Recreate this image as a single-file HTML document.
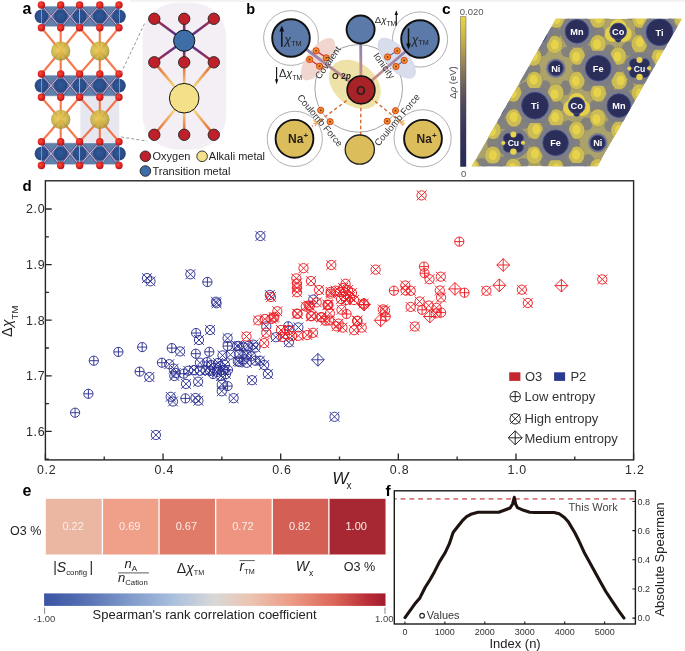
<!DOCTYPE html>
<html><head><meta charset="utf-8"><style>
html,body{margin:0;padding:0;background:#fff;}
svg{display:block;will-change:transform;font-family:"Liberation Sans", sans-serif;}
</style></head><body>
<svg width="685" height="651" viewBox="0 0 685 651">
<defs>
<radialGradient id="gy" cx="0.45" cy="0.42" r="0.6"><stop offset="0" stop-color="#ecd256"/><stop offset="0.65" stop-color="#c9ae3e"/><stop offset="1" stop-color="#a08c34"/></radialGradient>
<radialGradient id="gb" cx="0.45" cy="0.45" r="0.6"><stop offset="0" stop-color="#30599a"/><stop offset="1" stop-color="#24467e"/></radialGradient>
<radialGradient id="gr" cx="0.4" cy="0.4" r="0.6"><stop offset="0" stop-color="#f84a3a"/><stop offset="0.8" stop-color="#d41c1c"/><stop offset="1" stop-color="#b01414"/></radialGradient>
<linearGradient id="bp0" x1="0" y1="1" x2="0" y2="0"><stop offset="0" stop-color="#5a3a8a"/><stop offset="1" stop-color="#b02a40"/></linearGradient>
<linearGradient id="bp1" x1="0" y1="0" x2="0" y2="1"><stop offset="0" stop-color="#5a3a8a"/><stop offset="1" stop-color="#b02a40"/></linearGradient>
<linearGradient id="by0" x1="0" y1="1" x2="0" y2="0"><stop offset="0" stop-color="#f8d880"/><stop offset="1" stop-color="#e06030"/></linearGradient>
<linearGradient id="by1" x1="0" y1="0" x2="0" y2="1"><stop offset="0" stop-color="#f8d880"/><stop offset="1" stop-color="#e06030"/></linearGradient>
<clipPath id="cpc"><path d="M556,18.8L681.8,18.8L597.5,166.2L471.7,166.2Z"/></clipPath><linearGradient id="cbar" x1="0" y1="0" x2="0" y2="1"><stop offset="0" stop-color="#ecd63c"/><stop offset="0.15" stop-color="#c9b14a"/><stop offset="0.35" stop-color="#8c7a58"/><stop offset="0.55" stop-color="#574b5c"/><stop offset="0.75" stop-color="#38355f"/><stop offset="1" stop-color="#272a5e"/></linearGradient><linearGradient id="spc" x1="0" y1="0" x2="1" y2="0"><stop offset="0" stop-color="#3b54a5"/><stop offset="0.12" stop-color="#5670b3"/><stop offset="0.25" stop-color="#7f9acb"/><stop offset="0.38" stop-color="#abc0de"/><stop offset="0.5" stop-color="#d9d8d6"/><stop offset="0.6" stop-color="#ebc5b3"/><stop offset="0.72" stop-color="#ec9d87"/><stop offset="0.85" stop-color="#dc6658"/><stop offset="0.95" stop-color="#b82c36"/><stop offset="1" stop-color="#a21c2c"/></linearGradient></defs>
<rect x="130" y="0" width="555" height="1.8" fill="#f3f1f2"/>
<rect x="80.4" y="96" width="38.8" height="46" fill="#e7e7f0"/><line x1="60.7" y1="51.0" x2="41.4" y2="27.7" stroke="#f3622e" stroke-width="2.1" stroke-opacity="0.85"/><line x1="60.7" y1="51.0" x2="41.4" y2="74.0" stroke="#f3622e" stroke-width="2.1" stroke-opacity="0.85"/><line x1="60.7" y1="51.0" x2="60.7" y2="27.7" stroke="#f3622e" stroke-width="2.1" stroke-opacity="0.85"/><line x1="60.7" y1="51.0" x2="60.7" y2="74.0" stroke="#f3622e" stroke-width="2.1" stroke-opacity="0.85"/><line x1="60.7" y1="51.0" x2="79.6" y2="27.7" stroke="#f3622e" stroke-width="2.1" stroke-opacity="0.85"/><line x1="60.7" y1="51.0" x2="79.6" y2="74.0" stroke="#f3622e" stroke-width="2.1" stroke-opacity="0.85"/><line x1="99.8" y1="51.0" x2="79.6" y2="27.7" stroke="#f3622e" stroke-width="2.1" stroke-opacity="0.85"/><line x1="99.8" y1="51.0" x2="79.6" y2="74.0" stroke="#f3622e" stroke-width="2.1" stroke-opacity="0.85"/><line x1="99.8" y1="51.0" x2="99.8" y2="27.7" stroke="#f3622e" stroke-width="2.1" stroke-opacity="0.85"/><line x1="99.8" y1="51.0" x2="99.8" y2="74.0" stroke="#f3622e" stroke-width="2.1" stroke-opacity="0.85"/><line x1="99.8" y1="51.0" x2="119.0" y2="27.7" stroke="#f3622e" stroke-width="2.1" stroke-opacity="0.85"/><line x1="99.8" y1="51.0" x2="119.0" y2="74.0" stroke="#f3622e" stroke-width="2.1" stroke-opacity="0.85"/><line x1="60.7" y1="119.5" x2="41.4" y2="97.2" stroke="#f3622e" stroke-width="2.1" stroke-opacity="0.85"/><line x1="60.7" y1="119.5" x2="41.4" y2="141.8" stroke="#f3622e" stroke-width="2.1" stroke-opacity="0.85"/><line x1="60.7" y1="119.5" x2="60.7" y2="97.2" stroke="#f3622e" stroke-width="2.1" stroke-opacity="0.85"/><line x1="60.7" y1="119.5" x2="60.7" y2="141.8" stroke="#f3622e" stroke-width="2.1" stroke-opacity="0.85"/><line x1="60.7" y1="119.5" x2="79.6" y2="97.2" stroke="#f3622e" stroke-width="2.1" stroke-opacity="0.85"/><line x1="60.7" y1="119.5" x2="79.6" y2="141.8" stroke="#f3622e" stroke-width="2.1" stroke-opacity="0.85"/><line x1="99.8" y1="119.5" x2="79.6" y2="97.2" stroke="#f3622e" stroke-width="2.1" stroke-opacity="0.85"/><line x1="99.8" y1="119.5" x2="79.6" y2="141.8" stroke="#f3622e" stroke-width="2.1" stroke-opacity="0.85"/><line x1="99.8" y1="119.5" x2="99.8" y2="97.2" stroke="#f3622e" stroke-width="2.1" stroke-opacity="0.85"/><line x1="99.8" y1="119.5" x2="99.8" y2="141.8" stroke="#f3622e" stroke-width="2.1" stroke-opacity="0.85"/><line x1="99.8" y1="119.5" x2="119.0" y2="97.2" stroke="#f3622e" stroke-width="2.1" stroke-opacity="0.85"/><line x1="99.8" y1="119.5" x2="119.0" y2="141.8" stroke="#f3622e" stroke-width="2.1" stroke-opacity="0.85"/><circle cx="60.7" cy="51.0" r="9.7" fill="url(#gy)" opacity="0.88"/><circle cx="60.7" cy="119.5" r="9.7" fill="url(#gy)" opacity="0.88"/><circle cx="99.8" cy="51.0" r="9.7" fill="url(#gy)" opacity="0.88"/><circle cx="99.8" cy="119.5" r="9.7" fill="url(#gy)" opacity="0.88"/><rect x="41.7" y="6.2" width="37.89999999999999" height="20.3" fill="#5e80ab"/><rect x="79.6" y="6.2" width="39.7" height="20.3" fill="#5e80ab"/><circle cx="41.4" cy="16.35" r="6.8" fill="url(#gb)"/><circle cx="60.7" cy="16.35" r="6.8" fill="url(#gb)"/><circle cx="79.6" cy="16.35" r="6.8" fill="url(#gb)"/><circle cx="99.8" cy="16.35" r="6.8" fill="url(#gb)"/><circle cx="119.0" cy="16.35" r="6.8" fill="url(#gb)"/><path d="M41.4,5.0L60.7,27.7M60.7,5.0L41.4,27.7" stroke="#644884" stroke-width="2.2" opacity="0.85"/><path d="M60.7,5.0L79.6,27.7M79.6,5.0L60.7,27.7" stroke="#644884" stroke-width="2.2" opacity="0.85"/><path d="M79.6,5.0L99.8,27.7M99.8,5.0L79.6,27.7" stroke="#644884" stroke-width="2.2" opacity="0.85"/><path d="M99.8,5.0L119.0,27.7M119.0,5.0L99.8,27.7" stroke="#644884" stroke-width="2.2" opacity="0.85"/><path d="M44.10,8.18L58.00,24.52M58.00,8.18L44.10,24.52" stroke="#c8d6ea" stroke-width="0.9"/><path d="M63.35,8.18L76.95,24.52M76.95,8.18L63.35,24.52" stroke="#c8d6ea" stroke-width="0.9"/><path d="M82.43,8.18L96.97,24.52M96.97,8.18L82.43,24.52" stroke="#c8d6ea" stroke-width="0.9"/><path d="M102.49,8.18L116.31,24.52M116.31,8.18L102.49,24.52" stroke="#c8d6ea" stroke-width="0.9"/><rect x="41.7" y="6.2" width="37.89999999999999" height="20.3" fill="none" stroke="#b9bfd6" stroke-width="0.6"/><rect x="79.6" y="6.2" width="39.7" height="20.3" fill="none" stroke="#b9bfd6" stroke-width="0.6"/><circle cx="41.4" cy="5.0" r="3.7" fill="url(#gr)"/><circle cx="41.4" cy="27.7" r="3.7" fill="url(#gr)"/><circle cx="60.7" cy="5.0" r="3.7" fill="url(#gr)"/><circle cx="60.7" cy="27.7" r="3.7" fill="url(#gr)"/><circle cx="79.6" cy="5.0" r="3.7" fill="url(#gr)"/><circle cx="79.6" cy="27.7" r="3.7" fill="url(#gr)"/><circle cx="99.8" cy="5.0" r="3.7" fill="url(#gr)"/><circle cx="99.8" cy="27.7" r="3.7" fill="url(#gr)"/><circle cx="119.0" cy="5.0" r="3.7" fill="url(#gr)"/><circle cx="119.0" cy="27.7" r="3.7" fill="url(#gr)"/><rect x="41.7" y="75.2" width="37.89999999999999" height="20.800000000000004" fill="#5e80ab"/><rect x="79.6" y="75.2" width="39.7" height="20.800000000000004" fill="#5e80ab"/><circle cx="41.4" cy="85.6" r="6.8" fill="url(#gb)"/><circle cx="60.7" cy="85.6" r="6.8" fill="url(#gb)"/><circle cx="79.6" cy="85.6" r="6.8" fill="url(#gb)"/><circle cx="99.8" cy="85.6" r="6.8" fill="url(#gb)"/><circle cx="119.0" cy="85.6" r="6.8" fill="url(#gb)"/><path d="M41.4,74.0L60.7,97.2M60.7,74.0L41.4,97.2" stroke="#644884" stroke-width="2.2" opacity="0.85"/><path d="M60.7,74.0L79.6,97.2M79.6,74.0L60.7,97.2" stroke="#644884" stroke-width="2.2" opacity="0.85"/><path d="M79.6,74.0L99.8,97.2M99.8,74.0L79.6,97.2" stroke="#644884" stroke-width="2.2" opacity="0.85"/><path d="M99.8,74.0L119.0,97.2M119.0,74.0L99.8,97.2" stroke="#644884" stroke-width="2.2" opacity="0.85"/><path d="M44.10,77.25L58.00,93.95M58.00,77.25L44.10,93.95" stroke="#c8d6ea" stroke-width="0.9"/><path d="M63.35,77.25L76.95,93.95M76.95,77.25L63.35,93.95" stroke="#c8d6ea" stroke-width="0.9"/><path d="M82.43,77.25L96.97,93.95M96.97,77.25L82.43,93.95" stroke="#c8d6ea" stroke-width="0.9"/><path d="M102.49,77.25L116.31,93.95M116.31,77.25L102.49,93.95" stroke="#c8d6ea" stroke-width="0.9"/><rect x="41.7" y="75.2" width="37.89999999999999" height="20.800000000000004" fill="none" stroke="#b9bfd6" stroke-width="0.6"/><rect x="79.6" y="75.2" width="39.7" height="20.800000000000004" fill="none" stroke="#b9bfd6" stroke-width="0.6"/><circle cx="41.4" cy="74.0" r="3.7" fill="url(#gr)"/><circle cx="41.4" cy="97.2" r="3.7" fill="url(#gr)"/><circle cx="60.7" cy="74.0" r="3.7" fill="url(#gr)"/><circle cx="60.7" cy="97.2" r="3.7" fill="url(#gr)"/><circle cx="79.6" cy="74.0" r="3.7" fill="url(#gr)"/><circle cx="79.6" cy="97.2" r="3.7" fill="url(#gr)"/><circle cx="99.8" cy="74.0" r="3.7" fill="url(#gr)"/><circle cx="99.8" cy="97.2" r="3.7" fill="url(#gr)"/><circle cx="119.0" cy="74.0" r="3.7" fill="url(#gr)"/><circle cx="119.0" cy="97.2" r="3.7" fill="url(#gr)"/><rect x="41.7" y="143.0" width="37.89999999999999" height="21.29999999999999" fill="#5e80ab"/><rect x="79.6" y="143.0" width="39.7" height="21.29999999999999" fill="#5e80ab"/><circle cx="41.4" cy="153.65" r="6.8" fill="url(#gb)"/><circle cx="60.7" cy="153.65" r="6.8" fill="url(#gb)"/><circle cx="79.6" cy="153.65" r="6.8" fill="url(#gb)"/><circle cx="99.8" cy="153.65" r="6.8" fill="url(#gb)"/><circle cx="119.0" cy="153.65" r="6.8" fill="url(#gb)"/><path d="M41.4,141.8L60.7,165.5M60.7,141.8L41.4,165.5" stroke="#644884" stroke-width="2.2" opacity="0.85"/><path d="M60.7,141.8L79.6,165.5M79.6,141.8L60.7,165.5" stroke="#644884" stroke-width="2.2" opacity="0.85"/><path d="M79.6,141.8L99.8,165.5M99.8,141.8L79.6,165.5" stroke="#644884" stroke-width="2.2" opacity="0.85"/><path d="M99.8,141.8L119.0,165.5M119.0,141.8L99.8,165.5" stroke="#644884" stroke-width="2.2" opacity="0.85"/><path d="M44.10,145.12L58.00,162.18M58.00,145.12L44.10,162.18" stroke="#c8d6ea" stroke-width="0.9"/><path d="M63.35,145.12L76.95,162.18M76.95,145.12L63.35,162.18" stroke="#c8d6ea" stroke-width="0.9"/><path d="M82.43,145.12L96.97,162.18M96.97,145.12L82.43,162.18" stroke="#c8d6ea" stroke-width="0.9"/><path d="M102.49,145.12L116.31,162.18M116.31,145.12L102.49,162.18" stroke="#c8d6ea" stroke-width="0.9"/><rect x="41.7" y="143.0" width="37.89999999999999" height="21.29999999999999" fill="none" stroke="#b9bfd6" stroke-width="0.6"/><rect x="79.6" y="143.0" width="39.7" height="21.29999999999999" fill="none" stroke="#b9bfd6" stroke-width="0.6"/><circle cx="41.4" cy="141.8" r="3.7" fill="url(#gr)"/><circle cx="41.4" cy="165.5" r="3.7" fill="url(#gr)"/><circle cx="60.7" cy="141.8" r="3.7" fill="url(#gr)"/><circle cx="60.7" cy="165.5" r="3.7" fill="url(#gr)"/><circle cx="79.6" cy="141.8" r="3.7" fill="url(#gr)"/><circle cx="79.6" cy="165.5" r="3.7" fill="url(#gr)"/><circle cx="99.8" cy="141.8" r="3.7" fill="url(#gr)"/><circle cx="99.8" cy="165.5" r="3.7" fill="url(#gr)"/><circle cx="119.0" cy="141.8" r="3.7" fill="url(#gr)"/><circle cx="119.0" cy="165.5" r="3.7" fill="url(#gr)"/><path d="M121,73.3L144.6,23.5M121,137L147.4,141.1" stroke="#8a8a8a" stroke-width="0.9" stroke-dasharray="3,2.2" fill="none"/><rect x="142.6" y="2.8" width="83.6" height="146.6" rx="34" ry="34" fill="#f4eff5"/><linearGradient id="tb1" gradientUnits="userSpaceOnUse" x1="184.2" y1="40.7" x2="154.3" y2="18.8"><stop offset="0.3" stop-color="#5e3488"/><stop offset="1" stop-color="#b02a40"/></linearGradient><line x1="184.2" y1="40.7" x2="154.3" y2="18.8" stroke="url(#tb1)" stroke-width="2.6"/><linearGradient id="tb2" gradientUnits="userSpaceOnUse" x1="184.2" y1="40.7" x2="154.3" y2="62.3"><stop offset="0.3" stop-color="#5e3488"/><stop offset="1" stop-color="#b02a40"/></linearGradient><line x1="184.2" y1="40.7" x2="154.3" y2="62.3" stroke="url(#tb2)" stroke-width="2.6"/><linearGradient id="tb3" gradientUnits="userSpaceOnUse" x1="184.2" y1="40.7" x2="184.2" y2="18.8"><stop offset="0.3" stop-color="#5e3488"/><stop offset="1" stop-color="#b02a40"/></linearGradient><line x1="184.2" y1="40.7" x2="184.2" y2="18.8" stroke="url(#tb3)" stroke-width="2.6"/><linearGradient id="tb4" gradientUnits="userSpaceOnUse" x1="184.2" y1="40.7" x2="184.2" y2="62.3"><stop offset="0.3" stop-color="#5e3488"/><stop offset="1" stop-color="#b02a40"/></linearGradient><line x1="184.2" y1="40.7" x2="184.2" y2="62.3" stroke="url(#tb4)" stroke-width="2.6"/><linearGradient id="tb5" gradientUnits="userSpaceOnUse" x1="184.2" y1="40.7" x2="213.8" y2="18.8"><stop offset="0.3" stop-color="#5e3488"/><stop offset="1" stop-color="#b02a40"/></linearGradient><line x1="184.2" y1="40.7" x2="213.8" y2="18.8" stroke="url(#tb5)" stroke-width="2.6"/><linearGradient id="tb6" gradientUnits="userSpaceOnUse" x1="184.2" y1="40.7" x2="213.8" y2="62.3"><stop offset="0.3" stop-color="#5e3488"/><stop offset="1" stop-color="#b02a40"/></linearGradient><line x1="184.2" y1="40.7" x2="213.8" y2="62.3" stroke="url(#tb6)" stroke-width="2.6"/><linearGradient id="tb7" gradientUnits="userSpaceOnUse" x1="184.2" y1="98.2" x2="154.3" y2="62.3"><stop offset="0.35" stop-color="#f6d27a"/><stop offset="1" stop-color="#e0582c"/></linearGradient><line x1="184.2" y1="98.2" x2="154.3" y2="62.3" stroke="url(#tb7)" stroke-width="2.6"/><linearGradient id="tb8" gradientUnits="userSpaceOnUse" x1="184.2" y1="98.2" x2="154.3" y2="134.8"><stop offset="0.35" stop-color="#f6d27a"/><stop offset="1" stop-color="#e0582c"/></linearGradient><line x1="184.2" y1="98.2" x2="154.3" y2="134.8" stroke="url(#tb8)" stroke-width="2.6"/><linearGradient id="tb9" gradientUnits="userSpaceOnUse" x1="184.2" y1="98.2" x2="184.2" y2="62.3"><stop offset="0.35" stop-color="#f6d27a"/><stop offset="1" stop-color="#e0582c"/></linearGradient><line x1="184.2" y1="98.2" x2="184.2" y2="62.3" stroke="url(#tb9)" stroke-width="2.6"/><linearGradient id="tb10" gradientUnits="userSpaceOnUse" x1="184.2" y1="98.2" x2="184.2" y2="134.8"><stop offset="0.35" stop-color="#f6d27a"/><stop offset="1" stop-color="#e0582c"/></linearGradient><line x1="184.2" y1="98.2" x2="184.2" y2="134.8" stroke="url(#tb10)" stroke-width="2.6"/><linearGradient id="tb11" gradientUnits="userSpaceOnUse" x1="184.2" y1="98.2" x2="213.8" y2="62.3"><stop offset="0.35" stop-color="#f6d27a"/><stop offset="1" stop-color="#e0582c"/></linearGradient><line x1="184.2" y1="98.2" x2="213.8" y2="62.3" stroke="url(#tb11)" stroke-width="2.6"/><linearGradient id="tb12" gradientUnits="userSpaceOnUse" x1="184.2" y1="98.2" x2="213.8" y2="134.8"><stop offset="0.35" stop-color="#f6d27a"/><stop offset="1" stop-color="#e0582c"/></linearGradient><line x1="184.2" y1="98.2" x2="213.8" y2="134.8" stroke="url(#tb12)" stroke-width="2.6"/><circle cx="184.2" cy="40.7" r="10.6" fill="#3d6ea8" stroke="#111" stroke-width="1"/><circle cx="184.2" cy="98.2" r="14.8" fill="#f5e08a" stroke="#111" stroke-width="1"/><circle cx="154.3" cy="18.8" r="5.7" fill="#c0202a" stroke="#222" stroke-width="0.9"/><circle cx="154.3" cy="62.3" r="5.7" fill="#c0202a" stroke="#222" stroke-width="0.9"/><circle cx="154.3" cy="134.8" r="5.7" fill="#c0202a" stroke="#222" stroke-width="0.9"/><circle cx="184.2" cy="18.8" r="5.7" fill="#c0202a" stroke="#222" stroke-width="0.9"/><circle cx="184.2" cy="62.3" r="5.7" fill="#c0202a" stroke="#222" stroke-width="0.9"/><circle cx="184.2" cy="134.8" r="5.7" fill="#c0202a" stroke="#222" stroke-width="0.9"/><circle cx="213.8" cy="18.8" r="5.7" fill="#c0202a" stroke="#222" stroke-width="0.9"/><circle cx="213.8" cy="62.3" r="5.7" fill="#c0202a" stroke="#222" stroke-width="0.9"/><circle cx="213.8" cy="134.8" r="5.7" fill="#c0202a" stroke="#222" stroke-width="0.9"/><circle cx="145.4" cy="156.3" r="5.3" fill="#c0202a" stroke="#222" stroke-width="0.9"/><circle cx="202.1" cy="156.3" r="5.3" fill="#f5e08a" stroke="#222" stroke-width="0.9"/><circle cx="145.4" cy="171" r="5.3" fill="#3d6ea8" stroke="#222" stroke-width="0.9"/><text x="152.5" y="160.3" font-size="11" fill="#222">Oxygen</text><text x="208.8" y="160.3" font-size="11" fill="#222">Alkali metal</text><text x="152.5" y="175" font-size="11" fill="#222">Transition metal</text><text x="22.5" y="13.9" font-size="16" font-weight="bold" fill="#000">a</text><circle cx="291" cy="38" r="27.4" fill="none" stroke="#9a9a9a" stroke-width="0.8"/><circle cx="420" cy="39.5" r="27.6" fill="none" stroke="#9a9a9a" stroke-width="0.8"/><circle cx="294.8" cy="138.9" r="27.6" fill="none" stroke="#9a9a9a" stroke-width="0.8"/><circle cx="422.6" cy="138.3" r="28.6" fill="none" stroke="#9a9a9a" stroke-width="0.8"/><circle cx="358.7" cy="88.4" r="43.8" fill="none" stroke="#9a9a9a" stroke-width="0.9"/><ellipse cx="318.3" cy="59.3" rx="25" ry="11" transform="rotate(-54 318 59.5)" fill="#f1d6cf"/><ellipse cx="396.6" cy="58.2" rx="25" ry="11" transform="rotate(48 396.6 58.4)" fill="#d9deec" stroke="#c5cce2" stroke-width="0.6"/><ellipse cx="354.8" cy="84.3" rx="29" ry="21" transform="rotate(40 354.8 84.3)" fill="#eee2a8"/><linearGradient id="bd291" gradientUnits="userSpaceOnUse" x1="291" y1="38" x2="361" y2="89.8"><stop offset="0.25" stop-color="#8c82b4"/><stop offset="0.6" stop-color="#b48c98"/><stop offset="1" stop-color="#de8e66"/></linearGradient><line x1="291" y1="38" x2="361" y2="89.8" stroke="url(#bd291)" stroke-width="2.8"/><linearGradient id="bd360" gradientUnits="userSpaceOnUse" x1="360.6" y1="29.5" x2="361" y2="89.8"><stop offset="0.25" stop-color="#8c82b4"/><stop offset="0.6" stop-color="#b48c98"/><stop offset="1" stop-color="#de8e66"/></linearGradient><line x1="360.6" y1="29.5" x2="361" y2="89.8" stroke="url(#bd360)" stroke-width="2.8"/><linearGradient id="bd420" gradientUnits="userSpaceOnUse" x1="420" y1="39" x2="361" y2="89.8"><stop offset="0.25" stop-color="#8c82b4"/><stop offset="0.6" stop-color="#b48c98"/><stop offset="1" stop-color="#de8e66"/></linearGradient><line x1="420" y1="39" x2="361" y2="89.8" stroke="url(#bd420)" stroke-width="2.8"/><line x1="361" y1="89.8" x2="312" y2="126.5" stroke="#d56a2e" stroke-width="1.4" stroke-dasharray="3.4,2.6"/><line x1="361" y1="89.8" x2="360.6" y2="135" stroke="#d56a2e" stroke-width="1.4" stroke-dasharray="3.4,2.6"/><line x1="361" y1="89.8" x2="403.5" y2="124.5" stroke="#d56a2e" stroke-width="1.4" stroke-dasharray="3.4,2.6"/><path d="M316.1,50.8L326.3,57.8M309.6,59.5L319.6,66.2" stroke="#c8202a" stroke-width="1.1"/><path d="M397.2,50.8L387.6,56.9M404.2,60.4L396,66.5" stroke="#3a6ab0" stroke-width="1.1"/><circle cx="316.1" cy="50.8" r="3.1" fill="#f0902a" stroke="#d8441c" stroke-width="1"/><circle cx="316.1" cy="50.8" r="0.9" fill="#6a3010"/><circle cx="326.3" cy="57.8" r="3.1" fill="#f0902a" stroke="#d8441c" stroke-width="1"/><circle cx="326.3" cy="57.8" r="0.9" fill="#6a3010"/><circle cx="309.6" cy="59.5" r="3.1" fill="#f0902a" stroke="#d8441c" stroke-width="1"/><circle cx="309.6" cy="59.5" r="0.9" fill="#6a3010"/><circle cx="319.6" cy="66.2" r="3.1" fill="#f0902a" stroke="#d8441c" stroke-width="1"/><circle cx="319.6" cy="66.2" r="0.9" fill="#6a3010"/><circle cx="397.2" cy="50.8" r="3.1" fill="#f0902a" stroke="#d8441c" stroke-width="1"/><circle cx="397.2" cy="50.8" r="0.9" fill="#6a3010"/><circle cx="387.6" cy="56.9" r="3.1" fill="#f0902a" stroke="#d8441c" stroke-width="1"/><circle cx="387.6" cy="56.9" r="0.9" fill="#6a3010"/><circle cx="404.2" cy="60.4" r="3.1" fill="#f0902a" stroke="#d8441c" stroke-width="1"/><circle cx="404.2" cy="60.4" r="0.9" fill="#6a3010"/><circle cx="396" cy="66.5" r="3.1" fill="#f0902a" stroke="#d8441c" stroke-width="1"/><circle cx="396" cy="66.5" r="0.9" fill="#6a3010"/><circle cx="320.7" cy="110.3" r="3.1" fill="#f0902a" stroke="#d8441c" stroke-width="1"/><circle cx="320.7" cy="110.3" r="0.9" fill="#6a3010"/><circle cx="330.1" cy="121.7" r="3.1" fill="#f0902a" stroke="#d8441c" stroke-width="1"/><circle cx="330.1" cy="121.7" r="0.9" fill="#6a3010"/><circle cx="395.5" cy="110.7" r="3.1" fill="#f0902a" stroke="#d8441c" stroke-width="1"/><circle cx="395.5" cy="110.7" r="0.9" fill="#6a3010"/><circle cx="387.2" cy="121.2" r="3.1" fill="#f0902a" stroke="#d8441c" stroke-width="1"/><circle cx="387.2" cy="121.2" r="0.9" fill="#6a3010"/><g transform="translate(317.5 122.6) scale(1 1)"><path d="M0,0L-4,-2.2M0,0L-4.2,1M0,0L-2.5,3.5M0,0L3,-3" stroke="#f0b060" stroke-width="1.2"/></g><g transform="translate(400.4 122.4) scale(-1 1)"><path d="M0,0L-4,-2.2M0,0L-4.2,1M0,0L-2.5,3.5M0,0L3,-3" stroke="#f0b060" stroke-width="1.2"/></g><circle cx="291" cy="38" r="18.8" fill="#5b7aa9" stroke="#111" stroke-width="1.9"/><circle cx="360.6" cy="29.5" r="14.0" fill="#5b7aa9" stroke="#111" stroke-width="1.9"/><circle cx="420" cy="39" r="18.8" fill="#5b7aa9" stroke="#111" stroke-width="1.9"/><circle cx="361" cy="89.9" r="13.9" fill="#a72328" stroke="#111" stroke-width="1.6"/><text x="360.7" y="95" font-size="12.4" font-weight="bold" text-anchor="middle" fill="#2a1e1e">O</text><circle cx="359.8" cy="149.6" r="14.6" fill="#dcbd5c" stroke="#222" stroke-width="1.3"/><circle cx="294.5" cy="138.8" r="18.9" fill="#dcbd5c" stroke="#111" stroke-width="1.9"/><text x="288.1" y="142.8" font-size="12" font-weight="bold" fill="#2a2018">Na<tspan font-size="8" dy="-4.6">+</tspan></text><circle cx="423" cy="138.8" r="18.9" fill="#dcbd5c" stroke="#111" stroke-width="1.9"/><text x="416.6" y="142.8" font-size="12" font-weight="bold" fill="#2a2018">Na<tspan font-size="8" dy="-4.6">+</tspan></text><path d="M281.8,46.7V29" stroke="#111" stroke-width="1.5"/><path d="M281.8,25.5L279.4,31.5H284.2Z" fill="#111"/><text x="284.6" y="44" font-size="12" font-style="italic" fill="#222">χ<tspan font-style="normal" font-size="7.2" dy="1.6">TM</tspan></text><path d="M408.5,28.3V46" stroke="#111" stroke-width="1.5"/><path d="M408.5,49.5L406.1,43.5H410.9Z" fill="#111"/><text x="411.8" y="43.8" font-size="12" font-style="italic" fill="#222">χ<tspan font-style="normal" font-size="7.2" dy="1.6">TM</tspan></text><text x="374.8" y="22.5" font-size="9.6" fill="#222">Δ<tspan font-style="italic">χ</tspan><tspan font-size="6.8" dy="3">TM</tspan></text><path d="M396.3,25.6V13.5" stroke="#111" stroke-width="1.1"/><path d="M396.3,10.3L394.6,15H398Z" fill="#111"/><text x="279" y="76.5" font-size="11" fill="#222">Δ<tspan font-style="italic">χ</tspan><tspan font-size="6.6" dy="3">TM</tspan></text><path d="M276.6,67.1V80.5" stroke="#111" stroke-width="1.1"/><path d="M276.6,84.4L275,79.3H278.2Z" fill="#111"/><text transform="translate(330.5 64.5) rotate(-55)" font-size="9.5" text-anchor="middle" fill="#333">Covalent</text><text transform="translate(381.5 67.5) rotate(55)" font-size="9.5" text-anchor="middle" fill="#333">Ionicity</text><text x="341.5" y="79" font-size="8.5" font-weight="bold" text-anchor="middle" fill="#222">O 2<tspan font-style="italic">p</tspan></text><text transform="translate(317.5 122.5) rotate(50)" font-size="9.5" text-anchor="middle" fill="#333">Coulomb Force</text><text transform="translate(399.5 122) rotate(-50)" font-size="9.5" text-anchor="middle" fill="#333">Coulomb Force</text><text x="246.3" y="14.1" font-size="14.5" font-weight="bold" fill="#000">b</text><g clip-path="url(#cpc)"><path d="M556,18.8L681.8,18.8L597.5,166.2L471.7,166.2Z" fill="#aba26c"/><ellipse cx="555.4" cy="-116.8" rx="5.9" ry="6.5" fill="#82817e"/><ellipse cx="525.4" cy="-100.2" rx="5.0" ry="7.1" fill="#82817e"/><ellipse cx="544.9" cy="-99.6" rx="7.5" ry="6.2" fill="#82817e"/><ellipse cx="473.3" cy="31.3" rx="6.6" ry="5.4" fill="#82817e"/><ellipse cx="441.0" cy="51.4" rx="6.3" ry="6.9" fill="#82817e"/><ellipse cx="462.2" cy="48.2" rx="6.9" ry="6.5" fill="#82817e"/><ellipse cx="386.8" cy="177.9" rx="7.2" ry="6.2" fill="#82817e"/><ellipse cx="357.0" cy="199.8" rx="6.8" ry="7.3" fill="#82817e"/><ellipse cx="376.7" cy="199.5" rx="6.1" ry="7.3" fill="#82817e"/><ellipse cx="683.9" cy="-118.6" rx="5.3" ry="5.5" fill="#82817e"/><ellipse cx="652.8" cy="-98.8" rx="6.6" ry="5.8" fill="#82817e"/><ellipse cx="671.9" cy="-99.0" rx="5.9" ry="6.5" fill="#82817e"/><ellipse cx="598.3" cy="33.0" rx="6.7" ry="7.3" fill="#82817e"/><ellipse cx="567.9" cy="51.9" rx="6.7" ry="5.4" fill="#82817e"/><ellipse cx="588.9" cy="51.8" rx="7.3" ry="6.4" fill="#82817e"/><ellipse cx="514.5" cy="178.6" rx="7.1" ry="6.4" fill="#82817e"/><ellipse cx="481.2" cy="196.6" rx="7.1" ry="7.5" fill="#82817e"/><ellipse cx="501.5" cy="199.5" rx="6.0" ry="5.4" fill="#82817e"/><ellipse cx="807.6" cy="-115.9" rx="7.2" ry="5.1" fill="#82817e"/><ellipse cx="777.4" cy="-100.3" rx="6.8" ry="5.8" fill="#82817e"/><ellipse cx="799.4" cy="-96.6" rx="6.3" ry="7.5" fill="#82817e"/><ellipse cx="723.2" cy="29.7" rx="6.5" ry="5.1" fill="#82817e"/><ellipse cx="691.3" cy="49.5" rx="6.5" ry="5.4" fill="#82817e"/><ellipse cx="711.7" cy="51.4" rx="5.8" ry="7.4" fill="#82817e"/><ellipse cx="641.2" cy="179.3" rx="6.2" ry="6.3" fill="#82817e"/><ellipse cx="608.7" cy="198.7" rx="6.4" ry="6.6" fill="#82817e"/><ellipse cx="630.9" cy="198.3" rx="6.1" ry="6.8" fill="#82817e"/><ellipse cx="596.6" cy="-117.8" rx="7.4" ry="6.3" fill="#82817e"/><ellipse cx="566.3" cy="-100.5" rx="6.0" ry="6.4" fill="#82817e"/><ellipse cx="585.2" cy="-98.0" rx="6.6" ry="5.2" fill="#82817e"/><ellipse cx="513.7" cy="31.3" rx="6.7" ry="5.9" fill="#82817e"/><ellipse cx="482.5" cy="50.9" rx="5.1" ry="5.2" fill="#82817e"/><ellipse cx="503.4" cy="51.8" rx="5.6" ry="6.1" fill="#82817e"/><ellipse cx="429.2" cy="179.1" rx="5.9" ry="5.8" fill="#82817e"/><ellipse cx="396.8" cy="198.7" rx="5.8" ry="5.9" fill="#82817e"/><ellipse cx="419.4" cy="196.4" rx="6.4" ry="6.8" fill="#82817e"/><ellipse cx="722.8" cy="-118.1" rx="7.0" ry="5.6" fill="#82817e"/><ellipse cx="690.8" cy="-98.8" rx="6.7" ry="5.3" fill="#82817e"/><ellipse cx="712.4" cy="-99.2" rx="7.1" ry="6.1" fill="#82817e"/><ellipse cx="640.6" cy="30.1" rx="5.8" ry="6.6" fill="#82817e"/><ellipse cx="609.2" cy="49.7" rx="5.6" ry="5.3" fill="#82817e"/><ellipse cx="628.8" cy="48.7" rx="7.0" ry="7.1" fill="#82817e"/><ellipse cx="553.5" cy="178.9" rx="7.0" ry="6.6" fill="#82817e"/><ellipse cx="524.5" cy="197.7" rx="5.3" ry="5.7" fill="#82817e"/><ellipse cx="545.5" cy="197.4" rx="5.9" ry="6.0" fill="#82817e"/><ellipse cx="849.3" cy="-117.4" rx="7.3" ry="5.4" fill="#82817e"/><ellipse cx="816.1" cy="-96.7" rx="7.2" ry="7.5" fill="#82817e"/><ellipse cx="838.8" cy="-96.7" rx="7.3" ry="5.6" fill="#82817e"/><ellipse cx="766.2" cy="32.7" rx="6.7" ry="6.3" fill="#82817e"/><ellipse cx="732.9" cy="49.3" rx="5.6" ry="5.2" fill="#82817e"/><ellipse cx="755.1" cy="49.0" rx="7.0" ry="5.1" fill="#82817e"/><ellipse cx="682.4" cy="180.6" rx="7.3" ry="7.2" fill="#82817e"/><ellipse cx="650.9" cy="198.6" rx="5.0" ry="6.9" fill="#82817e"/><ellipse cx="669.0" cy="197.5" rx="6.7" ry="6.3" fill="#82817e"/><ellipse cx="638.7" cy="-114.4" rx="6.5" ry="5.9" fill="#82817e"/><ellipse cx="606.5" cy="-96.3" rx="6.2" ry="7.0" fill="#82817e"/><ellipse cx="627.9" cy="-98.9" rx="6.3" ry="7.0" fill="#82817e"/><ellipse cx="553.3" cy="33.4" rx="7.3" ry="7.0" fill="#82817e"/><ellipse cx="524.4" cy="48.7" rx="6.6" ry="7.2" fill="#82817e"/><ellipse cx="542.3" cy="49.8" rx="5.7" ry="6.3" fill="#82817e"/><ellipse cx="469.9" cy="180.5" rx="6.9" ry="5.0" fill="#82817e"/><ellipse cx="436.9" cy="197.6" rx="5.3" ry="5.2" fill="#82817e"/><ellipse cx="461.6" cy="200.5" rx="5.2" ry="6.3" fill="#82817e"/><ellipse cx="764.3" cy="-116.9" rx="5.9" ry="6.6" fill="#82817e"/><ellipse cx="733.8" cy="-98.3" rx="5.5" ry="5.8" fill="#82817e"/><ellipse cx="753.0" cy="-97.5" rx="6.8" ry="6.0" fill="#82817e"/><ellipse cx="678.9" cy="30.9" rx="5.9" ry="6.5" fill="#82817e"/><ellipse cx="650.2" cy="50.2" rx="7.0" ry="6.6" fill="#82817e"/><ellipse cx="669.8" cy="50.2" rx="6.2" ry="6.8" fill="#82817e"/><ellipse cx="595.9" cy="181.4" rx="6.2" ry="5.6" fill="#82817e"/><ellipse cx="564.8" cy="199.9" rx="5.2" ry="6.1" fill="#82817e"/><ellipse cx="585.4" cy="200.6" rx="7.3" ry="5.9" fill="#82817e"/><ellipse cx="892.6" cy="-115.0" rx="5.7" ry="6.2" fill="#82817e"/><ellipse cx="858.0" cy="-96.4" rx="6.7" ry="7.2" fill="#82817e"/><ellipse cx="881.7" cy="-97.0" rx="6.8" ry="6.4" fill="#82817e"/><ellipse cx="805.0" cy="32.6" rx="5.0" ry="5.4" fill="#82817e"/><ellipse cx="776.2" cy="48.9" rx="5.2" ry="5.2" fill="#82817e"/><ellipse cx="797.6" cy="49.4" rx="5.1" ry="7.1" fill="#82817e"/><ellipse cx="720.7" cy="182.0" rx="6.7" ry="7.1" fill="#82817e"/><ellipse cx="692.5" cy="199.4" rx="7.0" ry="5.1" fill="#82817e"/><ellipse cx="712.8" cy="199.1" rx="6.8" ry="5.3" fill="#82817e"/><ellipse cx="536.2" cy="-78.5" rx="5.2" ry="5.8" fill="#82817e"/><ellipse cx="504.0" cy="-60.4" rx="5.6" ry="5.4" fill="#82817e"/><ellipse cx="523.7" cy="-61.2" rx="6.9" ry="6.0" fill="#82817e"/><ellipse cx="450.3" cy="67.8" rx="5.9" ry="6.0" fill="#82817e"/><ellipse cx="417.6" cy="86.7" rx="7.4" ry="6.0" fill="#82817e"/><ellipse cx="441.3" cy="85.3" rx="6.7" ry="6.9" fill="#82817e"/><ellipse cx="367.1" cy="216.7" rx="6.2" ry="6.6" fill="#82817e"/><ellipse cx="336.5" cy="233.7" rx="5.2" ry="6.9" fill="#82817e"/><ellipse cx="357.6" cy="235.2" rx="6.1" ry="6.8" fill="#82817e"/><ellipse cx="659.9" cy="-81.1" rx="5.5" ry="6.5" fill="#82817e"/><ellipse cx="629.0" cy="-62.8" rx="6.7" ry="7.4" fill="#82817e"/><ellipse cx="649.9" cy="-60.9" rx="6.0" ry="7.1" fill="#82817e"/><ellipse cx="577.1" cy="67.3" rx="5.5" ry="5.1" fill="#82817e"/><ellipse cx="545.2" cy="86.2" rx="5.4" ry="5.9" fill="#82817e"/><ellipse cx="565.6" cy="87.8" rx="5.4" ry="7.5" fill="#82817e"/><ellipse cx="492.3" cy="217.0" rx="6.2" ry="7.1" fill="#82817e"/><ellipse cx="462.2" cy="235.3" rx="6.2" ry="6.8" fill="#82817e"/><ellipse cx="483.3" cy="234.7" rx="6.8" ry="7.4" fill="#82817e"/><ellipse cx="787.1" cy="-81.3" rx="5.6" ry="6.8" fill="#82817e"/><ellipse cx="756.4" cy="-59.9" rx="7.1" ry="5.6" fill="#82817e"/><ellipse cx="775.5" cy="-62.7" rx="5.5" ry="6.8" fill="#82817e"/><ellipse cx="704.2" cy="69.8" rx="5.6" ry="7.2" fill="#82817e"/><ellipse cx="670.6" cy="86.4" rx="6.8" ry="5.2" fill="#82817e"/><ellipse cx="690.7" cy="88.0" rx="5.7" ry="5.9" fill="#82817e"/><ellipse cx="618.7" cy="217.3" rx="5.0" ry="5.8" fill="#82817e"/><ellipse cx="586.6" cy="235.0" rx="5.5" ry="6.5" fill="#82817e"/><ellipse cx="609.7" cy="234.7" rx="6.4" ry="5.3" fill="#82817e"/><ellipse cx="576.7" cy="-79.5" rx="5.3" ry="7.2" fill="#82817e"/><ellipse cx="547.7" cy="-63.3" rx="7.4" ry="5.9" fill="#82817e"/><ellipse cx="568.2" cy="-60.7" rx="5.7" ry="6.7" fill="#82817e"/><ellipse cx="493.8" cy="69.4" rx="5.7" ry="6.9" fill="#82817e"/><ellipse cx="463.5" cy="87.4" rx="6.3" ry="5.3" fill="#82817e"/><ellipse cx="482.7" cy="86.1" rx="6.8" ry="6.7" fill="#82817e"/><ellipse cx="409.1" cy="215.3" rx="6.6" ry="6.6" fill="#82817e"/><ellipse cx="376.0" cy="236.7" rx="6.6" ry="5.3" fill="#82817e"/><ellipse cx="400.0" cy="233.7" rx="5.8" ry="6.8" fill="#82817e"/><ellipse cx="704.0" cy="-80.0" rx="6.6" ry="6.1" fill="#82817e"/><ellipse cx="671.3" cy="-63.0" rx="5.2" ry="6.8" fill="#82817e"/><ellipse cx="694.1" cy="-61.5" rx="6.8" ry="5.9" fill="#82817e"/><ellipse cx="618.3" cy="67.7" rx="7.2" ry="5.1" fill="#82817e"/><ellipse cx="587.7" cy="85.7" rx="6.9" ry="5.9" fill="#82817e"/><ellipse cx="608.0" cy="86.3" rx="6.4" ry="6.9" fill="#82817e"/><ellipse cx="534.2" cy="218.0" rx="5.3" ry="5.7" fill="#82817e"/><ellipse cx="501.7" cy="233.6" rx="6.9" ry="6.8" fill="#82817e"/><ellipse cx="523.0" cy="233.9" rx="6.0" ry="6.9" fill="#82817e"/><ellipse cx="830.9" cy="-79.2" rx="6.5" ry="5.4" fill="#82817e"/><ellipse cx="797.7" cy="-62.9" rx="6.3" ry="6.4" fill="#82817e"/><ellipse cx="817.9" cy="-62.7" rx="7.0" ry="5.1" fill="#82817e"/><ellipse cx="746.4" cy="69.8" rx="7.4" ry="6.0" fill="#82817e"/><ellipse cx="713.9" cy="87.0" rx="6.6" ry="7.4" fill="#82817e"/><ellipse cx="735.4" cy="85.9" rx="7.2" ry="6.2" fill="#82817e"/><ellipse cx="661.2" cy="217.5" rx="5.0" ry="6.9" fill="#82817e"/><ellipse cx="629.9" cy="235.1" rx="6.3" ry="6.2" fill="#82817e"/><ellipse cx="649.1" cy="235.2" rx="5.1" ry="6.3" fill="#82817e"/><ellipse cx="619.5" cy="-80.4" rx="6.4" ry="7.4" fill="#82817e"/><ellipse cx="589.0" cy="-63.2" rx="7.0" ry="6.6" fill="#82817e"/><ellipse cx="606.6" cy="-62.3" rx="5.6" ry="5.2" fill="#82817e"/><ellipse cx="534.7" cy="69.9" rx="5.8" ry="7.2" fill="#82817e"/><ellipse cx="503.8" cy="85.2" rx="7.1" ry="6.5" fill="#82817e"/><ellipse cx="525.7" cy="87.6" rx="6.8" ry="5.9" fill="#82817e"/><ellipse cx="451.3" cy="218.3" rx="7.2" ry="6.1" fill="#82817e"/><ellipse cx="419.6" cy="235.0" rx="5.3" ry="5.1" fill="#82817e"/><ellipse cx="437.9" cy="233.9" rx="5.4" ry="6.2" fill="#82817e"/><ellipse cx="745.7" cy="-80.1" rx="6.1" ry="6.6" fill="#82817e"/><ellipse cx="712.6" cy="-61.8" rx="6.9" ry="6.0" fill="#82817e"/><ellipse cx="733.1" cy="-60.1" rx="6.8" ry="5.9" fill="#82817e"/><ellipse cx="660.0" cy="68.3" rx="6.5" ry="5.6" fill="#82817e"/><ellipse cx="627.0" cy="85.5" rx="7.0" ry="5.4" fill="#82817e"/><ellipse cx="649.8" cy="85.5" rx="5.5" ry="5.4" fill="#82817e"/><ellipse cx="575.7" cy="215.3" rx="5.1" ry="5.3" fill="#82817e"/><ellipse cx="543.3" cy="235.1" rx="5.1" ry="5.1" fill="#82817e"/><ellipse cx="565.4" cy="234.7" rx="6.8" ry="5.1" fill="#82817e"/><ellipse cx="870.5" cy="-80.6" rx="5.1" ry="7.4" fill="#82817e"/><ellipse cx="838.3" cy="-63.3" rx="6.2" ry="5.4" fill="#82817e"/><ellipse cx="860.9" cy="-62.3" rx="5.3" ry="5.1" fill="#82817e"/><ellipse cx="787.4" cy="67.3" rx="7.0" ry="6.2" fill="#82817e"/><ellipse cx="756.7" cy="85.9" rx="5.6" ry="5.7" fill="#82817e"/><ellipse cx="777.3" cy="87.2" rx="5.9" ry="5.2" fill="#82817e"/><ellipse cx="702.8" cy="218.5" rx="6.5" ry="5.0" fill="#82817e"/><ellipse cx="668.7" cy="233.5" rx="5.4" ry="5.1" fill="#82817e"/><ellipse cx="689.8" cy="235.7" rx="7.3" ry="5.5" fill="#82817e"/><ellipse cx="516.3" cy="-42.9" rx="7.0" ry="7.3" fill="#82817e"/><ellipse cx="484.7" cy="-26.2" rx="5.8" ry="6.5" fill="#82817e"/><ellipse cx="505.7" cy="-25.9" rx="5.7" ry="7.1" fill="#82817e"/><ellipse cx="428.5" cy="105.2" rx="5.8" ry="6.7" fill="#82817e"/><ellipse cx="400.2" cy="122.8" rx="6.8" ry="6.8" fill="#82817e"/><ellipse cx="420.8" cy="124.3" rx="7.3" ry="5.9" fill="#82817e"/><ellipse cx="345.3" cy="252.9" rx="6.9" ry="6.2" fill="#82817e"/><ellipse cx="313.2" cy="271.2" rx="6.8" ry="6.5" fill="#82817e"/><ellipse cx="335.9" cy="272.0" rx="6.2" ry="5.4" fill="#82817e"/><ellipse cx="641.2" cy="-44.7" rx="6.2" ry="6.9" fill="#82817e"/><ellipse cx="609.6" cy="-25.9" rx="5.6" ry="7.1" fill="#82817e"/><ellipse cx="630.5" cy="-22.8" rx="7.2" ry="6.1" fill="#82817e"/><ellipse cx="557.6" cy="106.5" rx="5.8" ry="5.9" fill="#82817e"/><ellipse cx="522.8" cy="123.7" rx="7.4" ry="5.3" fill="#82817e"/><ellipse cx="545.8" cy="122.5" rx="5.2" ry="6.6" fill="#82817e"/><ellipse cx="470.6" cy="252.2" rx="5.4" ry="6.6" fill="#82817e"/><ellipse cx="440.4" cy="270.5" rx="5.6" ry="7.4" fill="#82817e"/><ellipse cx="460.0" cy="272.7" rx="6.0" ry="7.0" fill="#82817e"/><ellipse cx="766.8" cy="-41.6" rx="6.3" ry="5.5" fill="#82817e"/><ellipse cx="733.6" cy="-26.0" rx="7.1" ry="5.3" fill="#82817e"/><ellipse cx="754.0" cy="-22.4" rx="5.5" ry="7.2" fill="#82817e"/><ellipse cx="680.3" cy="105.5" rx="5.6" ry="7.1" fill="#82817e"/><ellipse cx="651.0" cy="124.7" rx="6.9" ry="7.2" fill="#82817e"/><ellipse cx="670.9" cy="124.5" rx="6.1" ry="5.3" fill="#82817e"/><ellipse cx="598.9" cy="254.4" rx="7.0" ry="5.5" fill="#82817e"/><ellipse cx="566.3" cy="272.4" rx="6.8" ry="5.2" fill="#82817e"/><ellipse cx="586.5" cy="272.4" rx="5.2" ry="6.4" fill="#82817e"/><ellipse cx="557.0" cy="-43.1" rx="6.6" ry="6.5" fill="#82817e"/><ellipse cx="523.5" cy="-24.9" rx="7.5" ry="5.8" fill="#82817e"/><ellipse cx="545.3" cy="-26.0" rx="5.5" ry="5.4" fill="#82817e"/><ellipse cx="473.4" cy="106.5" rx="7.2" ry="7.5" fill="#82817e"/><ellipse cx="440.6" cy="125.8" rx="6.3" ry="6.0" fill="#82817e"/><ellipse cx="463.0" cy="125.7" rx="7.4" ry="6.2" fill="#82817e"/><ellipse cx="388.4" cy="253.6" rx="7.5" ry="7.3" fill="#82817e"/><ellipse cx="355.0" cy="274.2" rx="5.5" ry="5.2" fill="#82817e"/><ellipse cx="377.7" cy="271.7" rx="6.3" ry="6.6" fill="#82817e"/><ellipse cx="680.3" cy="-41.8" rx="5.7" ry="6.1" fill="#82817e"/><ellipse cx="650.0" cy="-23.3" rx="6.9" ry="5.7" fill="#82817e"/><ellipse cx="670.0" cy="-25.1" rx="6.0" ry="5.2" fill="#82817e"/><ellipse cx="596.3" cy="106.7" rx="6.8" ry="7.4" fill="#82817e"/><ellipse cx="568.1" cy="125.6" rx="5.9" ry="5.4" fill="#82817e"/><ellipse cx="586.4" cy="124.0" rx="6.3" ry="6.4" fill="#82817e"/><ellipse cx="512.7" cy="255.4" rx="5.7" ry="6.2" fill="#82817e"/><ellipse cx="483.3" cy="273.7" rx="5.7" ry="5.6" fill="#82817e"/><ellipse cx="504.0" cy="270.5" rx="5.3" ry="6.3" fill="#82817e"/><ellipse cx="808.2" cy="-44.1" rx="5.1" ry="5.5" fill="#82817e"/><ellipse cx="777.7" cy="-24.4" rx="7.4" ry="7.0" fill="#82817e"/><ellipse cx="799.5" cy="-26.2" rx="5.5" ry="5.0" fill="#82817e"/><ellipse cx="723.4" cy="105.0" rx="5.1" ry="6.4" fill="#82817e"/><ellipse cx="690.6" cy="123.3" rx="5.6" ry="7.0" fill="#82817e"/><ellipse cx="712.9" cy="123.1" rx="5.1" ry="6.1" fill="#82817e"/><ellipse cx="639.8" cy="254.7" rx="7.3" ry="7.0" fill="#82817e"/><ellipse cx="606.8" cy="271.0" rx="6.9" ry="7.0" fill="#82817e"/><ellipse cx="628.8" cy="273.8" rx="6.4" ry="5.7" fill="#82817e"/><ellipse cx="597.0" cy="-44.7" rx="6.6" ry="7.2" fill="#82817e"/><ellipse cx="568.4" cy="-24.4" rx="6.7" ry="7.3" fill="#82817e"/><ellipse cx="589.1" cy="-23.9" rx="6.0" ry="6.3" fill="#82817e"/><ellipse cx="512.6" cy="104.3" rx="6.7" ry="7.5" fill="#82817e"/><ellipse cx="482.6" cy="123.7" rx="5.9" ry="6.1" fill="#82817e"/><ellipse cx="504.6" cy="123.9" rx="7.4" ry="5.4" fill="#82817e"/><ellipse cx="428.8" cy="254.1" rx="6.0" ry="7.1" fill="#82817e"/><ellipse cx="399.3" cy="274.2" rx="6.5" ry="5.1" fill="#82817e"/><ellipse cx="419.3" cy="272.7" rx="6.2" ry="5.7" fill="#82817e"/><ellipse cx="725.1" cy="-41.2" rx="5.3" ry="6.7" fill="#82817e"/><ellipse cx="692.3" cy="-24.2" rx="7.2" ry="7.4" fill="#82817e"/><ellipse cx="714.4" cy="-25.5" rx="7.3" ry="5.5" fill="#82817e"/><ellipse cx="639.4" cy="106.9" rx="5.8" ry="5.7" fill="#82817e"/><ellipse cx="610.2" cy="125.9" rx="5.8" ry="6.0" fill="#82817e"/><ellipse cx="628.5" cy="122.6" rx="5.6" ry="7.5" fill="#82817e"/><ellipse cx="553.8" cy="252.9" rx="5.5" ry="5.2" fill="#82817e"/><ellipse cx="524.1" cy="273.5" rx="7.1" ry="6.6" fill="#82817e"/><ellipse cx="546.3" cy="270.5" rx="5.7" ry="7.4" fill="#82817e"/><ellipse cx="848.6" cy="-43.7" rx="6.2" ry="5.7" fill="#82817e"/><ellipse cx="819.0" cy="-26.1" rx="5.6" ry="7.4" fill="#82817e"/><ellipse cx="838.4" cy="-22.7" rx="5.4" ry="7.5" fill="#82817e"/><ellipse cx="766.6" cy="106.2" rx="5.4" ry="5.1" fill="#82817e"/><ellipse cx="735.4" cy="122.8" rx="5.5" ry="7.1" fill="#82817e"/><ellipse cx="756.9" cy="122.3" rx="7.4" ry="6.3" fill="#82817e"/><ellipse cx="681.0" cy="252.4" rx="6.0" ry="7.5" fill="#82817e"/><ellipse cx="649.1" cy="271.0" rx="5.4" ry="5.3" fill="#82817e"/><ellipse cx="670.4" cy="274.2" rx="5.2" ry="5.5" fill="#82817e"/><ellipse cx="494.6" cy="-3.6" rx="7.4" ry="5.6" fill="#82817e"/><ellipse cx="460.7" cy="14.7" rx="6.2" ry="6.8" fill="#82817e"/><ellipse cx="481.6" cy="11.0" rx="5.9" ry="6.9" fill="#82817e"/><ellipse cx="409.5" cy="143.1" rx="6.2" ry="6.3" fill="#82817e"/><ellipse cx="376.7" cy="161.4" rx="7.1" ry="5.5" fill="#82817e"/><ellipse cx="398.3" cy="163.0" rx="7.1" ry="5.4" fill="#82817e"/><ellipse cx="325.9" cy="292.6" rx="5.4" ry="5.7" fill="#82817e"/><ellipse cx="291.3" cy="307.9" rx="7.4" ry="6.0" fill="#82817e"/><ellipse cx="315.0" cy="308.2" rx="5.0" ry="7.2" fill="#82817e"/><ellipse cx="620.0" cy="-3.6" rx="6.7" ry="6.3" fill="#82817e"/><ellipse cx="588.4" cy="11.3" rx="6.4" ry="6.1" fill="#82817e"/><ellipse cx="606.9" cy="13.3" rx="5.8" ry="6.3" fill="#82817e"/><ellipse cx="533.9" cy="142.1" rx="5.9" ry="6.5" fill="#82817e"/><ellipse cx="504.8" cy="163.0" rx="7.2" ry="7.1" fill="#82817e"/><ellipse cx="523.0" cy="163.2" rx="5.7" ry="5.3" fill="#82817e"/><ellipse cx="450.0" cy="292.1" rx="5.9" ry="6.6" fill="#82817e"/><ellipse cx="417.6" cy="311.6" rx="6.1" ry="6.2" fill="#82817e"/><ellipse cx="439.6" cy="311.2" rx="7.5" ry="6.3" fill="#82817e"/><ellipse cx="744.6" cy="-5.1" rx="5.2" ry="6.1" fill="#82817e"/><ellipse cx="714.7" cy="14.0" rx="5.1" ry="7.1" fill="#82817e"/><ellipse cx="733.8" cy="14.8" rx="5.9" ry="5.5" fill="#82817e"/><ellipse cx="660.6" cy="144.3" rx="6.1" ry="7.2" fill="#82817e"/><ellipse cx="629.7" cy="160.7" rx="5.8" ry="6.3" fill="#82817e"/><ellipse cx="649.5" cy="160.8" rx="6.6" ry="7.2" fill="#82817e"/><ellipse cx="576.3" cy="289.8" rx="5.5" ry="5.9" fill="#82817e"/><ellipse cx="545.0" cy="308.3" rx="5.2" ry="5.8" fill="#82817e"/><ellipse cx="564.6" cy="307.8" rx="6.3" ry="7.3" fill="#82817e"/><ellipse cx="535.1" cy="-4.7" rx="7.1" ry="7.1" fill="#82817e"/><ellipse cx="505.2" cy="12.7" rx="6.7" ry="5.3" fill="#82817e"/><ellipse cx="526.0" cy="12.4" rx="6.2" ry="7.2" fill="#82817e"/><ellipse cx="449.7" cy="141.6" rx="7.1" ry="6.5" fill="#82817e"/><ellipse cx="417.4" cy="159.4" rx="5.9" ry="5.0" fill="#82817e"/><ellipse cx="441.4" cy="160.0" rx="5.7" ry="6.0" fill="#82817e"/><ellipse cx="366.2" cy="290.9" rx="6.6" ry="6.6" fill="#82817e"/><ellipse cx="334.4" cy="308.1" rx="7.4" ry="6.7" fill="#82817e"/><ellipse cx="354.0" cy="309.5" rx="6.9" ry="7.5" fill="#82817e"/><ellipse cx="659.3" cy="-7.6" rx="6.2" ry="6.1" fill="#82817e"/><ellipse cx="631.1" cy="14.2" rx="5.8" ry="6.0" fill="#82817e"/><ellipse cx="650.8" cy="14.4" rx="5.5" ry="6.0" fill="#82817e"/><ellipse cx="575.0" cy="143.4" rx="5.1" ry="7.3" fill="#82817e"/><ellipse cx="545.2" cy="161.6" rx="5.2" ry="5.6" fill="#82817e"/><ellipse cx="566.0" cy="162.7" rx="6.3" ry="5.7" fill="#82817e"/><ellipse cx="494.1" cy="291.8" rx="6.3" ry="5.5" fill="#82817e"/><ellipse cx="459.9" cy="311.3" rx="5.3" ry="6.3" fill="#82817e"/><ellipse cx="482.2" cy="309.1" rx="6.9" ry="7.3" fill="#82817e"/><ellipse cx="788.4" cy="-4.6" rx="5.5" ry="5.1" fill="#82817e"/><ellipse cx="755.2" cy="12.1" rx="5.5" ry="7.2" fill="#82817e"/><ellipse cx="775.4" cy="14.2" rx="7.3" ry="5.3" fill="#82817e"/><ellipse cx="704.3" cy="142.4" rx="5.5" ry="5.5" fill="#82817e"/><ellipse cx="669.3" cy="161.3" rx="6.0" ry="7.1" fill="#82817e"/><ellipse cx="693.4" cy="159.5" rx="6.0" ry="6.0" fill="#82817e"/><ellipse cx="616.9" cy="290.2" rx="5.7" ry="6.7" fill="#82817e"/><ellipse cx="586.1" cy="308.1" rx="5.6" ry="6.1" fill="#82817e"/><ellipse cx="608.0" cy="308.7" rx="6.7" ry="5.5" fill="#82817e"/><ellipse cx="577.9" cy="-5.2" rx="5.4" ry="6.9" fill="#82817e"/><ellipse cx="545.3" cy="13.1" rx="6.5" ry="6.6" fill="#82817e"/><ellipse cx="566.5" cy="11.1" rx="7.0" ry="7.1" fill="#82817e"/><ellipse cx="492.8" cy="143.1" rx="5.7" ry="7.2" fill="#82817e"/><ellipse cx="462.0" cy="160.2" rx="7.0" ry="7.5" fill="#82817e"/><ellipse cx="481.7" cy="163.3" rx="6.2" ry="5.4" fill="#82817e"/><ellipse cx="409.3" cy="290.6" rx="6.8" ry="6.5" fill="#82817e"/><ellipse cx="375.3" cy="309.8" rx="7.1" ry="6.2" fill="#82817e"/><ellipse cx="398.1" cy="311.2" rx="6.1" ry="6.2" fill="#82817e"/><ellipse cx="703.5" cy="-4.3" rx="5.5" ry="5.2" fill="#82817e"/><ellipse cx="672.7" cy="13.1" rx="5.8" ry="7.2" fill="#82817e"/><ellipse cx="694.2" cy="13.1" rx="7.5" ry="7.1" fill="#82817e"/><ellipse cx="619.8" cy="142.0" rx="5.0" ry="6.7" fill="#82817e"/><ellipse cx="588.2" cy="160.7" rx="6.2" ry="6.4" fill="#82817e"/><ellipse cx="607.3" cy="162.1" rx="6.4" ry="6.0" fill="#82817e"/><ellipse cx="532.8" cy="291.4" rx="5.8" ry="6.8" fill="#82817e"/><ellipse cx="501.6" cy="309.3" rx="5.5" ry="6.0" fill="#82817e"/><ellipse cx="524.2" cy="308.1" rx="5.1" ry="6.2" fill="#82817e"/><ellipse cx="828.0" cy="-5.6" rx="5.4" ry="5.3" fill="#82817e"/><ellipse cx="797.9" cy="14.6" rx="7.2" ry="6.3" fill="#82817e"/><ellipse cx="818.3" cy="11.2" rx="5.7" ry="5.8" fill="#82817e"/><ellipse cx="746.6" cy="141.3" rx="7.4" ry="6.2" fill="#82817e"/><ellipse cx="713.0" cy="160.3" rx="7.4" ry="5.5" fill="#82817e"/><ellipse cx="734.6" cy="161.3" rx="5.5" ry="5.6" fill="#82817e"/><ellipse cx="662.3" cy="292.4" rx="6.8" ry="7.3" fill="#82817e"/><ellipse cx="627.3" cy="310.5" rx="6.9" ry="5.6" fill="#82817e"/><ellipse cx="649.7" cy="311.6" rx="5.8" ry="6.9" fill="#82817e"/><ellipse cx="556.4" cy="-104.6" rx="8" ry="9" fill="#cbbc58" stroke="#7a7040" stroke-width="0.5" stroke-dasharray="1.2,1"/><ellipse cx="555.4" cy="-104.1" rx="4" ry="5" fill="#e6d34a"/><ellipse cx="535.4" cy="-92.3" rx="8" ry="9" fill="#cbbc58" stroke="#7a7040" stroke-width="0.5" stroke-dasharray="1.2,1"/><ellipse cx="534.7" cy="-92.3" rx="4" ry="5" fill="#e6d34a"/><ellipse cx="472.0" cy="43.8" rx="8" ry="9" fill="#cbbc58" stroke="#7a7040" stroke-width="0.5" stroke-dasharray="1.2,1"/><ellipse cx="471.6" cy="44.9" rx="4" ry="5" fill="#e6d34a"/><ellipse cx="451.0" cy="56.1" rx="8" ry="9" fill="#cbbc58" stroke="#7a7040" stroke-width="0.5" stroke-dasharray="1.2,1"/><ellipse cx="451.7" cy="56.1" rx="4" ry="5" fill="#e6d34a"/><ellipse cx="387.6" cy="192.2" rx="8" ry="9" fill="#cbbc58" stroke="#7a7040" stroke-width="0.5" stroke-dasharray="1.2,1"/><ellipse cx="388.2" cy="192.0" rx="4" ry="5" fill="#e6d34a"/><ellipse cx="366.6" cy="204.5" rx="8" ry="9" fill="#cbbc58" stroke="#7a7040" stroke-width="0.5" stroke-dasharray="1.2,1"/><ellipse cx="367.5" cy="203.8" rx="4" ry="5" fill="#e6d34a"/><ellipse cx="682.4" cy="-104.6" rx="8" ry="9" fill="#cbbc58" stroke="#7a7040" stroke-width="0.5" stroke-dasharray="1.2,1"/><ellipse cx="682.5" cy="-104.3" rx="4" ry="5" fill="#e6d34a"/><ellipse cx="661.4" cy="-92.3" rx="8" ry="9" fill="#cbbc58" stroke="#7a7040" stroke-width="0.5" stroke-dasharray="1.2,1"/><ellipse cx="661.1" cy="-93.7" rx="4" ry="5" fill="#e6d34a"/><ellipse cx="598.0" cy="43.8" rx="8" ry="9" fill="#cbbc58" stroke="#7a7040" stroke-width="0.5" stroke-dasharray="1.2,1"/><ellipse cx="597.0" cy="44.2" rx="4" ry="5" fill="#e6d34a"/><ellipse cx="577.0" cy="56.1" rx="8" ry="9" fill="#cbbc58" stroke="#7a7040" stroke-width="0.5" stroke-dasharray="1.2,1"/><ellipse cx="576.1" cy="56.9" rx="4" ry="5" fill="#e6d34a"/><ellipse cx="513.6" cy="192.2" rx="8" ry="9" fill="#cbbc58" stroke="#7a7040" stroke-width="0.5" stroke-dasharray="1.2,1"/><ellipse cx="513.6" cy="193.6" rx="4" ry="5" fill="#e6d34a"/><ellipse cx="492.6" cy="204.5" rx="8" ry="9" fill="#cbbc58" stroke="#7a7040" stroke-width="0.5" stroke-dasharray="1.2,1"/><ellipse cx="493.6" cy="205.2" rx="4" ry="5" fill="#e6d34a"/><ellipse cx="808.4" cy="-104.6" rx="8" ry="9" fill="#cbbc58" stroke="#7a7040" stroke-width="0.5" stroke-dasharray="1.2,1"/><ellipse cx="808.0" cy="-106.0" rx="4" ry="5" fill="#e6d34a"/><ellipse cx="787.4" cy="-92.3" rx="8" ry="9" fill="#cbbc58" stroke="#7a7040" stroke-width="0.5" stroke-dasharray="1.2,1"/><ellipse cx="787.6" cy="-91.6" rx="4" ry="5" fill="#e6d34a"/><ellipse cx="724.0" cy="43.8" rx="8" ry="9" fill="#cbbc58" stroke="#7a7040" stroke-width="0.5" stroke-dasharray="1.2,1"/><ellipse cx="725.3" cy="42.9" rx="4" ry="5" fill="#e6d34a"/><ellipse cx="703.0" cy="56.1" rx="8" ry="9" fill="#cbbc58" stroke="#7a7040" stroke-width="0.5" stroke-dasharray="1.2,1"/><ellipse cx="702.0" cy="57.5" rx="4" ry="5" fill="#e6d34a"/><ellipse cx="639.6" cy="192.2" rx="8" ry="9" fill="#cbbc58" stroke="#7a7040" stroke-width="0.5" stroke-dasharray="1.2,1"/><ellipse cx="640.3" cy="192.2" rx="4" ry="5" fill="#e6d34a"/><ellipse cx="618.6" cy="204.5" rx="8" ry="9" fill="#cbbc58" stroke="#7a7040" stroke-width="0.5" stroke-dasharray="1.2,1"/><ellipse cx="619.3" cy="203.4" rx="4" ry="5" fill="#e6d34a"/><ellipse cx="597.6" cy="-104.6" rx="8" ry="9" fill="#cbbc58" stroke="#7a7040" stroke-width="0.5" stroke-dasharray="1.2,1"/><ellipse cx="597.7" cy="-104.1" rx="4" ry="5" fill="#e6d34a"/><ellipse cx="576.6" cy="-92.3" rx="8" ry="9" fill="#cbbc58" stroke="#7a7040" stroke-width="0.5" stroke-dasharray="1.2,1"/><ellipse cx="576.9" cy="-93.3" rx="4" ry="5" fill="#e6d34a"/><ellipse cx="513.2" cy="43.8" rx="8" ry="9" fill="#cbbc58" stroke="#7a7040" stroke-width="0.5" stroke-dasharray="1.2,1"/><ellipse cx="512.1" cy="44.2" rx="4" ry="5" fill="#e6d34a"/><ellipse cx="492.2" cy="56.1" rx="8" ry="9" fill="#cbbc58" stroke="#7a7040" stroke-width="0.5" stroke-dasharray="1.2,1"/><ellipse cx="493.4" cy="55.0" rx="4" ry="5" fill="#e6d34a"/><ellipse cx="428.8" cy="192.2" rx="8" ry="9" fill="#cbbc58" stroke="#7a7040" stroke-width="0.5" stroke-dasharray="1.2,1"/><ellipse cx="427.3" cy="190.9" rx="4" ry="5" fill="#e6d34a"/><ellipse cx="407.8" cy="204.5" rx="8" ry="9" fill="#cbbc58" stroke="#7a7040" stroke-width="0.5" stroke-dasharray="1.2,1"/><ellipse cx="408.7" cy="204.2" rx="4" ry="5" fill="#e6d34a"/><ellipse cx="723.6" cy="-104.6" rx="8" ry="9" fill="#cbbc58" stroke="#7a7040" stroke-width="0.5" stroke-dasharray="1.2,1"/><ellipse cx="723.5" cy="-103.1" rx="4" ry="5" fill="#e6d34a"/><ellipse cx="702.6" cy="-92.3" rx="8" ry="9" fill="#cbbc58" stroke="#7a7040" stroke-width="0.5" stroke-dasharray="1.2,1"/><ellipse cx="702.9" cy="-93.0" rx="4" ry="5" fill="#e6d34a"/><ellipse cx="639.2" cy="43.8" rx="8" ry="9" fill="#cbbc58" stroke="#7a7040" stroke-width="0.5" stroke-dasharray="1.2,1"/><ellipse cx="639.8" cy="42.3" rx="4" ry="5" fill="#e6d34a"/><ellipse cx="618.2" cy="56.1" rx="8" ry="9" fill="#cbbc58" stroke="#7a7040" stroke-width="0.5" stroke-dasharray="1.2,1"/><ellipse cx="617.5" cy="56.7" rx="4" ry="5" fill="#e6d34a"/><ellipse cx="554.8" cy="192.2" rx="8" ry="9" fill="#cbbc58" stroke="#7a7040" stroke-width="0.5" stroke-dasharray="1.2,1"/><ellipse cx="553.8" cy="190.8" rx="4" ry="5" fill="#e6d34a"/><ellipse cx="533.8" cy="204.5" rx="8" ry="9" fill="#cbbc58" stroke="#7a7040" stroke-width="0.5" stroke-dasharray="1.2,1"/><ellipse cx="533.9" cy="204.0" rx="4" ry="5" fill="#e6d34a"/><ellipse cx="849.6" cy="-104.6" rx="8" ry="9" fill="#cbbc58" stroke="#7a7040" stroke-width="0.5" stroke-dasharray="1.2,1"/><ellipse cx="851.0" cy="-105.8" rx="4" ry="5" fill="#e6d34a"/><ellipse cx="828.6" cy="-92.3" rx="8" ry="9" fill="#cbbc58" stroke="#7a7040" stroke-width="0.5" stroke-dasharray="1.2,1"/><ellipse cx="829.5" cy="-92.6" rx="4" ry="5" fill="#e6d34a"/><ellipse cx="765.2" cy="43.8" rx="8" ry="9" fill="#cbbc58" stroke="#7a7040" stroke-width="0.5" stroke-dasharray="1.2,1"/><ellipse cx="766.1" cy="43.6" rx="4" ry="5" fill="#e6d34a"/><ellipse cx="744.2" cy="56.1" rx="8" ry="9" fill="#cbbc58" stroke="#7a7040" stroke-width="0.5" stroke-dasharray="1.2,1"/><ellipse cx="744.7" cy="55.6" rx="4" ry="5" fill="#e6d34a"/><ellipse cx="680.8" cy="192.2" rx="8" ry="9" fill="#cbbc58" stroke="#7a7040" stroke-width="0.5" stroke-dasharray="1.2,1"/><ellipse cx="680.0" cy="192.1" rx="4" ry="5" fill="#e6d34a"/><ellipse cx="659.8" cy="204.5" rx="8" ry="9" fill="#cbbc58" stroke="#7a7040" stroke-width="0.5" stroke-dasharray="1.2,1"/><ellipse cx="660.7" cy="204.0" rx="4" ry="5" fill="#e6d34a"/><ellipse cx="639.0" cy="-103.8" rx="8" ry="9" fill="#cbbc58" stroke="#7a7040" stroke-width="0.5" stroke-dasharray="1.2,1"/><ellipse cx="638.2" cy="-104.1" rx="4" ry="5" fill="#e6d34a"/><ellipse cx="618.0" cy="-91.5" rx="8" ry="9" fill="#cbbc58" stroke="#7a7040" stroke-width="0.5" stroke-dasharray="1.2,1"/><ellipse cx="616.8" cy="-92.1" rx="4" ry="5" fill="#e6d34a"/><ellipse cx="554.6" cy="44.6" rx="8" ry="9" fill="#cbbc58" stroke="#7a7040" stroke-width="0.5" stroke-dasharray="1.2,1"/><ellipse cx="554.8" cy="44.7" rx="4" ry="5" fill="#e6d34a"/><ellipse cx="533.6" cy="56.9" rx="8" ry="9" fill="#cbbc58" stroke="#7a7040" stroke-width="0.5" stroke-dasharray="1.2,1"/><ellipse cx="533.9" cy="56.3" rx="4" ry="5" fill="#e6d34a"/><ellipse cx="470.2" cy="193.0" rx="8" ry="9" fill="#cbbc58" stroke="#7a7040" stroke-width="0.5" stroke-dasharray="1.2,1"/><ellipse cx="468.8" cy="191.6" rx="4" ry="5" fill="#e6d34a"/><ellipse cx="449.2" cy="205.3" rx="8" ry="9" fill="#cbbc58" stroke="#7a7040" stroke-width="0.5" stroke-dasharray="1.2,1"/><ellipse cx="448.7" cy="204.4" rx="4" ry="5" fill="#e6d34a"/><ellipse cx="765.0" cy="-103.8" rx="8" ry="9" fill="#cbbc58" stroke="#7a7040" stroke-width="0.5" stroke-dasharray="1.2,1"/><ellipse cx="765.2" cy="-104.5" rx="4" ry="5" fill="#e6d34a"/><ellipse cx="744.0" cy="-91.5" rx="8" ry="9" fill="#cbbc58" stroke="#7a7040" stroke-width="0.5" stroke-dasharray="1.2,1"/><ellipse cx="744.8" cy="-91.2" rx="4" ry="5" fill="#e6d34a"/><ellipse cx="680.6" cy="44.6" rx="8" ry="9" fill="#cbbc58" stroke="#7a7040" stroke-width="0.5" stroke-dasharray="1.2,1"/><ellipse cx="681.1" cy="45.3" rx="4" ry="5" fill="#e6d34a"/><ellipse cx="659.6" cy="56.9" rx="8" ry="9" fill="#cbbc58" stroke="#7a7040" stroke-width="0.5" stroke-dasharray="1.2,1"/><ellipse cx="659.7" cy="56.7" rx="4" ry="5" fill="#e6d34a"/><ellipse cx="596.2" cy="193.0" rx="8" ry="9" fill="#cbbc58" stroke="#7a7040" stroke-width="0.5" stroke-dasharray="1.2,1"/><ellipse cx="595.6" cy="191.7" rx="4" ry="5" fill="#e6d34a"/><ellipse cx="575.2" cy="205.3" rx="8" ry="9" fill="#cbbc58" stroke="#7a7040" stroke-width="0.5" stroke-dasharray="1.2,1"/><ellipse cx="576.1" cy="205.3" rx="4" ry="5" fill="#e6d34a"/><ellipse cx="891.0" cy="-103.8" rx="8" ry="9" fill="#cbbc58" stroke="#7a7040" stroke-width="0.5" stroke-dasharray="1.2,1"/><ellipse cx="889.8" cy="-102.5" rx="4" ry="5" fill="#e6d34a"/><ellipse cx="870.0" cy="-91.5" rx="8" ry="9" fill="#cbbc58" stroke="#7a7040" stroke-width="0.5" stroke-dasharray="1.2,1"/><ellipse cx="870.2" cy="-91.1" rx="4" ry="5" fill="#e6d34a"/><ellipse cx="806.6" cy="44.6" rx="8" ry="9" fill="#cbbc58" stroke="#7a7040" stroke-width="0.5" stroke-dasharray="1.2,1"/><ellipse cx="806.4" cy="43.5" rx="4" ry="5" fill="#e6d34a"/><ellipse cx="785.6" cy="56.9" rx="8" ry="9" fill="#cbbc58" stroke="#7a7040" stroke-width="0.5" stroke-dasharray="1.2,1"/><ellipse cx="787.1" cy="55.9" rx="4" ry="5" fill="#e6d34a"/><ellipse cx="722.2" cy="193.0" rx="8" ry="9" fill="#cbbc58" stroke="#7a7040" stroke-width="0.5" stroke-dasharray="1.2,1"/><ellipse cx="721.8" cy="194.5" rx="4" ry="5" fill="#e6d34a"/><ellipse cx="701.2" cy="205.3" rx="8" ry="9" fill="#cbbc58" stroke="#7a7040" stroke-width="0.5" stroke-dasharray="1.2,1"/><ellipse cx="700.1" cy="205.3" rx="4" ry="5" fill="#e6d34a"/><ellipse cx="535.2" cy="-67.8" rx="8" ry="9" fill="#cbbc58" stroke="#7a7040" stroke-width="0.5" stroke-dasharray="1.2,1"/><ellipse cx="535.1" cy="-68.6" rx="4" ry="5" fill="#e6d34a"/><ellipse cx="514.2" cy="-55.5" rx="8" ry="9" fill="#cbbc58" stroke="#7a7040" stroke-width="0.5" stroke-dasharray="1.2,1"/><ellipse cx="515.5" cy="-55.8" rx="4" ry="5" fill="#e6d34a"/><ellipse cx="450.8" cy="80.6" rx="8" ry="9" fill="#cbbc58" stroke="#7a7040" stroke-width="0.5" stroke-dasharray="1.2,1"/><ellipse cx="449.3" cy="80.5" rx="4" ry="5" fill="#e6d34a"/><ellipse cx="429.8" cy="92.9" rx="8" ry="9" fill="#cbbc58" stroke="#7a7040" stroke-width="0.5" stroke-dasharray="1.2,1"/><ellipse cx="428.3" cy="93.5" rx="4" ry="5" fill="#e6d34a"/><ellipse cx="366.4" cy="229.0" rx="8" ry="9" fill="#cbbc58" stroke="#7a7040" stroke-width="0.5" stroke-dasharray="1.2,1"/><ellipse cx="367.5" cy="230.2" rx="4" ry="5" fill="#e6d34a"/><ellipse cx="345.4" cy="241.3" rx="8" ry="9" fill="#cbbc58" stroke="#7a7040" stroke-width="0.5" stroke-dasharray="1.2,1"/><ellipse cx="344.0" cy="241.8" rx="4" ry="5" fill="#e6d34a"/><ellipse cx="661.2" cy="-67.8" rx="8" ry="9" fill="#cbbc58" stroke="#7a7040" stroke-width="0.5" stroke-dasharray="1.2,1"/><ellipse cx="660.6" cy="-67.9" rx="4" ry="5" fill="#e6d34a"/><ellipse cx="640.2" cy="-55.5" rx="8" ry="9" fill="#cbbc58" stroke="#7a7040" stroke-width="0.5" stroke-dasharray="1.2,1"/><ellipse cx="639.6" cy="-56.1" rx="4" ry="5" fill="#e6d34a"/><ellipse cx="576.8" cy="80.6" rx="8" ry="9" fill="#cbbc58" stroke="#7a7040" stroke-width="0.5" stroke-dasharray="1.2,1"/><ellipse cx="575.7" cy="81.0" rx="4" ry="5" fill="#e6d34a"/><ellipse cx="555.8" cy="92.9" rx="8" ry="9" fill="#cbbc58" stroke="#7a7040" stroke-width="0.5" stroke-dasharray="1.2,1"/><ellipse cx="554.6" cy="94.3" rx="4" ry="5" fill="#e6d34a"/><ellipse cx="492.4" cy="229.0" rx="8" ry="9" fill="#cbbc58" stroke="#7a7040" stroke-width="0.5" stroke-dasharray="1.2,1"/><ellipse cx="491.0" cy="230.4" rx="4" ry="5" fill="#e6d34a"/><ellipse cx="471.4" cy="241.3" rx="8" ry="9" fill="#cbbc58" stroke="#7a7040" stroke-width="0.5" stroke-dasharray="1.2,1"/><ellipse cx="470.5" cy="240.1" rx="4" ry="5" fill="#e6d34a"/><ellipse cx="787.2" cy="-67.8" rx="8" ry="9" fill="#cbbc58" stroke="#7a7040" stroke-width="0.5" stroke-dasharray="1.2,1"/><ellipse cx="787.9" cy="-67.7" rx="4" ry="5" fill="#e6d34a"/><ellipse cx="766.2" cy="-55.5" rx="8" ry="9" fill="#cbbc58" stroke="#7a7040" stroke-width="0.5" stroke-dasharray="1.2,1"/><ellipse cx="767.0" cy="-55.5" rx="4" ry="5" fill="#e6d34a"/><ellipse cx="702.8" cy="80.6" rx="8" ry="9" fill="#cbbc58" stroke="#7a7040" stroke-width="0.5" stroke-dasharray="1.2,1"/><ellipse cx="703.2" cy="79.3" rx="4" ry="5" fill="#e6d34a"/><ellipse cx="681.8" cy="92.9" rx="8" ry="9" fill="#cbbc58" stroke="#7a7040" stroke-width="0.5" stroke-dasharray="1.2,1"/><ellipse cx="682.3" cy="92.9" rx="4" ry="5" fill="#e6d34a"/><ellipse cx="618.4" cy="229.0" rx="8" ry="9" fill="#cbbc58" stroke="#7a7040" stroke-width="0.5" stroke-dasharray="1.2,1"/><ellipse cx="619.8" cy="227.5" rx="4" ry="5" fill="#e6d34a"/><ellipse cx="597.4" cy="241.3" rx="8" ry="9" fill="#cbbc58" stroke="#7a7040" stroke-width="0.5" stroke-dasharray="1.2,1"/><ellipse cx="596.1" cy="241.8" rx="4" ry="5" fill="#e6d34a"/><ellipse cx="577.6" cy="-67.8" rx="8" ry="9" fill="#cbbc58" stroke="#7a7040" stroke-width="0.5" stroke-dasharray="1.2,1"/><ellipse cx="578.9" cy="-68.0" rx="4" ry="5" fill="#e6d34a"/><ellipse cx="556.6" cy="-55.5" rx="8" ry="9" fill="#cbbc58" stroke="#7a7040" stroke-width="0.5" stroke-dasharray="1.2,1"/><ellipse cx="557.2" cy="-55.3" rx="4" ry="5" fill="#e6d34a"/><ellipse cx="493.2" cy="80.6" rx="8" ry="9" fill="#cbbc58" stroke="#7a7040" stroke-width="0.5" stroke-dasharray="1.2,1"/><ellipse cx="492.9" cy="80.5" rx="4" ry="5" fill="#e6d34a"/><ellipse cx="472.2" cy="92.9" rx="8" ry="9" fill="#cbbc58" stroke="#7a7040" stroke-width="0.5" stroke-dasharray="1.2,1"/><ellipse cx="472.5" cy="91.5" rx="4" ry="5" fill="#e6d34a"/><ellipse cx="408.8" cy="229.0" rx="8" ry="9" fill="#cbbc58" stroke="#7a7040" stroke-width="0.5" stroke-dasharray="1.2,1"/><ellipse cx="408.2" cy="229.7" rx="4" ry="5" fill="#e6d34a"/><ellipse cx="387.8" cy="241.3" rx="8" ry="9" fill="#cbbc58" stroke="#7a7040" stroke-width="0.5" stroke-dasharray="1.2,1"/><ellipse cx="387.1" cy="241.2" rx="4" ry="5" fill="#e6d34a"/><ellipse cx="703.6" cy="-67.8" rx="8" ry="9" fill="#cbbc58" stroke="#7a7040" stroke-width="0.5" stroke-dasharray="1.2,1"/><ellipse cx="702.9" cy="-68.2" rx="4" ry="5" fill="#e6d34a"/><ellipse cx="682.6" cy="-55.5" rx="8" ry="9" fill="#cbbc58" stroke="#7a7040" stroke-width="0.5" stroke-dasharray="1.2,1"/><ellipse cx="683.1" cy="-54.8" rx="4" ry="5" fill="#e6d34a"/><ellipse cx="619.2" cy="80.6" rx="8" ry="9" fill="#cbbc58" stroke="#7a7040" stroke-width="0.5" stroke-dasharray="1.2,1"/><ellipse cx="620.6" cy="80.5" rx="4" ry="5" fill="#e6d34a"/><ellipse cx="598.2" cy="92.9" rx="8" ry="9" fill="#cbbc58" stroke="#7a7040" stroke-width="0.5" stroke-dasharray="1.2,1"/><ellipse cx="597.3" cy="92.4" rx="4" ry="5" fill="#e6d34a"/><ellipse cx="534.8" cy="229.0" rx="8" ry="9" fill="#cbbc58" stroke="#7a7040" stroke-width="0.5" stroke-dasharray="1.2,1"/><ellipse cx="533.5" cy="228.2" rx="4" ry="5" fill="#e6d34a"/><ellipse cx="513.8" cy="241.3" rx="8" ry="9" fill="#cbbc58" stroke="#7a7040" stroke-width="0.5" stroke-dasharray="1.2,1"/><ellipse cx="514.1" cy="241.6" rx="4" ry="5" fill="#e6d34a"/><ellipse cx="829.6" cy="-67.8" rx="8" ry="9" fill="#cbbc58" stroke="#7a7040" stroke-width="0.5" stroke-dasharray="1.2,1"/><ellipse cx="828.8" cy="-68.8" rx="4" ry="5" fill="#e6d34a"/><ellipse cx="808.6" cy="-55.5" rx="8" ry="9" fill="#cbbc58" stroke="#7a7040" stroke-width="0.5" stroke-dasharray="1.2,1"/><ellipse cx="807.4" cy="-56.5" rx="4" ry="5" fill="#e6d34a"/><ellipse cx="745.2" cy="80.6" rx="8" ry="9" fill="#cbbc58" stroke="#7a7040" stroke-width="0.5" stroke-dasharray="1.2,1"/><ellipse cx="745.2" cy="79.9" rx="4" ry="5" fill="#e6d34a"/><ellipse cx="724.2" cy="92.9" rx="8" ry="9" fill="#cbbc58" stroke="#7a7040" stroke-width="0.5" stroke-dasharray="1.2,1"/><ellipse cx="725.4" cy="93.1" rx="4" ry="5" fill="#e6d34a"/><ellipse cx="660.8" cy="229.0" rx="8" ry="9" fill="#cbbc58" stroke="#7a7040" stroke-width="0.5" stroke-dasharray="1.2,1"/><ellipse cx="660.3" cy="228.8" rx="4" ry="5" fill="#e6d34a"/><ellipse cx="639.8" cy="241.3" rx="8" ry="9" fill="#cbbc58" stroke="#7a7040" stroke-width="0.5" stroke-dasharray="1.2,1"/><ellipse cx="638.4" cy="242.0" rx="4" ry="5" fill="#e6d34a"/><ellipse cx="618.9" cy="-67.8" rx="8" ry="9" fill="#cbbc58" stroke="#7a7040" stroke-width="0.5" stroke-dasharray="1.2,1"/><ellipse cx="619.7" cy="-68.2" rx="4" ry="5" fill="#e6d34a"/><ellipse cx="597.9" cy="-55.5" rx="8" ry="9" fill="#cbbc58" stroke="#7a7040" stroke-width="0.5" stroke-dasharray="1.2,1"/><ellipse cx="598.6" cy="-56.2" rx="4" ry="5" fill="#e6d34a"/><ellipse cx="534.5" cy="80.6" rx="8" ry="9" fill="#cbbc58" stroke="#7a7040" stroke-width="0.5" stroke-dasharray="1.2,1"/><ellipse cx="533.7" cy="79.8" rx="4" ry="5" fill="#e6d34a"/><ellipse cx="513.5" cy="92.9" rx="8" ry="9" fill="#cbbc58" stroke="#7a7040" stroke-width="0.5" stroke-dasharray="1.2,1"/><ellipse cx="512.6" cy="93.2" rx="4" ry="5" fill="#e6d34a"/><ellipse cx="450.1" cy="229.0" rx="8" ry="9" fill="#cbbc58" stroke="#7a7040" stroke-width="0.5" stroke-dasharray="1.2,1"/><ellipse cx="450.5" cy="229.7" rx="4" ry="5" fill="#e6d34a"/><ellipse cx="429.1" cy="241.3" rx="8" ry="9" fill="#cbbc58" stroke="#7a7040" stroke-width="0.5" stroke-dasharray="1.2,1"/><ellipse cx="427.9" cy="242.1" rx="4" ry="5" fill="#e6d34a"/><ellipse cx="744.9" cy="-67.8" rx="8" ry="9" fill="#cbbc58" stroke="#7a7040" stroke-width="0.5" stroke-dasharray="1.2,1"/><ellipse cx="744.8" cy="-68.2" rx="4" ry="5" fill="#e6d34a"/><ellipse cx="723.9" cy="-55.5" rx="8" ry="9" fill="#cbbc58" stroke="#7a7040" stroke-width="0.5" stroke-dasharray="1.2,1"/><ellipse cx="723.9" cy="-55.7" rx="4" ry="5" fill="#e6d34a"/><ellipse cx="660.5" cy="80.6" rx="8" ry="9" fill="#cbbc58" stroke="#7a7040" stroke-width="0.5" stroke-dasharray="1.2,1"/><ellipse cx="659.6" cy="80.3" rx="4" ry="5" fill="#e6d34a"/><ellipse cx="639.5" cy="92.9" rx="8" ry="9" fill="#cbbc58" stroke="#7a7040" stroke-width="0.5" stroke-dasharray="1.2,1"/><ellipse cx="639.9" cy="93.5" rx="4" ry="5" fill="#e6d34a"/><ellipse cx="576.1" cy="229.0" rx="8" ry="9" fill="#cbbc58" stroke="#7a7040" stroke-width="0.5" stroke-dasharray="1.2,1"/><ellipse cx="577.3" cy="228.1" rx="4" ry="5" fill="#e6d34a"/><ellipse cx="555.1" cy="241.3" rx="8" ry="9" fill="#cbbc58" stroke="#7a7040" stroke-width="0.5" stroke-dasharray="1.2,1"/><ellipse cx="556.3" cy="242.2" rx="4" ry="5" fill="#e6d34a"/><ellipse cx="870.9" cy="-67.8" rx="8" ry="9" fill="#cbbc58" stroke="#7a7040" stroke-width="0.5" stroke-dasharray="1.2,1"/><ellipse cx="871.5" cy="-66.4" rx="4" ry="5" fill="#e6d34a"/><ellipse cx="849.9" cy="-55.5" rx="8" ry="9" fill="#cbbc58" stroke="#7a7040" stroke-width="0.5" stroke-dasharray="1.2,1"/><ellipse cx="848.8" cy="-54.7" rx="4" ry="5" fill="#e6d34a"/><ellipse cx="786.5" cy="80.6" rx="8" ry="9" fill="#cbbc58" stroke="#7a7040" stroke-width="0.5" stroke-dasharray="1.2,1"/><ellipse cx="787.7" cy="79.5" rx="4" ry="5" fill="#e6d34a"/><ellipse cx="765.5" cy="92.9" rx="8" ry="9" fill="#cbbc58" stroke="#7a7040" stroke-width="0.5" stroke-dasharray="1.2,1"/><ellipse cx="765.8" cy="94.2" rx="4" ry="5" fill="#e6d34a"/><ellipse cx="702.1" cy="229.0" rx="8" ry="9" fill="#cbbc58" stroke="#7a7040" stroke-width="0.5" stroke-dasharray="1.2,1"/><ellipse cx="701.5" cy="230.1" rx="4" ry="5" fill="#e6d34a"/><ellipse cx="681.1" cy="241.3" rx="8" ry="9" fill="#cbbc58" stroke="#7a7040" stroke-width="0.5" stroke-dasharray="1.2,1"/><ellipse cx="682.3" cy="241.1" rx="4" ry="5" fill="#e6d34a"/><ellipse cx="514.4" cy="-30.4" rx="8" ry="9" fill="#cbbc58" stroke="#7a7040" stroke-width="0.5" stroke-dasharray="1.2,1"/><ellipse cx="513.3" cy="-31.3" rx="4" ry="5" fill="#e6d34a"/><ellipse cx="493.4" cy="-18.1" rx="8" ry="9" fill="#cbbc58" stroke="#7a7040" stroke-width="0.5" stroke-dasharray="1.2,1"/><ellipse cx="494.4" cy="-18.3" rx="4" ry="5" fill="#e6d34a"/><ellipse cx="430.0" cy="118.0" rx="8" ry="9" fill="#cbbc58" stroke="#7a7040" stroke-width="0.5" stroke-dasharray="1.2,1"/><ellipse cx="429.4" cy="117.8" rx="4" ry="5" fill="#e6d34a"/><ellipse cx="409.0" cy="130.3" rx="8" ry="9" fill="#cbbc58" stroke="#7a7040" stroke-width="0.5" stroke-dasharray="1.2,1"/><ellipse cx="410.3" cy="129.6" rx="4" ry="5" fill="#e6d34a"/><ellipse cx="345.6" cy="266.4" rx="8" ry="9" fill="#cbbc58" stroke="#7a7040" stroke-width="0.5" stroke-dasharray="1.2,1"/><ellipse cx="344.2" cy="267.7" rx="4" ry="5" fill="#e6d34a"/><ellipse cx="324.6" cy="278.7" rx="8" ry="9" fill="#cbbc58" stroke="#7a7040" stroke-width="0.5" stroke-dasharray="1.2,1"/><ellipse cx="324.1" cy="278.4" rx="4" ry="5" fill="#e6d34a"/><ellipse cx="640.4" cy="-30.4" rx="8" ry="9" fill="#cbbc58" stroke="#7a7040" stroke-width="0.5" stroke-dasharray="1.2,1"/><ellipse cx="641.8" cy="-31.1" rx="4" ry="5" fill="#e6d34a"/><ellipse cx="619.4" cy="-18.1" rx="8" ry="9" fill="#cbbc58" stroke="#7a7040" stroke-width="0.5" stroke-dasharray="1.2,1"/><ellipse cx="618.2" cy="-16.9" rx="4" ry="5" fill="#e6d34a"/><ellipse cx="556.0" cy="118.0" rx="8" ry="9" fill="#cbbc58" stroke="#7a7040" stroke-width="0.5" stroke-dasharray="1.2,1"/><ellipse cx="555.2" cy="117.2" rx="4" ry="5" fill="#e6d34a"/><ellipse cx="535.0" cy="130.3" rx="8" ry="9" fill="#cbbc58" stroke="#7a7040" stroke-width="0.5" stroke-dasharray="1.2,1"/><ellipse cx="536.3" cy="129.5" rx="4" ry="5" fill="#e6d34a"/><ellipse cx="471.6" cy="266.4" rx="8" ry="9" fill="#cbbc58" stroke="#7a7040" stroke-width="0.5" stroke-dasharray="1.2,1"/><ellipse cx="472.8" cy="265.9" rx="4" ry="5" fill="#e6d34a"/><ellipse cx="450.6" cy="278.7" rx="8" ry="9" fill="#cbbc58" stroke="#7a7040" stroke-width="0.5" stroke-dasharray="1.2,1"/><ellipse cx="450.0" cy="277.8" rx="4" ry="5" fill="#e6d34a"/><ellipse cx="766.4" cy="-30.4" rx="8" ry="9" fill="#cbbc58" stroke="#7a7040" stroke-width="0.5" stroke-dasharray="1.2,1"/><ellipse cx="766.5" cy="-30.2" rx="4" ry="5" fill="#e6d34a"/><ellipse cx="745.4" cy="-18.1" rx="8" ry="9" fill="#cbbc58" stroke="#7a7040" stroke-width="0.5" stroke-dasharray="1.2,1"/><ellipse cx="745.1" cy="-18.1" rx="4" ry="5" fill="#e6d34a"/><ellipse cx="682.0" cy="118.0" rx="8" ry="9" fill="#cbbc58" stroke="#7a7040" stroke-width="0.5" stroke-dasharray="1.2,1"/><ellipse cx="681.4" cy="119.0" rx="4" ry="5" fill="#e6d34a"/><ellipse cx="661.0" cy="130.3" rx="8" ry="9" fill="#cbbc58" stroke="#7a7040" stroke-width="0.5" stroke-dasharray="1.2,1"/><ellipse cx="662.3" cy="131.1" rx="4" ry="5" fill="#e6d34a"/><ellipse cx="597.6" cy="266.4" rx="8" ry="9" fill="#cbbc58" stroke="#7a7040" stroke-width="0.5" stroke-dasharray="1.2,1"/><ellipse cx="598.6" cy="265.1" rx="4" ry="5" fill="#e6d34a"/><ellipse cx="576.6" cy="278.7" rx="8" ry="9" fill="#cbbc58" stroke="#7a7040" stroke-width="0.5" stroke-dasharray="1.2,1"/><ellipse cx="575.9" cy="277.8" rx="4" ry="5" fill="#e6d34a"/><ellipse cx="556.1" cy="-30.4" rx="8" ry="9" fill="#cbbc58" stroke="#7a7040" stroke-width="0.5" stroke-dasharray="1.2,1"/><ellipse cx="555.1" cy="-29.0" rx="4" ry="5" fill="#e6d34a"/><ellipse cx="535.1" cy="-18.1" rx="8" ry="9" fill="#cbbc58" stroke="#7a7040" stroke-width="0.5" stroke-dasharray="1.2,1"/><ellipse cx="536.3" cy="-16.9" rx="4" ry="5" fill="#e6d34a"/><ellipse cx="471.7" cy="118.0" rx="8" ry="9" fill="#cbbc58" stroke="#7a7040" stroke-width="0.5" stroke-dasharray="1.2,1"/><ellipse cx="471.9" cy="116.8" rx="4" ry="5" fill="#e6d34a"/><ellipse cx="450.7" cy="130.3" rx="8" ry="9" fill="#cbbc58" stroke="#7a7040" stroke-width="0.5" stroke-dasharray="1.2,1"/><ellipse cx="450.5" cy="129.0" rx="4" ry="5" fill="#e6d34a"/><ellipse cx="387.3" cy="266.4" rx="8" ry="9" fill="#cbbc58" stroke="#7a7040" stroke-width="0.5" stroke-dasharray="1.2,1"/><ellipse cx="388.5" cy="265.7" rx="4" ry="5" fill="#e6d34a"/><ellipse cx="366.3" cy="278.7" rx="8" ry="9" fill="#cbbc58" stroke="#7a7040" stroke-width="0.5" stroke-dasharray="1.2,1"/><ellipse cx="365.7" cy="280.0" rx="4" ry="5" fill="#e6d34a"/><ellipse cx="682.1" cy="-30.4" rx="8" ry="9" fill="#cbbc58" stroke="#7a7040" stroke-width="0.5" stroke-dasharray="1.2,1"/><ellipse cx="681.2" cy="-29.1" rx="4" ry="5" fill="#e6d34a"/><ellipse cx="661.1" cy="-18.1" rx="8" ry="9" fill="#cbbc58" stroke="#7a7040" stroke-width="0.5" stroke-dasharray="1.2,1"/><ellipse cx="660.5" cy="-17.6" rx="4" ry="5" fill="#e6d34a"/><ellipse cx="597.7" cy="118.0" rx="8" ry="9" fill="#cbbc58" stroke="#7a7040" stroke-width="0.5" stroke-dasharray="1.2,1"/><ellipse cx="596.5" cy="119.2" rx="4" ry="5" fill="#e6d34a"/><ellipse cx="576.7" cy="130.3" rx="8" ry="9" fill="#cbbc58" stroke="#7a7040" stroke-width="0.5" stroke-dasharray="1.2,1"/><ellipse cx="576.4" cy="129.8" rx="4" ry="5" fill="#e6d34a"/><ellipse cx="513.3" cy="266.4" rx="8" ry="9" fill="#cbbc58" stroke="#7a7040" stroke-width="0.5" stroke-dasharray="1.2,1"/><ellipse cx="513.8" cy="266.7" rx="4" ry="5" fill="#e6d34a"/><ellipse cx="492.3" cy="278.7" rx="8" ry="9" fill="#cbbc58" stroke="#7a7040" stroke-width="0.5" stroke-dasharray="1.2,1"/><ellipse cx="491.6" cy="277.6" rx="4" ry="5" fill="#e6d34a"/><ellipse cx="808.1" cy="-30.4" rx="8" ry="9" fill="#cbbc58" stroke="#7a7040" stroke-width="0.5" stroke-dasharray="1.2,1"/><ellipse cx="808.3" cy="-31.8" rx="4" ry="5" fill="#e6d34a"/><ellipse cx="787.1" cy="-18.1" rx="8" ry="9" fill="#cbbc58" stroke="#7a7040" stroke-width="0.5" stroke-dasharray="1.2,1"/><ellipse cx="788.2" cy="-18.6" rx="4" ry="5" fill="#e6d34a"/><ellipse cx="723.7" cy="118.0" rx="8" ry="9" fill="#cbbc58" stroke="#7a7040" stroke-width="0.5" stroke-dasharray="1.2,1"/><ellipse cx="722.7" cy="117.5" rx="4" ry="5" fill="#e6d34a"/><ellipse cx="702.7" cy="130.3" rx="8" ry="9" fill="#cbbc58" stroke="#7a7040" stroke-width="0.5" stroke-dasharray="1.2,1"/><ellipse cx="701.5" cy="129.7" rx="4" ry="5" fill="#e6d34a"/><ellipse cx="639.3" cy="266.4" rx="8" ry="9" fill="#cbbc58" stroke="#7a7040" stroke-width="0.5" stroke-dasharray="1.2,1"/><ellipse cx="639.4" cy="266.1" rx="4" ry="5" fill="#e6d34a"/><ellipse cx="618.3" cy="278.7" rx="8" ry="9" fill="#cbbc58" stroke="#7a7040" stroke-width="0.5" stroke-dasharray="1.2,1"/><ellipse cx="617.8" cy="278.1" rx="4" ry="5" fill="#e6d34a"/><ellipse cx="598.3" cy="-30.4" rx="8" ry="9" fill="#cbbc58" stroke="#7a7040" stroke-width="0.5" stroke-dasharray="1.2,1"/><ellipse cx="598.3" cy="-29.6" rx="4" ry="5" fill="#e6d34a"/><ellipse cx="577.3" cy="-18.1" rx="8" ry="9" fill="#cbbc58" stroke="#7a7040" stroke-width="0.5" stroke-dasharray="1.2,1"/><ellipse cx="577.1" cy="-17.3" rx="4" ry="5" fill="#e6d34a"/><ellipse cx="513.9" cy="118.0" rx="8" ry="9" fill="#cbbc58" stroke="#7a7040" stroke-width="0.5" stroke-dasharray="1.2,1"/><ellipse cx="513.8" cy="116.9" rx="4" ry="5" fill="#e6d34a"/><ellipse cx="492.9" cy="130.3" rx="8" ry="9" fill="#cbbc58" stroke="#7a7040" stroke-width="0.5" stroke-dasharray="1.2,1"/><ellipse cx="491.9" cy="131.3" rx="4" ry="5" fill="#e6d34a"/><ellipse cx="429.5" cy="266.4" rx="8" ry="9" fill="#cbbc58" stroke="#7a7040" stroke-width="0.5" stroke-dasharray="1.2,1"/><ellipse cx="429.4" cy="266.0" rx="4" ry="5" fill="#e6d34a"/><ellipse cx="408.5" cy="278.7" rx="8" ry="9" fill="#cbbc58" stroke="#7a7040" stroke-width="0.5" stroke-dasharray="1.2,1"/><ellipse cx="408.5" cy="279.7" rx="4" ry="5" fill="#e6d34a"/><ellipse cx="724.3" cy="-30.4" rx="8" ry="9" fill="#cbbc58" stroke="#7a7040" stroke-width="0.5" stroke-dasharray="1.2,1"/><ellipse cx="723.9" cy="-30.8" rx="4" ry="5" fill="#e6d34a"/><ellipse cx="703.3" cy="-18.1" rx="8" ry="9" fill="#cbbc58" stroke="#7a7040" stroke-width="0.5" stroke-dasharray="1.2,1"/><ellipse cx="702.9" cy="-19.6" rx="4" ry="5" fill="#e6d34a"/><ellipse cx="639.9" cy="118.0" rx="8" ry="9" fill="#cbbc58" stroke="#7a7040" stroke-width="0.5" stroke-dasharray="1.2,1"/><ellipse cx="640.0" cy="117.9" rx="4" ry="5" fill="#e6d34a"/><ellipse cx="618.9" cy="130.3" rx="8" ry="9" fill="#cbbc58" stroke="#7a7040" stroke-width="0.5" stroke-dasharray="1.2,1"/><ellipse cx="618.9" cy="130.2" rx="4" ry="5" fill="#e6d34a"/><ellipse cx="555.5" cy="266.4" rx="8" ry="9" fill="#cbbc58" stroke="#7a7040" stroke-width="0.5" stroke-dasharray="1.2,1"/><ellipse cx="555.4" cy="267.0" rx="4" ry="5" fill="#e6d34a"/><ellipse cx="534.5" cy="278.7" rx="8" ry="9" fill="#cbbc58" stroke="#7a7040" stroke-width="0.5" stroke-dasharray="1.2,1"/><ellipse cx="533.6" cy="280.1" rx="4" ry="5" fill="#e6d34a"/><ellipse cx="850.3" cy="-30.4" rx="8" ry="9" fill="#cbbc58" stroke="#7a7040" stroke-width="0.5" stroke-dasharray="1.2,1"/><ellipse cx="849.1" cy="-29.3" rx="4" ry="5" fill="#e6d34a"/><ellipse cx="829.3" cy="-18.1" rx="8" ry="9" fill="#cbbc58" stroke="#7a7040" stroke-width="0.5" stroke-dasharray="1.2,1"/><ellipse cx="828.3" cy="-17.2" rx="4" ry="5" fill="#e6d34a"/><ellipse cx="765.9" cy="118.0" rx="8" ry="9" fill="#cbbc58" stroke="#7a7040" stroke-width="0.5" stroke-dasharray="1.2,1"/><ellipse cx="765.2" cy="116.7" rx="4" ry="5" fill="#e6d34a"/><ellipse cx="744.9" cy="130.3" rx="8" ry="9" fill="#cbbc58" stroke="#7a7040" stroke-width="0.5" stroke-dasharray="1.2,1"/><ellipse cx="745.0" cy="131.3" rx="4" ry="5" fill="#e6d34a"/><ellipse cx="681.5" cy="266.4" rx="8" ry="9" fill="#cbbc58" stroke="#7a7040" stroke-width="0.5" stroke-dasharray="1.2,1"/><ellipse cx="682.5" cy="267.5" rx="4" ry="5" fill="#e6d34a"/><ellipse cx="660.5" cy="278.7" rx="8" ry="9" fill="#cbbc58" stroke="#7a7040" stroke-width="0.5" stroke-dasharray="1.2,1"/><ellipse cx="661.9" cy="277.4" rx="4" ry="5" fill="#e6d34a"/><ellipse cx="492.8" cy="6.8" rx="8" ry="9" fill="#cbbc58" stroke="#7a7040" stroke-width="0.5" stroke-dasharray="1.2,1"/><ellipse cx="492.4" cy="5.6" rx="4" ry="5" fill="#e6d34a"/><ellipse cx="471.8" cy="19.1" rx="8" ry="9" fill="#cbbc58" stroke="#7a7040" stroke-width="0.5" stroke-dasharray="1.2,1"/><ellipse cx="472.6" cy="19.0" rx="4" ry="5" fill="#e6d34a"/><ellipse cx="408.4" cy="155.2" rx="8" ry="9" fill="#cbbc58" stroke="#7a7040" stroke-width="0.5" stroke-dasharray="1.2,1"/><ellipse cx="409.1" cy="156.1" rx="4" ry="5" fill="#e6d34a"/><ellipse cx="387.4" cy="167.5" rx="8" ry="9" fill="#cbbc58" stroke="#7a7040" stroke-width="0.5" stroke-dasharray="1.2,1"/><ellipse cx="388.9" cy="168.0" rx="4" ry="5" fill="#e6d34a"/><ellipse cx="324.0" cy="303.6" rx="8" ry="9" fill="#cbbc58" stroke="#7a7040" stroke-width="0.5" stroke-dasharray="1.2,1"/><ellipse cx="325.1" cy="303.7" rx="4" ry="5" fill="#e6d34a"/><ellipse cx="303.0" cy="315.9" rx="8" ry="9" fill="#cbbc58" stroke="#7a7040" stroke-width="0.5" stroke-dasharray="1.2,1"/><ellipse cx="301.7" cy="317.1" rx="4" ry="5" fill="#e6d34a"/><ellipse cx="618.8" cy="6.8" rx="8" ry="9" fill="#cbbc58" stroke="#7a7040" stroke-width="0.5" stroke-dasharray="1.2,1"/><ellipse cx="617.6" cy="5.6" rx="4" ry="5" fill="#e6d34a"/><ellipse cx="597.8" cy="19.1" rx="8" ry="9" fill="#cbbc58" stroke="#7a7040" stroke-width="0.5" stroke-dasharray="1.2,1"/><ellipse cx="598.8" cy="18.4" rx="4" ry="5" fill="#e6d34a"/><ellipse cx="534.4" cy="155.2" rx="8" ry="9" fill="#cbbc58" stroke="#7a7040" stroke-width="0.5" stroke-dasharray="1.2,1"/><ellipse cx="534.9" cy="153.8" rx="4" ry="5" fill="#e6d34a"/><ellipse cx="513.4" cy="167.5" rx="8" ry="9" fill="#cbbc58" stroke="#7a7040" stroke-width="0.5" stroke-dasharray="1.2,1"/><ellipse cx="512.5" cy="168.1" rx="4" ry="5" fill="#e6d34a"/><ellipse cx="450.0" cy="303.6" rx="8" ry="9" fill="#cbbc58" stroke="#7a7040" stroke-width="0.5" stroke-dasharray="1.2,1"/><ellipse cx="448.6" cy="303.6" rx="4" ry="5" fill="#e6d34a"/><ellipse cx="429.0" cy="315.9" rx="8" ry="9" fill="#cbbc58" stroke="#7a7040" stroke-width="0.5" stroke-dasharray="1.2,1"/><ellipse cx="430.3" cy="315.0" rx="4" ry="5" fill="#e6d34a"/><ellipse cx="744.8" cy="6.8" rx="8" ry="9" fill="#cbbc58" stroke="#7a7040" stroke-width="0.5" stroke-dasharray="1.2,1"/><ellipse cx="745.4" cy="7.5" rx="4" ry="5" fill="#e6d34a"/><ellipse cx="723.8" cy="19.1" rx="8" ry="9" fill="#cbbc58" stroke="#7a7040" stroke-width="0.5" stroke-dasharray="1.2,1"/><ellipse cx="724.2" cy="19.9" rx="4" ry="5" fill="#e6d34a"/><ellipse cx="660.4" cy="155.2" rx="8" ry="9" fill="#cbbc58" stroke="#7a7040" stroke-width="0.5" stroke-dasharray="1.2,1"/><ellipse cx="661.0" cy="153.7" rx="4" ry="5" fill="#e6d34a"/><ellipse cx="639.4" cy="167.5" rx="8" ry="9" fill="#cbbc58" stroke="#7a7040" stroke-width="0.5" stroke-dasharray="1.2,1"/><ellipse cx="638.5" cy="167.6" rx="4" ry="5" fill="#e6d34a"/><ellipse cx="576.0" cy="303.6" rx="8" ry="9" fill="#cbbc58" stroke="#7a7040" stroke-width="0.5" stroke-dasharray="1.2,1"/><ellipse cx="577.4" cy="302.8" rx="4" ry="5" fill="#e6d34a"/><ellipse cx="555.0" cy="315.9" rx="8" ry="9" fill="#cbbc58" stroke="#7a7040" stroke-width="0.5" stroke-dasharray="1.2,1"/><ellipse cx="555.3" cy="314.8" rx="4" ry="5" fill="#e6d34a"/><ellipse cx="535.0" cy="6.8" rx="8" ry="9" fill="#cbbc58" stroke="#7a7040" stroke-width="0.5" stroke-dasharray="1.2,1"/><ellipse cx="536.0" cy="6.6" rx="4" ry="5" fill="#e6d34a"/><ellipse cx="514.0" cy="19.1" rx="8" ry="9" fill="#cbbc58" stroke="#7a7040" stroke-width="0.5" stroke-dasharray="1.2,1"/><ellipse cx="514.1" cy="19.6" rx="4" ry="5" fill="#e6d34a"/><ellipse cx="450.6" cy="155.2" rx="8" ry="9" fill="#cbbc58" stroke="#7a7040" stroke-width="0.5" stroke-dasharray="1.2,1"/><ellipse cx="449.5" cy="155.9" rx="4" ry="5" fill="#e6d34a"/><ellipse cx="429.6" cy="167.5" rx="8" ry="9" fill="#cbbc58" stroke="#7a7040" stroke-width="0.5" stroke-dasharray="1.2,1"/><ellipse cx="430.5" cy="168.6" rx="4" ry="5" fill="#e6d34a"/><ellipse cx="366.2" cy="303.6" rx="8" ry="9" fill="#cbbc58" stroke="#7a7040" stroke-width="0.5" stroke-dasharray="1.2,1"/><ellipse cx="365.5" cy="302.8" rx="4" ry="5" fill="#e6d34a"/><ellipse cx="345.2" cy="315.9" rx="8" ry="9" fill="#cbbc58" stroke="#7a7040" stroke-width="0.5" stroke-dasharray="1.2,1"/><ellipse cx="344.2" cy="317.1" rx="4" ry="5" fill="#e6d34a"/><ellipse cx="661.0" cy="6.8" rx="8" ry="9" fill="#cbbc58" stroke="#7a7040" stroke-width="0.5" stroke-dasharray="1.2,1"/><ellipse cx="660.8" cy="6.5" rx="4" ry="5" fill="#e6d34a"/><ellipse cx="640.0" cy="19.1" rx="8" ry="9" fill="#cbbc58" stroke="#7a7040" stroke-width="0.5" stroke-dasharray="1.2,1"/><ellipse cx="640.1" cy="19.7" rx="4" ry="5" fill="#e6d34a"/><ellipse cx="576.6" cy="155.2" rx="8" ry="9" fill="#cbbc58" stroke="#7a7040" stroke-width="0.5" stroke-dasharray="1.2,1"/><ellipse cx="576.1" cy="154.7" rx="4" ry="5" fill="#e6d34a"/><ellipse cx="555.6" cy="167.5" rx="8" ry="9" fill="#cbbc58" stroke="#7a7040" stroke-width="0.5" stroke-dasharray="1.2,1"/><ellipse cx="556.4" cy="168.3" rx="4" ry="5" fill="#e6d34a"/><ellipse cx="492.2" cy="303.6" rx="8" ry="9" fill="#cbbc58" stroke="#7a7040" stroke-width="0.5" stroke-dasharray="1.2,1"/><ellipse cx="491.6" cy="302.3" rx="4" ry="5" fill="#e6d34a"/><ellipse cx="471.2" cy="315.9" rx="8" ry="9" fill="#cbbc58" stroke="#7a7040" stroke-width="0.5" stroke-dasharray="1.2,1"/><ellipse cx="472.5" cy="316.6" rx="4" ry="5" fill="#e6d34a"/><ellipse cx="787.0" cy="6.8" rx="8" ry="9" fill="#cbbc58" stroke="#7a7040" stroke-width="0.5" stroke-dasharray="1.2,1"/><ellipse cx="787.3" cy="6.5" rx="4" ry="5" fill="#e6d34a"/><ellipse cx="766.0" cy="19.1" rx="8" ry="9" fill="#cbbc58" stroke="#7a7040" stroke-width="0.5" stroke-dasharray="1.2,1"/><ellipse cx="767.4" cy="18.9" rx="4" ry="5" fill="#e6d34a"/><ellipse cx="702.6" cy="155.2" rx="8" ry="9" fill="#cbbc58" stroke="#7a7040" stroke-width="0.5" stroke-dasharray="1.2,1"/><ellipse cx="701.7" cy="154.0" rx="4" ry="5" fill="#e6d34a"/><ellipse cx="681.6" cy="167.5" rx="8" ry="9" fill="#cbbc58" stroke="#7a7040" stroke-width="0.5" stroke-dasharray="1.2,1"/><ellipse cx="681.2" cy="167.8" rx="4" ry="5" fill="#e6d34a"/><ellipse cx="618.2" cy="303.6" rx="8" ry="9" fill="#cbbc58" stroke="#7a7040" stroke-width="0.5" stroke-dasharray="1.2,1"/><ellipse cx="617.8" cy="304.9" rx="4" ry="5" fill="#e6d34a"/><ellipse cx="597.2" cy="315.9" rx="8" ry="9" fill="#cbbc58" stroke="#7a7040" stroke-width="0.5" stroke-dasharray="1.2,1"/><ellipse cx="597.6" cy="315.8" rx="4" ry="5" fill="#e6d34a"/><ellipse cx="577.2" cy="6.8" rx="8" ry="9" fill="#cbbc58" stroke="#7a7040" stroke-width="0.5" stroke-dasharray="1.2,1"/><ellipse cx="577.7" cy="7.1" rx="4" ry="5" fill="#e6d34a"/><ellipse cx="556.2" cy="19.1" rx="8" ry="9" fill="#cbbc58" stroke="#7a7040" stroke-width="0.5" stroke-dasharray="1.2,1"/><ellipse cx="556.6" cy="19.1" rx="4" ry="5" fill="#e6d34a"/><ellipse cx="492.8" cy="155.2" rx="8" ry="9" fill="#cbbc58" stroke="#7a7040" stroke-width="0.5" stroke-dasharray="1.2,1"/><ellipse cx="492.9" cy="155.2" rx="4" ry="5" fill="#e6d34a"/><ellipse cx="471.8" cy="167.5" rx="8" ry="9" fill="#cbbc58" stroke="#7a7040" stroke-width="0.5" stroke-dasharray="1.2,1"/><ellipse cx="472.8" cy="166.6" rx="4" ry="5" fill="#e6d34a"/><ellipse cx="408.4" cy="303.6" rx="8" ry="9" fill="#cbbc58" stroke="#7a7040" stroke-width="0.5" stroke-dasharray="1.2,1"/><ellipse cx="409.3" cy="303.0" rx="4" ry="5" fill="#e6d34a"/><ellipse cx="387.4" cy="315.9" rx="8" ry="9" fill="#cbbc58" stroke="#7a7040" stroke-width="0.5" stroke-dasharray="1.2,1"/><ellipse cx="388.4" cy="314.6" rx="4" ry="5" fill="#e6d34a"/><ellipse cx="703.2" cy="6.8" rx="8" ry="9" fill="#cbbc58" stroke="#7a7040" stroke-width="0.5" stroke-dasharray="1.2,1"/><ellipse cx="703.2" cy="6.6" rx="4" ry="5" fill="#e6d34a"/><ellipse cx="682.2" cy="19.1" rx="8" ry="9" fill="#cbbc58" stroke="#7a7040" stroke-width="0.5" stroke-dasharray="1.2,1"/><ellipse cx="682.8" cy="18.2" rx="4" ry="5" fill="#e6d34a"/><ellipse cx="618.8" cy="155.2" rx="8" ry="9" fill="#cbbc58" stroke="#7a7040" stroke-width="0.5" stroke-dasharray="1.2,1"/><ellipse cx="618.1" cy="154.1" rx="4" ry="5" fill="#e6d34a"/><ellipse cx="597.8" cy="167.5" rx="8" ry="9" fill="#cbbc58" stroke="#7a7040" stroke-width="0.5" stroke-dasharray="1.2,1"/><ellipse cx="598.0" cy="167.7" rx="4" ry="5" fill="#e6d34a"/><ellipse cx="534.4" cy="303.6" rx="8" ry="9" fill="#cbbc58" stroke="#7a7040" stroke-width="0.5" stroke-dasharray="1.2,1"/><ellipse cx="532.9" cy="302.6" rx="4" ry="5" fill="#e6d34a"/><ellipse cx="513.4" cy="315.9" rx="8" ry="9" fill="#cbbc58" stroke="#7a7040" stroke-width="0.5" stroke-dasharray="1.2,1"/><ellipse cx="512.5" cy="317.3" rx="4" ry="5" fill="#e6d34a"/><ellipse cx="829.2" cy="6.8" rx="8" ry="9" fill="#cbbc58" stroke="#7a7040" stroke-width="0.5" stroke-dasharray="1.2,1"/><ellipse cx="829.1" cy="7.0" rx="4" ry="5" fill="#e6d34a"/><ellipse cx="808.2" cy="19.1" rx="8" ry="9" fill="#cbbc58" stroke="#7a7040" stroke-width="0.5" stroke-dasharray="1.2,1"/><ellipse cx="807.6" cy="19.6" rx="4" ry="5" fill="#e6d34a"/><ellipse cx="744.8" cy="155.2" rx="8" ry="9" fill="#cbbc58" stroke="#7a7040" stroke-width="0.5" stroke-dasharray="1.2,1"/><ellipse cx="745.7" cy="155.7" rx="4" ry="5" fill="#e6d34a"/><ellipse cx="723.8" cy="167.5" rx="8" ry="9" fill="#cbbc58" stroke="#7a7040" stroke-width="0.5" stroke-dasharray="1.2,1"/><ellipse cx="722.3" cy="167.3" rx="4" ry="5" fill="#e6d34a"/><ellipse cx="660.4" cy="303.6" rx="8" ry="9" fill="#cbbc58" stroke="#7a7040" stroke-width="0.5" stroke-dasharray="1.2,1"/><ellipse cx="660.4" cy="302.2" rx="4" ry="5" fill="#e6d34a"/><ellipse cx="639.4" cy="315.9" rx="8" ry="9" fill="#cbbc58" stroke="#7a7040" stroke-width="0.5" stroke-dasharray="1.2,1"/><ellipse cx="640.3" cy="315.4" rx="4" ry="5" fill="#e6d34a"/><polygon points="552.4,-117.0 543.9,-102.3 526.9,-102.3 518.4,-117.0 526.9,-131.7 543.9,-131.7" fill="#7d7d86" stroke="#7d7d86" stroke-width="3" stroke-linejoin="round"/><polygon points="468.0,31.4 459.5,46.1 442.5,46.1 434.0,31.4 442.5,16.7 459.5,16.7" fill="#7d7d86" stroke="#7d7d86" stroke-width="3" stroke-linejoin="round"/><polygon points="383.6,179.8 375.1,194.5 358.1,194.5 349.6,179.8 358.1,165.1 375.1,165.1" fill="#7d7d86" stroke="#7d7d86" stroke-width="3" stroke-linejoin="round"/><polygon points="678.4,-117.0 669.9,-102.3 652.9,-102.3 644.4,-117.0 652.9,-131.7 669.9,-131.7" fill="#7d7d86" stroke="#7d7d86" stroke-width="3" stroke-linejoin="round"/><polygon points="594.0,31.4 585.5,46.1 568.5,46.1 560.0,31.4 568.5,16.7 585.5,16.7" fill="#7d7d86" stroke="#7d7d86" stroke-width="3" stroke-linejoin="round"/><polygon points="509.6,179.8 501.1,194.5 484.1,194.5 475.6,179.8 484.1,165.1 501.1,165.1" fill="#7d7d86" stroke="#7d7d86" stroke-width="3" stroke-linejoin="round"/><polygon points="804.4,-117.0 795.9,-102.3 778.9,-102.3 770.4,-117.0 778.9,-131.7 795.9,-131.7" fill="#7d7d86" stroke="#7d7d86" stroke-width="3" stroke-linejoin="round"/><polygon points="720.0,31.4 711.5,46.1 694.5,46.1 686.0,31.4 694.5,16.7 711.5,16.7" fill="#7d7d86" stroke="#7d7d86" stroke-width="3" stroke-linejoin="round"/><polygon points="635.6,179.8 627.1,194.5 610.1,194.5 601.6,179.8 610.1,165.1 627.1,165.1" fill="#7d7d86" stroke="#7d7d86" stroke-width="3" stroke-linejoin="round"/><circle cx="571.1" cy="-114.5" r="8" fill="#e5d04a"/><circle cx="582.1" cy="-114.5" r="8" fill="#e5d04a"/><circle cx="576.6" cy="-121.0" r="8.5" fill="#e5d04a"/><circle cx="486.70000000000005" cy="33.9" r="8" fill="#e5d04a"/><circle cx="497.70000000000005" cy="33.9" r="8" fill="#e5d04a"/><circle cx="492.20000000000005" cy="27.4" r="8.5" fill="#e5d04a"/><circle cx="402.30000000000007" cy="182.3" r="8" fill="#e5d04a"/><circle cx="413.30000000000007" cy="182.3" r="8" fill="#e5d04a"/><circle cx="407.80000000000007" cy="175.8" r="8.5" fill="#e5d04a"/><circle cx="697.1" cy="-114.5" r="8" fill="#e5d04a"/><circle cx="708.1" cy="-114.5" r="8" fill="#e5d04a"/><circle cx="702.6" cy="-121.0" r="8.5" fill="#e5d04a"/><circle cx="612.7" cy="33.9" r="8" fill="#e5d04a"/><circle cx="623.7" cy="33.9" r="8" fill="#e5d04a"/><circle cx="618.2" cy="27.4" r="8.5" fill="#e5d04a"/><circle cx="528.3000000000001" cy="182.3" r="8" fill="#e5d04a"/><circle cx="539.3000000000001" cy="182.3" r="8" fill="#e5d04a"/><circle cx="533.8000000000001" cy="175.8" r="8.5" fill="#e5d04a"/><circle cx="823.1" cy="-114.5" r="8" fill="#e5d04a"/><circle cx="834.1" cy="-114.5" r="8" fill="#e5d04a"/><circle cx="828.6" cy="-121.0" r="8.5" fill="#e5d04a"/><circle cx="738.7" cy="33.9" r="8" fill="#e5d04a"/><circle cx="749.7" cy="33.9" r="8" fill="#e5d04a"/><circle cx="744.2" cy="27.4" r="8.5" fill="#e5d04a"/><circle cx="654.3000000000001" cy="182.3" r="8" fill="#e5d04a"/><circle cx="665.3000000000001" cy="182.3" r="8" fill="#e5d04a"/><circle cx="659.8000000000001" cy="175.8" r="8.5" fill="#e5d04a"/><polygon points="636.5,-116.2 627.2,-100.2 608.8,-100.2 599.5,-116.2 608.8,-132.2 627.2,-132.2" fill="#7d7d86" stroke="#7d7d86" stroke-width="3" stroke-linejoin="round"/><polygon points="552.1,32.2 542.9,48.2 524.4,48.2 515.1,32.2 524.4,16.2 542.9,16.2" fill="#7d7d86" stroke="#7d7d86" stroke-width="3" stroke-linejoin="round"/><polygon points="467.7,180.6 458.5,196.6 440.0,196.6 430.7,180.6 440.0,164.6 458.5,164.6" fill="#7d7d86" stroke="#7d7d86" stroke-width="3" stroke-linejoin="round"/><polygon points="762.5,-116.2 753.2,-100.2 734.8,-100.2 725.5,-116.2 734.8,-132.2 753.2,-132.2" fill="#7d7d86" stroke="#7d7d86" stroke-width="3" stroke-linejoin="round"/><polygon points="678.1,32.2 668.9,48.2 650.4,48.2 641.1,32.2 650.4,16.2 668.9,16.2" fill="#7d7d86" stroke="#7d7d86" stroke-width="3" stroke-linejoin="round"/><polygon points="593.7,180.6 584.5,196.6 566.0,196.6 556.7,180.6 566.0,164.6 584.5,164.6" fill="#7d7d86" stroke="#7d7d86" stroke-width="3" stroke-linejoin="round"/><polygon points="888.5,-116.2 879.2,-100.2 860.8,-100.2 851.5,-116.2 860.8,-132.2 879.2,-132.2" fill="#7d7d86" stroke="#7d7d86" stroke-width="3" stroke-linejoin="round"/><polygon points="804.1,32.2 794.9,48.2 776.4,48.2 767.1,32.2 776.4,16.2 794.9,16.2" fill="#7d7d86" stroke="#7d7d86" stroke-width="3" stroke-linejoin="round"/><polygon points="719.7,180.6 710.5,196.6 692.0,196.6 682.7,180.6 692.0,164.6 710.5,164.6" fill="#7d7d86" stroke="#7d7d86" stroke-width="3" stroke-linejoin="round"/><circle cx="514.1999999999999" cy="-80.2" r="9.8" fill="#7d7d86"/><circle cx="429.79999999999995" cy="68.2" r="9.8" fill="#7d7d86"/><circle cx="345.4" cy="216.60000000000002" r="9.8" fill="#7d7d86"/><circle cx="640.1999999999999" cy="-80.2" r="9.8" fill="#7d7d86"/><circle cx="555.8" cy="68.2" r="9.8" fill="#7d7d86"/><circle cx="471.4" cy="216.60000000000002" r="9.8" fill="#7d7d86"/><circle cx="766.1999999999999" cy="-80.2" r="9.8" fill="#7d7d86"/><circle cx="681.8" cy="68.2" r="9.8" fill="#7d7d86"/><circle cx="597.4" cy="216.60000000000002" r="9.8" fill="#7d7d86"/><polygon points="575.1,-80.2 565.9,-64.2 547.4,-64.2 538.1,-80.2 547.4,-96.2 565.9,-96.2" fill="#7d7d86" stroke="#7d7d86" stroke-width="3" stroke-linejoin="round"/><polygon points="490.7,68.2 481.5,84.2 463.0,84.2 453.7,68.2 463.0,52.2 481.5,52.2" fill="#7d7d86" stroke="#7d7d86" stroke-width="3" stroke-linejoin="round"/><polygon points="406.3,216.6 397.1,232.6 378.6,232.6 369.3,216.6 378.6,200.6 397.1,200.6" fill="#7d7d86" stroke="#7d7d86" stroke-width="3" stroke-linejoin="round"/><polygon points="701.1,-80.2 691.9,-64.2 673.4,-64.2 664.1,-80.2 673.4,-96.2 691.9,-96.2" fill="#7d7d86" stroke="#7d7d86" stroke-width="3" stroke-linejoin="round"/><polygon points="616.7,68.2 607.5,84.2 589.0,84.2 579.7,68.2 589.0,52.2 607.5,52.2" fill="#7d7d86" stroke="#7d7d86" stroke-width="3" stroke-linejoin="round"/><polygon points="532.3,216.6 523.1,232.6 504.6,232.6 495.3,216.6 504.6,200.6 523.1,200.6" fill="#7d7d86" stroke="#7d7d86" stroke-width="3" stroke-linejoin="round"/><polygon points="827.1,-80.2 817.9,-64.2 799.4,-64.2 790.1,-80.2 799.4,-96.2 817.9,-96.2" fill="#7d7d86" stroke="#7d7d86" stroke-width="3" stroke-linejoin="round"/><polygon points="742.7,68.2 733.5,84.2 715.0,84.2 705.7,68.2 715.0,52.2 733.5,52.2" fill="#7d7d86" stroke="#7d7d86" stroke-width="3" stroke-linejoin="round"/><polygon points="658.3,216.6 649.1,232.6 630.6,232.6 621.3,216.6 630.6,200.6 649.1,200.6" fill="#7d7d86" stroke="#7d7d86" stroke-width="3" stroke-linejoin="round"/><circle cx="597.9" cy="-80.2" r="16" fill="#7d7d86"/><circle cx="513.5" cy="68.2" r="16" fill="#7d7d86"/><circle cx="429.1" cy="216.60000000000002" r="16" fill="#7d7d86"/><circle cx="723.9" cy="-80.2" r="16" fill="#7d7d86"/><circle cx="639.5" cy="68.2" r="16" fill="#7d7d86"/><circle cx="555.1" cy="216.60000000000002" r="16" fill="#7d7d86"/><circle cx="849.9" cy="-80.2" r="16" fill="#7d7d86"/><circle cx="765.5" cy="68.2" r="16" fill="#7d7d86"/><circle cx="681.1" cy="216.60000000000002" r="16" fill="#7d7d86"/><polygon points="511.9,-42.8 502.6,-26.8 484.1,-26.8 474.9,-42.8 484.1,-58.8 502.6,-58.8" fill="#7d7d86" stroke="#7d7d86" stroke-width="3" stroke-linejoin="round"/><polygon points="427.5,105.6 418.2,121.6 399.8,121.6 390.5,105.6 399.8,89.6 418.2,89.6" fill="#7d7d86" stroke="#7d7d86" stroke-width="3" stroke-linejoin="round"/><polygon points="343.1,254.0 333.9,270.0 315.4,270.0 306.1,254.0 315.4,238.0 333.9,238.0" fill="#7d7d86" stroke="#7d7d86" stroke-width="3" stroke-linejoin="round"/><polygon points="637.9,-42.8 628.6,-26.8 610.1,-26.8 600.9,-42.8 610.1,-58.8 628.6,-58.8" fill="#7d7d86" stroke="#7d7d86" stroke-width="3" stroke-linejoin="round"/><polygon points="553.5,105.6 544.2,121.6 525.8,121.6 516.5,105.6 525.8,89.6 544.2,89.6" fill="#7d7d86" stroke="#7d7d86" stroke-width="3" stroke-linejoin="round"/><polygon points="469.1,254.0 459.9,270.0 441.4,270.0 432.1,254.0 441.4,238.0 459.9,238.0" fill="#7d7d86" stroke="#7d7d86" stroke-width="3" stroke-linejoin="round"/><polygon points="763.9,-42.8 754.6,-26.8 736.1,-26.8 726.9,-42.8 736.1,-58.8 754.6,-58.8" fill="#7d7d86" stroke="#7d7d86" stroke-width="3" stroke-linejoin="round"/><polygon points="679.5,105.6 670.2,121.6 651.8,121.6 642.5,105.6 651.8,89.6 670.2,89.6" fill="#7d7d86" stroke="#7d7d86" stroke-width="3" stroke-linejoin="round"/><polygon points="595.1,254.0 585.9,270.0 567.4,270.0 558.1,254.0 567.4,238.0 585.9,238.0" fill="#7d7d86" stroke="#7d7d86" stroke-width="3" stroke-linejoin="round"/><circle cx="529.6" cy="-40.30000000000001" r="8" fill="#e5d04a"/><circle cx="540.6" cy="-40.30000000000001" r="8" fill="#e5d04a"/><circle cx="535.1" cy="-46.80000000000001" r="8.5" fill="#e5d04a"/><circle cx="445.20000000000005" cy="108.1" r="8" fill="#e5d04a"/><circle cx="456.20000000000005" cy="108.1" r="8" fill="#e5d04a"/><circle cx="450.70000000000005" cy="101.6" r="8.5" fill="#e5d04a"/><circle cx="360.80000000000007" cy="256.5" r="8" fill="#e5d04a"/><circle cx="371.80000000000007" cy="256.5" r="8" fill="#e5d04a"/><circle cx="366.30000000000007" cy="250.0" r="8.5" fill="#e5d04a"/><circle cx="655.6" cy="-40.30000000000001" r="8" fill="#e5d04a"/><circle cx="666.6" cy="-40.30000000000001" r="8" fill="#e5d04a"/><circle cx="661.1" cy="-46.80000000000001" r="8.5" fill="#e5d04a"/><circle cx="571.2" cy="108.1" r="8" fill="#e5d04a"/><circle cx="582.2" cy="108.1" r="8" fill="#e5d04a"/><circle cx="576.7" cy="101.6" r="8.5" fill="#e5d04a"/><circle cx="486.80000000000007" cy="256.5" r="8" fill="#e5d04a"/><circle cx="497.80000000000007" cy="256.5" r="8" fill="#e5d04a"/><circle cx="492.30000000000007" cy="250.0" r="8.5" fill="#e5d04a"/><circle cx="781.6" cy="-40.30000000000001" r="8" fill="#e5d04a"/><circle cx="792.6" cy="-40.30000000000001" r="8" fill="#e5d04a"/><circle cx="787.1" cy="-46.80000000000001" r="8.5" fill="#e5d04a"/><circle cx="697.2" cy="108.1" r="8" fill="#e5d04a"/><circle cx="708.2" cy="108.1" r="8" fill="#e5d04a"/><circle cx="702.7" cy="101.6" r="8.5" fill="#e5d04a"/><circle cx="612.8000000000001" cy="256.5" r="8" fill="#e5d04a"/><circle cx="623.8000000000001" cy="256.5" r="8" fill="#e5d04a"/><circle cx="618.3000000000001" cy="250.0" r="8.5" fill="#e5d04a"/><polygon points="594.3,-42.8 585.8,-28.1 568.8,-28.1 560.3,-42.8 568.8,-57.5 585.8,-57.5" fill="#7d7d86" stroke="#7d7d86" stroke-width="3" stroke-linejoin="round"/><polygon points="509.9,105.6 501.4,120.3 484.4,120.3 475.9,105.6 484.4,90.9 501.4,90.9" fill="#7d7d86" stroke="#7d7d86" stroke-width="3" stroke-linejoin="round"/><polygon points="425.5,254.0 417.0,268.7 400.0,268.7 391.5,254.0 400.0,239.3 417.0,239.3" fill="#7d7d86" stroke="#7d7d86" stroke-width="3" stroke-linejoin="round"/><polygon points="720.3,-42.8 711.8,-28.1 694.8,-28.1 686.3,-42.8 694.8,-57.5 711.8,-57.5" fill="#7d7d86" stroke="#7d7d86" stroke-width="3" stroke-linejoin="round"/><polygon points="635.9,105.6 627.4,120.3 610.4,120.3 601.9,105.6 610.4,90.9 627.4,90.9" fill="#7d7d86" stroke="#7d7d86" stroke-width="3" stroke-linejoin="round"/><polygon points="551.5,254.0 543.0,268.7 526.0,268.7 517.5,254.0 526.0,239.3 543.0,239.3" fill="#7d7d86" stroke="#7d7d86" stroke-width="3" stroke-linejoin="round"/><polygon points="846.3,-42.8 837.8,-28.1 820.8,-28.1 812.3,-42.8 820.8,-57.5 837.8,-57.5" fill="#7d7d86" stroke="#7d7d86" stroke-width="3" stroke-linejoin="round"/><polygon points="761.9,105.6 753.4,120.3 736.4,120.3 727.9,105.6 736.4,90.9 753.4,90.9" fill="#7d7d86" stroke="#7d7d86" stroke-width="3" stroke-linejoin="round"/><polygon points="677.5,254.0 669.0,268.7 652.0,268.7 643.5,254.0 652.0,239.3 669.0,239.3" fill="#7d7d86" stroke="#7d7d86" stroke-width="3" stroke-linejoin="round"/><circle cx="471.79999999999995" cy="-5.599999999999994" r="16" fill="#7d7d86"/><circle cx="387.4" cy="142.8" r="16" fill="#7d7d86"/><circle cx="303.0" cy="291.20000000000005" r="16" fill="#7d7d86"/><circle cx="597.8" cy="-5.599999999999994" r="16" fill="#7d7d86"/><circle cx="513.4" cy="142.8" r="16" fill="#7d7d86"/><circle cx="429.0" cy="291.20000000000005" r="16" fill="#7d7d86"/><circle cx="723.8" cy="-5.599999999999994" r="16" fill="#7d7d86"/><circle cx="639.4" cy="142.8" r="16" fill="#7d7d86"/><circle cx="555.0" cy="291.20000000000005" r="16" fill="#7d7d86"/><polygon points="532.5,-5.6 523.2,10.4 504.8,10.4 495.5,-5.6 504.8,-21.6 523.2,-21.6" fill="#7d7d86" stroke="#7d7d86" stroke-width="3" stroke-linejoin="round"/><polygon points="448.1,142.8 438.9,158.8 420.4,158.8 411.1,142.8 420.4,126.8 438.9,126.8" fill="#7d7d86" stroke="#7d7d86" stroke-width="3" stroke-linejoin="round"/><polygon points="363.7,291.2 354.5,307.2 336.0,307.2 326.7,291.2 336.0,275.2 354.5,275.2" fill="#7d7d86" stroke="#7d7d86" stroke-width="3" stroke-linejoin="round"/><polygon points="658.5,-5.6 649.2,10.4 630.8,10.4 621.5,-5.6 630.8,-21.6 649.2,-21.6" fill="#7d7d86" stroke="#7d7d86" stroke-width="3" stroke-linejoin="round"/><polygon points="574.1,142.8 564.9,158.8 546.4,158.8 537.1,142.8 546.4,126.8 564.9,126.8" fill="#7d7d86" stroke="#7d7d86" stroke-width="3" stroke-linejoin="round"/><polygon points="489.7,291.2 480.5,307.2 462.0,307.2 452.7,291.2 462.0,275.2 480.5,275.2" fill="#7d7d86" stroke="#7d7d86" stroke-width="3" stroke-linejoin="round"/><polygon points="784.5,-5.6 775.2,10.4 756.8,10.4 747.5,-5.6 756.8,-21.6 775.2,-21.6" fill="#7d7d86" stroke="#7d7d86" stroke-width="3" stroke-linejoin="round"/><polygon points="700.1,142.8 690.9,158.8 672.4,158.8 663.1,142.8 672.4,126.8 690.9,126.8" fill="#7d7d86" stroke="#7d7d86" stroke-width="3" stroke-linejoin="round"/><polygon points="615.7,291.2 606.5,307.2 588.0,307.2 578.7,291.2 588.0,275.2 606.5,275.2" fill="#7d7d86" stroke="#7d7d86" stroke-width="3" stroke-linejoin="round"/><circle cx="556.1999999999999" cy="-5.599999999999994" r="9.8" fill="#7d7d86"/><circle cx="471.79999999999995" cy="142.8" r="9.8" fill="#7d7d86"/><circle cx="387.4" cy="291.20000000000005" r="9.8" fill="#7d7d86"/><circle cx="682.1999999999999" cy="-5.599999999999994" r="9.8" fill="#7d7d86"/><circle cx="597.8" cy="142.8" r="9.8" fill="#7d7d86"/><circle cx="513.4" cy="291.20000000000005" r="9.8" fill="#7d7d86"/><circle cx="808.1999999999999" cy="-5.599999999999994" r="9.8" fill="#7d7d86"/><circle cx="723.8" cy="142.8" r="9.8" fill="#7d7d86"/><circle cx="639.4" cy="291.20000000000005" r="9.8" fill="#7d7d86"/><circle cx="535.4" cy="-117.0" r="11.8" fill="#2c2e5a" stroke="#3e4c8e" stroke-width="0.9"/><circle cx="451.0" cy="31.4" r="11.8" fill="#2c2e5a" stroke="#3e4c8e" stroke-width="0.9"/><circle cx="366.6" cy="179.8" r="11.8" fill="#2c2e5a" stroke="#3e4c8e" stroke-width="0.9"/><circle cx="661.4" cy="-117.0" r="11.8" fill="#2c2e5a" stroke="#3e4c8e" stroke-width="0.9"/><circle cx="577.0" cy="31.4" r="11.8" fill="#2c2e5a" stroke="#3e4c8e" stroke-width="0.9"/><circle cx="492.6" cy="179.8" r="11.8" fill="#2c2e5a" stroke="#3e4c8e" stroke-width="0.9"/><circle cx="787.4" cy="-117.0" r="11.8" fill="#2c2e5a" stroke="#3e4c8e" stroke-width="0.9"/><circle cx="703.0" cy="31.4" r="11.8" fill="#2c2e5a" stroke="#3e4c8e" stroke-width="0.9"/><circle cx="618.6" cy="179.8" r="11.8" fill="#2c2e5a" stroke="#3e4c8e" stroke-width="0.9"/><ellipse cx="576.6" cy="-111.0" rx="3.6" ry="5" fill="#2c2e5a"/><circle cx="576.6" cy="-117.0" r="8.3" fill="#2c2e5a" stroke="#3e4c8e" stroke-width="0.9"/><ellipse cx="492.20000000000005" cy="37.4" rx="3.6" ry="5" fill="#2c2e5a"/><circle cx="492.20000000000005" cy="31.4" r="8.3" fill="#2c2e5a" stroke="#3e4c8e" stroke-width="0.9"/><ellipse cx="407.80000000000007" cy="185.8" rx="3.6" ry="5" fill="#2c2e5a"/><circle cx="407.80000000000007" cy="179.8" r="8.3" fill="#2c2e5a" stroke="#3e4c8e" stroke-width="0.9"/><ellipse cx="702.6" cy="-111.0" rx="3.6" ry="5" fill="#2c2e5a"/><circle cx="702.6" cy="-117.0" r="8.3" fill="#2c2e5a" stroke="#3e4c8e" stroke-width="0.9"/><ellipse cx="618.2" cy="37.4" rx="3.6" ry="5" fill="#2c2e5a"/><circle cx="618.2" cy="31.4" r="8.3" fill="#2c2e5a" stroke="#3e4c8e" stroke-width="0.9"/><ellipse cx="533.8000000000001" cy="185.8" rx="3.6" ry="5" fill="#2c2e5a"/><circle cx="533.8000000000001" cy="179.8" r="8.3" fill="#2c2e5a" stroke="#3e4c8e" stroke-width="0.9"/><ellipse cx="828.6" cy="-111.0" rx="3.6" ry="5" fill="#2c2e5a"/><circle cx="828.6" cy="-117.0" r="8.3" fill="#2c2e5a" stroke="#3e4c8e" stroke-width="0.9"/><ellipse cx="744.2" cy="37.4" rx="3.6" ry="5" fill="#2c2e5a"/><circle cx="744.2" cy="31.4" r="8.3" fill="#2c2e5a" stroke="#3e4c8e" stroke-width="0.9"/><ellipse cx="659.8000000000001" cy="185.8" rx="3.6" ry="5" fill="#2c2e5a"/><circle cx="659.8000000000001" cy="179.8" r="8.3" fill="#2c2e5a" stroke="#3e4c8e" stroke-width="0.9"/><circle cx="618.0" cy="-116.2" r="13.4" fill="#2c2e5a" stroke="#3e4c8e" stroke-width="0.9"/><circle cx="533.6" cy="32.2" r="13.4" fill="#2c2e5a" stroke="#3e4c8e" stroke-width="0.9"/><circle cx="449.20000000000005" cy="180.60000000000002" r="13.4" fill="#2c2e5a" stroke="#3e4c8e" stroke-width="0.9"/><circle cx="744.0" cy="-116.2" r="13.4" fill="#2c2e5a" stroke="#3e4c8e" stroke-width="0.9"/><circle cx="659.6" cy="32.2" r="13.4" fill="#2c2e5a" stroke="#3e4c8e" stroke-width="0.9"/><circle cx="575.2" cy="180.60000000000002" r="13.4" fill="#2c2e5a" stroke="#3e4c8e" stroke-width="0.9"/><circle cx="870.0" cy="-116.2" r="13.4" fill="#2c2e5a" stroke="#3e4c8e" stroke-width="0.9"/><circle cx="785.6" cy="32.2" r="13.4" fill="#2c2e5a" stroke="#3e4c8e" stroke-width="0.9"/><circle cx="701.2" cy="180.60000000000002" r="13.4" fill="#2c2e5a" stroke="#3e4c8e" stroke-width="0.9"/><circle cx="514.1999999999999" cy="-80.2" r="7.6" fill="#2c2e5a" stroke="#3e4c8e" stroke-width="0.9"/><circle cx="429.79999999999995" cy="68.2" r="7.6" fill="#2c2e5a" stroke="#3e4c8e" stroke-width="0.9"/><circle cx="345.4" cy="216.60000000000002" r="7.6" fill="#2c2e5a" stroke="#3e4c8e" stroke-width="0.9"/><circle cx="640.1999999999999" cy="-80.2" r="7.6" fill="#2c2e5a" stroke="#3e4c8e" stroke-width="0.9"/><circle cx="555.8" cy="68.2" r="7.6" fill="#2c2e5a" stroke="#3e4c8e" stroke-width="0.9"/><circle cx="471.4" cy="216.60000000000002" r="7.6" fill="#2c2e5a" stroke="#3e4c8e" stroke-width="0.9"/><circle cx="766.1999999999999" cy="-80.2" r="7.6" fill="#2c2e5a" stroke="#3e4c8e" stroke-width="0.9"/><circle cx="681.8" cy="68.2" r="7.6" fill="#2c2e5a" stroke="#3e4c8e" stroke-width="0.9"/><circle cx="597.4" cy="216.60000000000002" r="7.6" fill="#2c2e5a" stroke="#3e4c8e" stroke-width="0.9"/><circle cx="556.6" cy="-80.2" r="12.8" fill="#2c2e5a" stroke="#3e4c8e" stroke-width="0.9"/><circle cx="472.20000000000005" cy="68.2" r="12.8" fill="#2c2e5a" stroke="#3e4c8e" stroke-width="0.9"/><circle cx="387.80000000000007" cy="216.60000000000002" r="12.8" fill="#2c2e5a" stroke="#3e4c8e" stroke-width="0.9"/><circle cx="682.6" cy="-80.2" r="12.8" fill="#2c2e5a" stroke="#3e4c8e" stroke-width="0.9"/><circle cx="598.2" cy="68.2" r="12.8" fill="#2c2e5a" stroke="#3e4c8e" stroke-width="0.9"/><circle cx="513.8000000000001" cy="216.60000000000002" r="12.8" fill="#2c2e5a" stroke="#3e4c8e" stroke-width="0.9"/><circle cx="808.6" cy="-80.2" r="12.8" fill="#2c2e5a" stroke="#3e4c8e" stroke-width="0.9"/><circle cx="724.2" cy="68.2" r="12.8" fill="#2c2e5a" stroke="#3e4c8e" stroke-width="0.9"/><circle cx="639.8000000000001" cy="216.60000000000002" r="12.8" fill="#2c2e5a" stroke="#3e4c8e" stroke-width="0.9"/><circle cx="592.6999999999999" cy="-84.8" r="4.8" fill="#2c2e5a" stroke="#3e4c8e" stroke-width="0.8"/><circle cx="603.1" cy="-84.8" r="4.8" fill="#2c2e5a" stroke="#3e4c8e" stroke-width="0.8"/><circle cx="592.6999999999999" cy="-75.60000000000001" r="4.8" fill="#2c2e5a" stroke="#3e4c8e" stroke-width="0.8"/><circle cx="603.1" cy="-75.60000000000001" r="4.8" fill="#2c2e5a" stroke="#3e4c8e" stroke-width="0.8"/><circle cx="597.9" cy="-80.2" r="6" fill="#2c2e5a"/><circle cx="597.9" cy="-88.5" r="3" fill="#e8d44a"/><circle cx="597.9" cy="-71.4" r="3.2" fill="#e8d44a"/><circle cx="587.6999999999999" cy="-79.9" r="2" fill="#e8d44a"/><circle cx="607.5" cy="-80.2" r="2" fill="#e8d44a"/><circle cx="508.3" cy="63.6" r="4.8" fill="#2c2e5a" stroke="#3e4c8e" stroke-width="0.8"/><circle cx="518.7" cy="63.6" r="4.8" fill="#2c2e5a" stroke="#3e4c8e" stroke-width="0.8"/><circle cx="508.3" cy="72.8" r="4.8" fill="#2c2e5a" stroke="#3e4c8e" stroke-width="0.8"/><circle cx="518.7" cy="72.8" r="4.8" fill="#2c2e5a" stroke="#3e4c8e" stroke-width="0.8"/><circle cx="513.5" cy="68.2" r="6" fill="#2c2e5a"/><circle cx="513.5" cy="59.900000000000006" r="3" fill="#e8d44a"/><circle cx="513.5" cy="77.0" r="3.2" fill="#e8d44a"/><circle cx="503.3" cy="68.5" r="2" fill="#e8d44a"/><circle cx="523.1" cy="68.2" r="2" fill="#e8d44a"/><circle cx="423.90000000000003" cy="212.00000000000003" r="4.8" fill="#2c2e5a" stroke="#3e4c8e" stroke-width="0.8"/><circle cx="434.3" cy="212.00000000000003" r="4.8" fill="#2c2e5a" stroke="#3e4c8e" stroke-width="0.8"/><circle cx="423.90000000000003" cy="221.20000000000002" r="4.8" fill="#2c2e5a" stroke="#3e4c8e" stroke-width="0.8"/><circle cx="434.3" cy="221.20000000000002" r="4.8" fill="#2c2e5a" stroke="#3e4c8e" stroke-width="0.8"/><circle cx="429.1" cy="216.60000000000002" r="6" fill="#2c2e5a"/><circle cx="429.1" cy="208.3" r="3" fill="#e8d44a"/><circle cx="429.1" cy="225.40000000000003" r="3.2" fill="#e8d44a"/><circle cx="418.90000000000003" cy="216.90000000000003" r="2" fill="#e8d44a"/><circle cx="438.70000000000005" cy="216.60000000000002" r="2" fill="#e8d44a"/><circle cx="718.6999999999999" cy="-84.8" r="4.8" fill="#2c2e5a" stroke="#3e4c8e" stroke-width="0.8"/><circle cx="729.1" cy="-84.8" r="4.8" fill="#2c2e5a" stroke="#3e4c8e" stroke-width="0.8"/><circle cx="718.6999999999999" cy="-75.60000000000001" r="4.8" fill="#2c2e5a" stroke="#3e4c8e" stroke-width="0.8"/><circle cx="729.1" cy="-75.60000000000001" r="4.8" fill="#2c2e5a" stroke="#3e4c8e" stroke-width="0.8"/><circle cx="723.9" cy="-80.2" r="6" fill="#2c2e5a"/><circle cx="723.9" cy="-88.5" r="3" fill="#e8d44a"/><circle cx="723.9" cy="-71.4" r="3.2" fill="#e8d44a"/><circle cx="713.6999999999999" cy="-79.9" r="2" fill="#e8d44a"/><circle cx="733.5" cy="-80.2" r="2" fill="#e8d44a"/><circle cx="634.3" cy="63.6" r="4.8" fill="#2c2e5a" stroke="#3e4c8e" stroke-width="0.8"/><circle cx="644.7" cy="63.6" r="4.8" fill="#2c2e5a" stroke="#3e4c8e" stroke-width="0.8"/><circle cx="634.3" cy="72.8" r="4.8" fill="#2c2e5a" stroke="#3e4c8e" stroke-width="0.8"/><circle cx="644.7" cy="72.8" r="4.8" fill="#2c2e5a" stroke="#3e4c8e" stroke-width="0.8"/><circle cx="639.5" cy="68.2" r="6" fill="#2c2e5a"/><circle cx="639.5" cy="59.900000000000006" r="3" fill="#e8d44a"/><circle cx="639.5" cy="77.0" r="3.2" fill="#e8d44a"/><circle cx="629.3" cy="68.5" r="2" fill="#e8d44a"/><circle cx="649.1" cy="68.2" r="2" fill="#e8d44a"/><circle cx="549.9" cy="212.00000000000003" r="4.8" fill="#2c2e5a" stroke="#3e4c8e" stroke-width="0.8"/><circle cx="560.3000000000001" cy="212.00000000000003" r="4.8" fill="#2c2e5a" stroke="#3e4c8e" stroke-width="0.8"/><circle cx="549.9" cy="221.20000000000002" r="4.8" fill="#2c2e5a" stroke="#3e4c8e" stroke-width="0.8"/><circle cx="560.3000000000001" cy="221.20000000000002" r="4.8" fill="#2c2e5a" stroke="#3e4c8e" stroke-width="0.8"/><circle cx="555.1" cy="216.60000000000002" r="6" fill="#2c2e5a"/><circle cx="555.1" cy="208.3" r="3" fill="#e8d44a"/><circle cx="555.1" cy="225.40000000000003" r="3.2" fill="#e8d44a"/><circle cx="544.9" cy="216.90000000000003" r="2" fill="#e8d44a"/><circle cx="564.7" cy="216.60000000000002" r="2" fill="#e8d44a"/><circle cx="844.6999999999999" cy="-84.8" r="4.8" fill="#2c2e5a" stroke="#3e4c8e" stroke-width="0.8"/><circle cx="855.1" cy="-84.8" r="4.8" fill="#2c2e5a" stroke="#3e4c8e" stroke-width="0.8"/><circle cx="844.6999999999999" cy="-75.60000000000001" r="4.8" fill="#2c2e5a" stroke="#3e4c8e" stroke-width="0.8"/><circle cx="855.1" cy="-75.60000000000001" r="4.8" fill="#2c2e5a" stroke="#3e4c8e" stroke-width="0.8"/><circle cx="849.9" cy="-80.2" r="6" fill="#2c2e5a"/><circle cx="849.9" cy="-88.5" r="3" fill="#e8d44a"/><circle cx="849.9" cy="-71.4" r="3.2" fill="#e8d44a"/><circle cx="839.6999999999999" cy="-79.9" r="2" fill="#e8d44a"/><circle cx="859.5" cy="-80.2" r="2" fill="#e8d44a"/><circle cx="760.3" cy="63.6" r="4.8" fill="#2c2e5a" stroke="#3e4c8e" stroke-width="0.8"/><circle cx="770.7" cy="63.6" r="4.8" fill="#2c2e5a" stroke="#3e4c8e" stroke-width="0.8"/><circle cx="760.3" cy="72.8" r="4.8" fill="#2c2e5a" stroke="#3e4c8e" stroke-width="0.8"/><circle cx="770.7" cy="72.8" r="4.8" fill="#2c2e5a" stroke="#3e4c8e" stroke-width="0.8"/><circle cx="765.5" cy="68.2" r="6" fill="#2c2e5a"/><circle cx="765.5" cy="59.900000000000006" r="3" fill="#e8d44a"/><circle cx="765.5" cy="77.0" r="3.2" fill="#e8d44a"/><circle cx="755.3" cy="68.5" r="2" fill="#e8d44a"/><circle cx="775.1" cy="68.2" r="2" fill="#e8d44a"/><circle cx="675.9" cy="212.00000000000003" r="4.8" fill="#2c2e5a" stroke="#3e4c8e" stroke-width="0.8"/><circle cx="686.3000000000001" cy="212.00000000000003" r="4.8" fill="#2c2e5a" stroke="#3e4c8e" stroke-width="0.8"/><circle cx="675.9" cy="221.20000000000002" r="4.8" fill="#2c2e5a" stroke="#3e4c8e" stroke-width="0.8"/><circle cx="686.3000000000001" cy="221.20000000000002" r="4.8" fill="#2c2e5a" stroke="#3e4c8e" stroke-width="0.8"/><circle cx="681.1" cy="216.60000000000002" r="6" fill="#2c2e5a"/><circle cx="681.1" cy="208.3" r="3" fill="#e8d44a"/><circle cx="681.1" cy="225.40000000000003" r="3.2" fill="#e8d44a"/><circle cx="670.9" cy="216.90000000000003" r="2" fill="#e8d44a"/><circle cx="690.7" cy="216.60000000000002" r="2" fill="#e8d44a"/><circle cx="493.4" cy="-42.80000000000001" r="13.4" fill="#2c2e5a" stroke="#3e4c8e" stroke-width="0.9"/><circle cx="409.0" cy="105.6" r="13.4" fill="#2c2e5a" stroke="#3e4c8e" stroke-width="0.9"/><circle cx="324.6" cy="254.0" r="13.4" fill="#2c2e5a" stroke="#3e4c8e" stroke-width="0.9"/><circle cx="619.4" cy="-42.80000000000001" r="13.4" fill="#2c2e5a" stroke="#3e4c8e" stroke-width="0.9"/><circle cx="535.0" cy="105.6" r="13.4" fill="#2c2e5a" stroke="#3e4c8e" stroke-width="0.9"/><circle cx="450.6" cy="254.0" r="13.4" fill="#2c2e5a" stroke="#3e4c8e" stroke-width="0.9"/><circle cx="745.4" cy="-42.80000000000001" r="13.4" fill="#2c2e5a" stroke="#3e4c8e" stroke-width="0.9"/><circle cx="661.0" cy="105.6" r="13.4" fill="#2c2e5a" stroke="#3e4c8e" stroke-width="0.9"/><circle cx="576.6" cy="254.0" r="13.4" fill="#2c2e5a" stroke="#3e4c8e" stroke-width="0.9"/><ellipse cx="535.1" cy="-36.80000000000001" rx="3.6" ry="5" fill="#2c2e5a"/><circle cx="535.1" cy="-42.80000000000001" r="8.3" fill="#2c2e5a" stroke="#3e4c8e" stroke-width="0.9"/><ellipse cx="450.70000000000005" cy="111.6" rx="3.6" ry="5" fill="#2c2e5a"/><circle cx="450.70000000000005" cy="105.6" r="8.3" fill="#2c2e5a" stroke="#3e4c8e" stroke-width="0.9"/><ellipse cx="366.30000000000007" cy="260.0" rx="3.6" ry="5" fill="#2c2e5a"/><circle cx="366.30000000000007" cy="254.0" r="8.3" fill="#2c2e5a" stroke="#3e4c8e" stroke-width="0.9"/><ellipse cx="661.1" cy="-36.80000000000001" rx="3.6" ry="5" fill="#2c2e5a"/><circle cx="661.1" cy="-42.80000000000001" r="8.3" fill="#2c2e5a" stroke="#3e4c8e" stroke-width="0.9"/><ellipse cx="576.7" cy="111.6" rx="3.6" ry="5" fill="#2c2e5a"/><circle cx="576.7" cy="105.6" r="8.3" fill="#2c2e5a" stroke="#3e4c8e" stroke-width="0.9"/><ellipse cx="492.30000000000007" cy="260.0" rx="3.6" ry="5" fill="#2c2e5a"/><circle cx="492.30000000000007" cy="254.0" r="8.3" fill="#2c2e5a" stroke="#3e4c8e" stroke-width="0.9"/><ellipse cx="787.1" cy="-36.80000000000001" rx="3.6" ry="5" fill="#2c2e5a"/><circle cx="787.1" cy="-42.80000000000001" r="8.3" fill="#2c2e5a" stroke="#3e4c8e" stroke-width="0.9"/><ellipse cx="702.7" cy="111.6" rx="3.6" ry="5" fill="#2c2e5a"/><circle cx="702.7" cy="105.6" r="8.3" fill="#2c2e5a" stroke="#3e4c8e" stroke-width="0.9"/><ellipse cx="618.3000000000001" cy="260.0" rx="3.6" ry="5" fill="#2c2e5a"/><circle cx="618.3000000000001" cy="254.0" r="8.3" fill="#2c2e5a" stroke="#3e4c8e" stroke-width="0.9"/><circle cx="577.3" cy="-42.80000000000001" r="11.8" fill="#2c2e5a" stroke="#3e4c8e" stroke-width="0.9"/><circle cx="492.9" cy="105.6" r="11.8" fill="#2c2e5a" stroke="#3e4c8e" stroke-width="0.9"/><circle cx="408.5" cy="254.0" r="11.8" fill="#2c2e5a" stroke="#3e4c8e" stroke-width="0.9"/><circle cx="703.3" cy="-42.80000000000001" r="11.8" fill="#2c2e5a" stroke="#3e4c8e" stroke-width="0.9"/><circle cx="618.9" cy="105.6" r="11.8" fill="#2c2e5a" stroke="#3e4c8e" stroke-width="0.9"/><circle cx="534.5" cy="254.0" r="11.8" fill="#2c2e5a" stroke="#3e4c8e" stroke-width="0.9"/><circle cx="829.3" cy="-42.80000000000001" r="11.8" fill="#2c2e5a" stroke="#3e4c8e" stroke-width="0.9"/><circle cx="744.9" cy="105.6" r="11.8" fill="#2c2e5a" stroke="#3e4c8e" stroke-width="0.9"/><circle cx="660.5" cy="254.0" r="11.8" fill="#2c2e5a" stroke="#3e4c8e" stroke-width="0.9"/><circle cx="466.59999999999997" cy="-10.199999999999994" r="4.8" fill="#2c2e5a" stroke="#3e4c8e" stroke-width="0.8"/><circle cx="476.99999999999994" cy="-10.199999999999994" r="4.8" fill="#2c2e5a" stroke="#3e4c8e" stroke-width="0.8"/><circle cx="466.59999999999997" cy="-0.9999999999999947" r="4.8" fill="#2c2e5a" stroke="#3e4c8e" stroke-width="0.8"/><circle cx="476.99999999999994" cy="-0.9999999999999947" r="4.8" fill="#2c2e5a" stroke="#3e4c8e" stroke-width="0.8"/><circle cx="471.79999999999995" cy="-5.599999999999994" r="6" fill="#2c2e5a"/><circle cx="471.79999999999995" cy="-13.899999999999995" r="3" fill="#e8d44a"/><circle cx="471.79999999999995" cy="3.2000000000000064" r="3.2" fill="#e8d44a"/><circle cx="461.59999999999997" cy="-5.2999999999999945" r="2" fill="#e8d44a"/><circle cx="481.4" cy="-5.599999999999994" r="2" fill="#e8d44a"/><circle cx="382.2" cy="138.20000000000002" r="4.8" fill="#2c2e5a" stroke="#3e4c8e" stroke-width="0.8"/><circle cx="392.59999999999997" cy="138.20000000000002" r="4.8" fill="#2c2e5a" stroke="#3e4c8e" stroke-width="0.8"/><circle cx="382.2" cy="147.4" r="4.8" fill="#2c2e5a" stroke="#3e4c8e" stroke-width="0.8"/><circle cx="392.59999999999997" cy="147.4" r="4.8" fill="#2c2e5a" stroke="#3e4c8e" stroke-width="0.8"/><circle cx="387.4" cy="142.8" r="6" fill="#2c2e5a"/><circle cx="387.4" cy="134.5" r="3" fill="#e8d44a"/><circle cx="387.4" cy="151.60000000000002" r="3.2" fill="#e8d44a"/><circle cx="377.2" cy="143.10000000000002" r="2" fill="#e8d44a"/><circle cx="397.0" cy="142.8" r="2" fill="#e8d44a"/><circle cx="297.8" cy="286.6" r="4.8" fill="#2c2e5a" stroke="#3e4c8e" stroke-width="0.8"/><circle cx="308.2" cy="286.6" r="4.8" fill="#2c2e5a" stroke="#3e4c8e" stroke-width="0.8"/><circle cx="297.8" cy="295.80000000000007" r="4.8" fill="#2c2e5a" stroke="#3e4c8e" stroke-width="0.8"/><circle cx="308.2" cy="295.80000000000007" r="4.8" fill="#2c2e5a" stroke="#3e4c8e" stroke-width="0.8"/><circle cx="303.0" cy="291.20000000000005" r="6" fill="#2c2e5a"/><circle cx="303.0" cy="282.90000000000003" r="3" fill="#e8d44a"/><circle cx="303.0" cy="300.00000000000006" r="3.2" fill="#e8d44a"/><circle cx="292.8" cy="291.50000000000006" r="2" fill="#e8d44a"/><circle cx="312.6" cy="291.20000000000005" r="2" fill="#e8d44a"/><circle cx="592.5999999999999" cy="-10.199999999999994" r="4.8" fill="#2c2e5a" stroke="#3e4c8e" stroke-width="0.8"/><circle cx="603.0" cy="-10.199999999999994" r="4.8" fill="#2c2e5a" stroke="#3e4c8e" stroke-width="0.8"/><circle cx="592.5999999999999" cy="-0.9999999999999947" r="4.8" fill="#2c2e5a" stroke="#3e4c8e" stroke-width="0.8"/><circle cx="603.0" cy="-0.9999999999999947" r="4.8" fill="#2c2e5a" stroke="#3e4c8e" stroke-width="0.8"/><circle cx="597.8" cy="-5.599999999999994" r="6" fill="#2c2e5a"/><circle cx="597.8" cy="-13.899999999999995" r="3" fill="#e8d44a"/><circle cx="597.8" cy="3.2000000000000064" r="3.2" fill="#e8d44a"/><circle cx="587.5999999999999" cy="-5.2999999999999945" r="2" fill="#e8d44a"/><circle cx="607.4" cy="-5.599999999999994" r="2" fill="#e8d44a"/><circle cx="508.2" cy="138.20000000000002" r="4.8" fill="#2c2e5a" stroke="#3e4c8e" stroke-width="0.8"/><circle cx="518.6" cy="138.20000000000002" r="4.8" fill="#2c2e5a" stroke="#3e4c8e" stroke-width="0.8"/><circle cx="508.2" cy="147.4" r="4.8" fill="#2c2e5a" stroke="#3e4c8e" stroke-width="0.8"/><circle cx="518.6" cy="147.4" r="4.8" fill="#2c2e5a" stroke="#3e4c8e" stroke-width="0.8"/><circle cx="513.4" cy="142.8" r="6" fill="#2c2e5a"/><circle cx="513.4" cy="134.5" r="3" fill="#e8d44a"/><circle cx="513.4" cy="151.60000000000002" r="3.2" fill="#e8d44a"/><circle cx="503.2" cy="143.10000000000002" r="2" fill="#e8d44a"/><circle cx="523.0" cy="142.8" r="2" fill="#e8d44a"/><circle cx="423.8" cy="286.6" r="4.8" fill="#2c2e5a" stroke="#3e4c8e" stroke-width="0.8"/><circle cx="434.2" cy="286.6" r="4.8" fill="#2c2e5a" stroke="#3e4c8e" stroke-width="0.8"/><circle cx="423.8" cy="295.80000000000007" r="4.8" fill="#2c2e5a" stroke="#3e4c8e" stroke-width="0.8"/><circle cx="434.2" cy="295.80000000000007" r="4.8" fill="#2c2e5a" stroke="#3e4c8e" stroke-width="0.8"/><circle cx="429.0" cy="291.20000000000005" r="6" fill="#2c2e5a"/><circle cx="429.0" cy="282.90000000000003" r="3" fill="#e8d44a"/><circle cx="429.0" cy="300.00000000000006" r="3.2" fill="#e8d44a"/><circle cx="418.8" cy="291.50000000000006" r="2" fill="#e8d44a"/><circle cx="438.6" cy="291.20000000000005" r="2" fill="#e8d44a"/><circle cx="718.5999999999999" cy="-10.199999999999994" r="4.8" fill="#2c2e5a" stroke="#3e4c8e" stroke-width="0.8"/><circle cx="729.0" cy="-10.199999999999994" r="4.8" fill="#2c2e5a" stroke="#3e4c8e" stroke-width="0.8"/><circle cx="718.5999999999999" cy="-0.9999999999999947" r="4.8" fill="#2c2e5a" stroke="#3e4c8e" stroke-width="0.8"/><circle cx="729.0" cy="-0.9999999999999947" r="4.8" fill="#2c2e5a" stroke="#3e4c8e" stroke-width="0.8"/><circle cx="723.8" cy="-5.599999999999994" r="6" fill="#2c2e5a"/><circle cx="723.8" cy="-13.899999999999995" r="3" fill="#e8d44a"/><circle cx="723.8" cy="3.2000000000000064" r="3.2" fill="#e8d44a"/><circle cx="713.5999999999999" cy="-5.2999999999999945" r="2" fill="#e8d44a"/><circle cx="733.4" cy="-5.599999999999994" r="2" fill="#e8d44a"/><circle cx="634.1999999999999" cy="138.20000000000002" r="4.8" fill="#2c2e5a" stroke="#3e4c8e" stroke-width="0.8"/><circle cx="644.6" cy="138.20000000000002" r="4.8" fill="#2c2e5a" stroke="#3e4c8e" stroke-width="0.8"/><circle cx="634.1999999999999" cy="147.4" r="4.8" fill="#2c2e5a" stroke="#3e4c8e" stroke-width="0.8"/><circle cx="644.6" cy="147.4" r="4.8" fill="#2c2e5a" stroke="#3e4c8e" stroke-width="0.8"/><circle cx="639.4" cy="142.8" r="6" fill="#2c2e5a"/><circle cx="639.4" cy="134.5" r="3" fill="#e8d44a"/><circle cx="639.4" cy="151.60000000000002" r="3.2" fill="#e8d44a"/><circle cx="629.1999999999999" cy="143.10000000000002" r="2" fill="#e8d44a"/><circle cx="649.0" cy="142.8" r="2" fill="#e8d44a"/><circle cx="549.8" cy="286.6" r="4.8" fill="#2c2e5a" stroke="#3e4c8e" stroke-width="0.8"/><circle cx="560.2" cy="286.6" r="4.8" fill="#2c2e5a" stroke="#3e4c8e" stroke-width="0.8"/><circle cx="549.8" cy="295.80000000000007" r="4.8" fill="#2c2e5a" stroke="#3e4c8e" stroke-width="0.8"/><circle cx="560.2" cy="295.80000000000007" r="4.8" fill="#2c2e5a" stroke="#3e4c8e" stroke-width="0.8"/><circle cx="555.0" cy="291.20000000000005" r="6" fill="#2c2e5a"/><circle cx="555.0" cy="282.90000000000003" r="3" fill="#e8d44a"/><circle cx="555.0" cy="300.00000000000006" r="3.2" fill="#e8d44a"/><circle cx="544.8" cy="291.50000000000006" r="2" fill="#e8d44a"/><circle cx="564.6" cy="291.20000000000005" r="2" fill="#e8d44a"/><circle cx="514.0" cy="-5.599999999999994" r="12.8" fill="#2c2e5a" stroke="#3e4c8e" stroke-width="0.9"/><circle cx="429.6" cy="142.8" r="12.8" fill="#2c2e5a" stroke="#3e4c8e" stroke-width="0.9"/><circle cx="345.20000000000005" cy="291.20000000000005" r="12.8" fill="#2c2e5a" stroke="#3e4c8e" stroke-width="0.9"/><circle cx="640.0" cy="-5.599999999999994" r="12.8" fill="#2c2e5a" stroke="#3e4c8e" stroke-width="0.9"/><circle cx="555.6" cy="142.8" r="12.8" fill="#2c2e5a" stroke="#3e4c8e" stroke-width="0.9"/><circle cx="471.20000000000005" cy="291.20000000000005" r="12.8" fill="#2c2e5a" stroke="#3e4c8e" stroke-width="0.9"/><circle cx="766.0" cy="-5.599999999999994" r="12.8" fill="#2c2e5a" stroke="#3e4c8e" stroke-width="0.9"/><circle cx="681.6" cy="142.8" r="12.8" fill="#2c2e5a" stroke="#3e4c8e" stroke-width="0.9"/><circle cx="597.2" cy="291.20000000000005" r="12.8" fill="#2c2e5a" stroke="#3e4c8e" stroke-width="0.9"/><circle cx="556.1999999999999" cy="-5.599999999999994" r="7.6" fill="#2c2e5a" stroke="#3e4c8e" stroke-width="0.9"/><circle cx="471.79999999999995" cy="142.8" r="7.6" fill="#2c2e5a" stroke="#3e4c8e" stroke-width="0.9"/><circle cx="387.4" cy="291.20000000000005" r="7.6" fill="#2c2e5a" stroke="#3e4c8e" stroke-width="0.9"/><circle cx="682.1999999999999" cy="-5.599999999999994" r="7.6" fill="#2c2e5a" stroke="#3e4c8e" stroke-width="0.9"/><circle cx="597.8" cy="142.8" r="7.6" fill="#2c2e5a" stroke="#3e4c8e" stroke-width="0.9"/><circle cx="513.4" cy="291.20000000000005" r="7.6" fill="#2c2e5a" stroke="#3e4c8e" stroke-width="0.9"/><circle cx="808.1999999999999" cy="-5.599999999999994" r="7.6" fill="#2c2e5a" stroke="#3e4c8e" stroke-width="0.9"/><circle cx="723.8" cy="142.8" r="7.6" fill="#2c2e5a" stroke="#3e4c8e" stroke-width="0.9"/><circle cx="639.4" cy="291.20000000000005" r="7.6" fill="#2c2e5a" stroke="#3e4c8e" stroke-width="0.9"/></g><text x="577" y="34.699999999999996" font-size="9.2" font-weight="bold" text-anchor="middle" fill="#fff">Mn</text><text x="618.2" y="34.699999999999996" font-size="9.2" font-weight="bold" text-anchor="middle" fill="#fff">Co</text><text x="659.6" y="35.5" font-size="9.2" font-weight="bold" text-anchor="middle" fill="#fff">Ti</text><text x="555.8" y="71.5" font-size="9.2" font-weight="bold" text-anchor="middle" fill="#fff">Ni</text><text x="598.2" y="71.5" font-size="9.2" font-weight="bold" text-anchor="middle" fill="#fff">Fe</text><text x="639.5" y="71.5" font-size="8.6" font-weight="bold" text-anchor="middle" fill="#fff">Cu</text><text x="535" y="108.89999999999999" font-size="9.2" font-weight="bold" text-anchor="middle" fill="#fff">Ti</text><text x="576.7" y="108.89999999999999" font-size="9.2" font-weight="bold" text-anchor="middle" fill="#fff">Co</text><text x="618.9" y="108.89999999999999" font-size="9.2" font-weight="bold" text-anchor="middle" fill="#fff">Mn</text><text x="513.4" y="146.10000000000002" font-size="8.6" font-weight="bold" text-anchor="middle" fill="#fff">Cu</text><text x="555.6" y="146.10000000000002" font-size="9.2" font-weight="bold" text-anchor="middle" fill="#fff">Fe</text><text x="597.8" y="146.10000000000002" font-size="9.2" font-weight="bold" text-anchor="middle" fill="#fff">Ni</text><rect x="460.4" y="16.8" width="5.6" height="149.8" fill="url(#cbar)" stroke="#333" stroke-width="0.4"/><text x="459.8" y="14.6" font-size="9.5" fill="#555">0.020</text><text x="461" y="176.5" font-size="9.5" fill="#555">0</text><text transform="translate(456 82.5) rotate(-90)" font-size="9.5" text-anchor="middle" fill="#444">Δ<tspan font-style="italic">ρ</tspan> (eV)</text><text x="442" y="13.6" font-size="15.5" font-weight="bold" fill="#000">c</text><g fill="none" stroke="#2e3192" stroke-width="0.95"><circle cx="75.1" cy="412.7" r="4.6"/><path d="M70.5,412.7H79.69999999999999M75.1,408.09999999999997V417.3"/><circle cx="88.4" cy="393.8" r="4.6"/><path d="M83.80000000000001,393.8H93.0M88.4,389.2V398.40000000000003"/><circle cx="93.8" cy="360.7" r="4.6"/><path d="M89.2,360.7H98.39999999999999M93.8,356.09999999999997V365.3"/><circle cx="118.4" cy="351.9" r="4.6"/><path d="M113.80000000000001,351.9H123.0M118.4,347.29999999999995V356.5"/><circle cx="142.2" cy="347.1" r="4.6"/><path d="M137.6,347.1H146.79999999999998M142.2,342.5V351.70000000000005"/><circle cx="139.6" cy="371.6" r="4.6"/><path d="M135.0,371.6H144.2M139.6,367.0V376.20000000000005"/><circle cx="149.3" cy="377.0" r="4.6"/><path d="M144.4,372.1L154.20000000000002,381.9M154.20000000000002,372.1L144.4,381.9"/><circle cx="155.9" cy="435.0" r="4.6"/><path d="M151.0,430.1L160.8,439.9M160.8,430.1L151.0,439.9"/><circle cx="147.0" cy="278.1" r="4.6"/><path d="M142.1,273.20000000000005L151.9,283.0M151.9,273.20000000000005L142.1,283.0"/><circle cx="150.5" cy="281.3" r="4.6"/><path d="M145.6,276.40000000000003L155.4,286.2M155.4,276.40000000000003L145.6,286.2"/><circle cx="190.4" cy="274.3" r="4.6"/><path d="M185.5,269.40000000000003L195.3,279.2M195.3,269.40000000000003L185.5,279.2"/><circle cx="207.4" cy="282.0" r="4.6"/><path d="M202.8,282.0H212.0M207.4,277.4V286.6"/><circle cx="216.0" cy="301.7" r="4.6"/><path d="M211.1,296.8L220.9,306.59999999999997M220.9,296.8L211.1,306.59999999999997"/><circle cx="216.6" cy="303.3" r="4.6"/><path d="M211.7,298.40000000000003L221.5,308.2M221.5,298.40000000000003L211.7,308.2"/><circle cx="260.4" cy="236.0" r="4.6"/><path d="M255.49999999999997,231.1L265.29999999999995,240.9M265.29999999999995,231.1L255.49999999999997,240.9"/><circle cx="196.1" cy="333.0" r="4.6"/><path d="M191.5,333.0H200.7M196.1,328.4V337.6"/><circle cx="210.1" cy="330.0" r="4.6"/><path d="M205.2,325.1L215.0,334.9M215.0,325.1L205.2,334.9"/><circle cx="199.0" cy="340.0" r="4.6"/><path d="M194.1,335.1L203.9,344.9M203.9,335.1L194.1,344.9"/><circle cx="227.6" cy="338.2" r="4.6"/><path d="M222.7,333.3L232.5,343.09999999999997M232.5,333.3L222.7,343.09999999999997"/><circle cx="227.6" cy="346.0" r="4.6"/><path d="M223.0,346.0H232.2M227.6,341.4V350.6"/><circle cx="237.0" cy="346.0" r="4.6"/><path d="M232.1,341.1L241.9,350.9M241.9,341.1L232.1,350.9"/><circle cx="171.8" cy="348.1" r="4.6"/><path d="M167.20000000000002,348.1H176.4M171.8,343.5V352.70000000000005"/><circle cx="180.1" cy="351.4" r="4.6"/><path d="M175.2,346.5L185.0,356.29999999999995M185.0,346.5L175.2,356.29999999999995"/><circle cx="195.8" cy="353.7" r="4.6"/><path d="M191.20000000000002,353.7H200.4M195.8,349.09999999999997V358.3"/><circle cx="209.3" cy="351.8" r="4.6"/><path d="M204.70000000000002,351.8H213.9M209.3,347.2V356.40000000000003"/><circle cx="222.5" cy="355.4" r="4.6"/><path d="M217.6,350.5L227.4,360.29999999999995M227.4,350.5L217.6,360.29999999999995"/><circle cx="230.5" cy="354.7" r="4.6"/><path d="M225.6,349.8L235.4,359.59999999999997M235.4,349.8L225.6,359.59999999999997"/><circle cx="237.8" cy="361.3" r="4.6"/><path d="M232.9,356.40000000000003L242.70000000000002,366.2M242.70000000000002,356.40000000000003L232.9,366.2"/><circle cx="161.9" cy="362.7" r="4.6"/><path d="M157.3,362.7H166.5M161.9,358.09999999999997V367.3"/><circle cx="169.2" cy="364.2" r="4.6"/><path d="M164.29999999999998,359.3L174.1,369.09999999999997M174.1,359.3L164.29999999999998,369.09999999999997"/><circle cx="173.6" cy="368.6" r="4.6"/><path d="M168.7,363.70000000000005L178.5,373.5M178.5,363.70000000000005L168.7,373.5"/><circle cx="175.8" cy="373.0" r="4.6"/><path d="M170.9,368.1L180.70000000000002,377.9M180.70000000000002,368.1L170.9,377.9"/><circle cx="174.3" cy="376.0" r="4.6"/><path d="M169.4,371.1L179.20000000000002,380.9M179.20000000000002,371.1L169.4,380.9"/><circle cx="199.9" cy="362.7" r="4.6"/><path d="M195.0,357.8L204.8,367.59999999999997M204.8,357.8L195.0,367.59999999999997"/><circle cx="207.2" cy="362.0" r="4.6"/><path d="M202.6,362.0H211.79999999999998M207.2,357.4V366.6"/><circle cx="183.8" cy="373.7" r="4.6"/><path d="M179.20000000000002,373.7H188.4M183.8,369.09999999999997V378.3"/><circle cx="188.2" cy="370.8" r="4.6"/><path d="M183.29999999999998,365.90000000000003L193.1,375.7M193.1,365.90000000000003L183.29999999999998,375.7"/><circle cx="194.0" cy="370.0" r="4.6"/><path d="M189.1,365.1L198.9,374.9M198.9,365.1L189.1,374.9"/><circle cx="199.9" cy="370.8" r="4.6"/><path d="M195.0,365.90000000000003L204.8,375.7M204.8,365.90000000000003L195.0,375.7"/><circle cx="205.7" cy="370.0" r="4.6"/><path d="M200.79999999999998,365.1L210.6,374.9M210.6,365.1L200.79999999999998,374.9"/><circle cx="211.0" cy="365.0" r="4.6"/><path d="M206.1,360.1L215.9,369.9M215.9,360.1L206.1,369.9"/><circle cx="214.0" cy="368.0" r="4.6"/><path d="M209.4,368.0H218.6M214.0,363.4V372.6"/><circle cx="217.0" cy="372.0" r="4.6"/><path d="M212.1,367.1L221.9,376.9M221.9,367.1L212.1,376.9"/><circle cx="220.0" cy="366.0" r="4.6"/><path d="M215.4,366.0H224.6M220.0,361.4V370.6"/><circle cx="223.0" cy="370.0" r="4.6"/><path d="M218.1,365.1L227.9,374.9M227.9,365.1L218.1,374.9"/><circle cx="226.0" cy="374.0" r="4.6"/><path d="M221.1,369.1L230.9,378.9M230.9,369.1L221.1,378.9"/><circle cx="213.0" cy="374.0" r="4.6"/><path d="M208.4,374.0H217.6M213.0,369.4V378.6"/><circle cx="218.0" cy="363.0" r="4.6"/><path d="M213.1,358.1L222.9,367.9M222.9,358.1L213.1,367.9"/><circle cx="225.0" cy="365.0" r="4.6"/><path d="M220.1,360.1L229.9,369.9M229.9,360.1L220.1,369.9"/><circle cx="228.0" cy="370.0" r="4.6"/><path d="M223.4,370.0H232.6M228.0,365.4V374.6"/><circle cx="210.0" cy="371.0" r="4.6"/><path d="M205.1,366.1L214.9,375.9M214.9,366.1L205.1,375.9"/><circle cx="221.0" cy="376.0" r="4.6"/><path d="M216.1,371.1L225.9,380.9M225.9,371.1L216.1,380.9"/><circle cx="186.0" cy="383.9" r="4.6"/><path d="M181.1,379.0L190.9,388.79999999999995M190.9,379.0L181.1,388.79999999999995"/><circle cx="198.1" cy="381.7" r="4.6"/><path d="M193.2,376.8L203.0,386.59999999999997M203.0,376.8L193.2,386.59999999999997"/><circle cx="221.8" cy="384.3" r="4.6"/><path d="M216.9,379.40000000000003L226.70000000000002,389.2M226.70000000000002,379.40000000000003L216.9,389.2"/><circle cx="227.6" cy="386.1" r="4.6"/><path d="M223.0,386.1H232.2M227.6,381.5V390.70000000000005"/><circle cx="221.8" cy="391.3" r="4.6"/><path d="M216.9,386.40000000000003L226.70000000000002,396.2M226.70000000000002,386.40000000000003L216.9,396.2"/><circle cx="233.6" cy="398.2" r="4.6"/><path d="M228.7,393.3L238.5,403.09999999999997M238.5,393.3L228.7,403.09999999999997"/><circle cx="170.7" cy="396.8" r="4.6"/><path d="M165.79999999999998,391.90000000000003L175.6,401.7M175.6,391.90000000000003L165.79999999999998,401.7"/><circle cx="173.0" cy="401.5" r="4.6"/><path d="M168.1,396.6L177.9,406.4M177.9,396.6L168.1,406.4"/><circle cx="185.4" cy="398.4" r="4.6"/><path d="M180.8,398.4H190.0M185.4,393.79999999999995V403.0"/><circle cx="195.5" cy="398.0" r="4.6"/><path d="M190.6,393.1L200.4,402.9M200.4,393.1L190.6,402.9"/><circle cx="198.4" cy="400.7" r="4.6"/><path d="M193.5,395.8L203.3,405.59999999999997M203.3,395.8L193.5,405.59999999999997"/><circle cx="252.0" cy="380.2" r="4.6"/><path d="M247.1,375.3L256.9,385.09999999999997M256.9,375.3L247.1,385.09999999999997"/><circle cx="267.9" cy="374.0" r="4.6"/><path d="M263.0,369.1L272.79999999999995,378.9M272.79999999999995,369.1L263.0,378.9"/><circle cx="238.7" cy="346.0" r="4.6"/><path d="M233.79999999999998,341.1L243.6,350.9M243.6,341.1L233.79999999999998,350.9"/><circle cx="243.8" cy="347.5" r="4.6"/><path d="M238.9,342.6L248.70000000000002,352.4M248.70000000000002,342.6L238.9,352.4"/><circle cx="248.2" cy="346.0" r="4.6"/><path d="M243.29999999999998,341.1L253.1,350.9M253.1,341.1L243.29999999999998,350.9"/><circle cx="253.3" cy="344.6" r="4.6"/><path d="M248.4,339.70000000000005L258.2,349.5M258.2,339.70000000000005L248.4,349.5"/><circle cx="255.5" cy="347.5" r="4.6"/><path d="M250.6,342.6L260.4,352.4M260.4,342.6L250.6,352.4"/><circle cx="239.4" cy="354.1" r="4.6"/><path d="M234.5,349.20000000000005L244.3,359.0M244.3,349.20000000000005L234.5,359.0"/><circle cx="243.8" cy="359.2" r="4.6"/><path d="M238.9,354.3L248.70000000000002,364.09999999999997M248.70000000000002,354.3L238.9,364.09999999999997"/><circle cx="246.7" cy="354.8" r="4.6"/><path d="M241.79999999999998,349.90000000000003L251.6,359.7M251.6,349.90000000000003L241.79999999999998,359.7"/><circle cx="251.1" cy="356.3" r="4.6"/><path d="M246.2,351.40000000000003L256.0,361.2M256.0,351.40000000000003L246.2,361.2"/><circle cx="255.5" cy="360.7" r="4.6"/><path d="M250.6,355.8L260.4,365.59999999999997M260.4,355.8L250.6,365.59999999999997"/><circle cx="259.9" cy="360.7" r="4.6"/><path d="M254.99999999999997,355.8L264.79999999999995,365.59999999999997M264.79999999999995,355.8L254.99999999999997,365.59999999999997"/><circle cx="264.2" cy="365.0" r="4.6"/><path d="M259.3,360.1L269.09999999999997,369.9M269.09999999999997,360.1L259.3,369.9"/><circle cx="239.4" cy="362.1" r="4.6"/><path d="M234.5,357.20000000000005L244.3,367.0M244.3,357.20000000000005L234.5,367.0"/><circle cx="246.7" cy="362.8" r="4.6"/><path d="M241.79999999999998,357.90000000000003L251.6,367.7M251.6,357.90000000000003L241.79999999999998,367.7"/><circle cx="266.3" cy="326.3" r="4.6"/><path d="M261.40000000000003,321.40000000000003L271.2,331.2M271.2,321.40000000000003L261.40000000000003,331.2"/><circle cx="288.2" cy="326.3" r="4.6"/><path d="M283.59999999999997,326.3H292.8M288.2,321.7V330.90000000000003"/><circle cx="298.4" cy="327.4" r="4.6"/><path d="M293.5,322.5L303.29999999999995,332.29999999999995M303.29999999999995,322.5L293.5,332.29999999999995"/><circle cx="275.8" cy="337.2" r="4.6"/><path d="M270.90000000000003,332.3L280.7,342.09999999999997M280.7,332.3L270.90000000000003,342.09999999999997"/><circle cx="288.9" cy="342.3" r="4.6"/><path d="M284.0,337.40000000000003L293.79999999999995,347.2M293.79999999999995,337.40000000000003L284.0,347.2"/><circle cx="313.2" cy="299.6" r="4.6"/><path d="M308.3,294.70000000000005L318.09999999999997,304.5M318.09999999999997,294.70000000000005L308.3,304.5"/><circle cx="269.8" cy="295.0" r="4.6"/><path d="M264.90000000000003,290.1L274.7,299.9M274.7,290.1L264.90000000000003,299.9"/><path d="M317.9,353.40000000000003L324.29999999999995,359.8L317.9,366.2L311.5,359.8ZM311.5,359.8H324.29999999999995M317.9,353.40000000000003V366.2"/><circle cx="334.5" cy="416.8" r="4.6"/><path d="M329.6,411.90000000000003L339.4,421.7M339.4,411.90000000000003L329.6,421.7"/></g><g fill="none" stroke="#ec1c24" stroke-width="0.95"><circle cx="421.6" cy="195.4" r="4.6"/><path d="M416.70000000000005,190.5L426.5,200.3M426.5,190.5L416.70000000000005,200.3"/><circle cx="271.0" cy="297.0" r="4.6"/><path d="M266.1,292.1L275.9,301.9M275.9,292.1L266.1,301.9"/><circle cx="459.3" cy="241.6" r="4.6"/><path d="M454.7,241.6H463.90000000000003M459.3,237.0V246.2"/><circle cx="303.5" cy="268.2" r="4.6"/><path d="M298.6,263.3L308.4,273.09999999999997M308.4,263.3L298.6,273.09999999999997"/><circle cx="331.3" cy="265.0" r="4.6"/><path d="M326.40000000000003,260.1L336.2,269.9M336.2,260.1L326.40000000000003,269.9"/><circle cx="375.6" cy="269.6" r="4.6"/><path d="M370.70000000000005,264.70000000000005L380.5,274.5M380.5,264.70000000000005L370.70000000000005,274.5"/><circle cx="424.0" cy="266.6" r="4.6"/><path d="M419.4,266.6H428.6M424.0,262.0V271.20000000000005"/><circle cx="424.6" cy="273.2" r="4.6"/><path d="M420.0,273.2H429.20000000000005M424.6,268.59999999999997V277.8"/><circle cx="429.5" cy="279.2" r="4.6"/><path d="M424.6,274.3L434.4,284.09999999999997M434.4,274.3L424.6,284.09999999999997"/><circle cx="440.8" cy="276.7" r="4.6"/><path d="M435.90000000000003,271.8L445.7,281.59999999999997M445.7,271.8L435.90000000000003,281.59999999999997"/><path d="M503.2,258.6L509.59999999999997,265.0L503.2,271.4L496.8,265.0ZM496.8,265.0H509.59999999999997M503.2,258.6V271.4"/><circle cx="393.9" cy="290.7" r="4.6"/><path d="M389.29999999999995,290.7H398.5M393.9,286.09999999999997V295.3"/><circle cx="405.3" cy="285.5" r="4.6"/><path d="M400.40000000000003,280.6L410.2,290.4M410.2,280.6L400.40000000000003,290.4"/><circle cx="405.6" cy="290.5" r="4.6"/><path d="M400.70000000000005,285.6L410.5,295.4M410.5,285.6L400.70000000000005,295.4"/><circle cx="410.7" cy="290.8" r="4.6"/><path d="M405.8,285.90000000000003L415.59999999999997,295.7M415.59999999999997,285.90000000000003L405.8,295.7"/><circle cx="439.8" cy="290.5" r="4.6"/><path d="M434.90000000000003,285.6L444.7,295.4M444.7,285.6L434.90000000000003,295.4"/><path d="M455.0,282.5L461.4,288.9L455.0,295.29999999999995L448.6,288.9ZM448.6,288.9H461.4M455.0,282.5V295.29999999999995"/><circle cx="464.5" cy="292.7" r="4.6"/><path d="M459.9,292.7H469.1M464.5,288.09999999999997V297.3"/><circle cx="486.4" cy="290.8" r="4.6"/><path d="M481.5,285.90000000000003L491.29999999999995,295.7M491.29999999999995,285.90000000000003L481.5,295.7"/><path d="M499.3,278.90000000000003L505.7,285.3L499.3,291.7L492.90000000000003,285.3ZM492.90000000000003,285.3H505.7M499.3,278.90000000000003V291.7"/><circle cx="521.9" cy="289.7" r="4.6"/><path d="M517.0,284.8L526.8,294.59999999999997M526.8,284.8L517.0,294.59999999999997"/><circle cx="527.8" cy="303.0" r="4.6"/><path d="M522.9,298.1L532.6999999999999,307.9M532.6999999999999,298.1L522.9,307.9"/><path d="M561.4,279.20000000000005L567.8,285.6L561.4,292.0L555.0,285.6ZM555.0,285.6H567.8M561.4,279.20000000000005V292.0"/><circle cx="602.3" cy="279.4" r="4.6"/><path d="M597.4,274.5L607.1999999999999,284.29999999999995M607.1999999999999,274.5L597.4,284.29999999999995"/><circle cx="441.0" cy="297.5" r="4.6"/><path d="M436.1,292.6L445.9,302.4M445.9,292.6L436.1,302.4"/><circle cx="410.7" cy="306.9" r="4.6"/><path d="M405.8,302.0L415.59999999999997,311.79999999999995M415.59999999999997,302.0L405.8,311.79999999999995"/><circle cx="419.6" cy="301.5" r="4.6"/><path d="M414.70000000000005,296.6L424.5,306.4M424.5,296.6L414.70000000000005,306.4"/><circle cx="422.1" cy="309.8" r="4.6"/><path d="M417.5,309.8H426.70000000000005M422.1,305.2V314.40000000000003"/><circle cx="428.8" cy="305.5" r="4.6"/><path d="M423.90000000000003,300.6L433.7,310.4M433.7,300.6L423.90000000000003,310.4"/><circle cx="436.5" cy="307.8" r="4.6"/><path d="M431.6,302.90000000000003L441.4,312.7M441.4,302.90000000000003L431.6,312.7"/><circle cx="441.1" cy="312.6" r="4.6"/><path d="M436.5,312.6H445.70000000000005M441.1,308.0V317.20000000000005"/><path d="M429.8,310.1L436.2,316.5L429.8,322.9L423.40000000000003,316.5ZM423.40000000000003,316.5H436.2M429.8,310.1V322.9"/><circle cx="435.7" cy="313.4" r="4.6"/><path d="M430.8,308.5L440.59999999999997,318.29999999999995M440.59999999999997,308.5L430.8,318.29999999999995"/><circle cx="414.8" cy="326.5" r="4.6"/><path d="M409.90000000000003,321.6L419.7,331.4M419.7,321.6L409.90000000000003,331.4"/><circle cx="385.0" cy="310.7" r="4.6"/><path d="M380.1,305.8L389.9,315.59999999999997M389.9,305.8L380.1,315.59999999999997"/><circle cx="385.7" cy="316.6" r="4.6"/><path d="M381.09999999999997,316.6H390.3M385.7,312.0V321.20000000000005"/><path d="M380.6,313.90000000000003L387.0,320.3L380.6,326.7L374.20000000000005,320.3ZM374.20000000000005,320.3H387.0M380.6,313.90000000000003V326.7"/><circle cx="363.7" cy="303.5" r="4.6"/><path d="M358.8,298.6L368.59999999999997,308.4M368.59999999999997,298.6L358.8,308.4"/><path d="M364.0,298.20000000000005L370.4,304.6L364.0,311.0L357.6,304.6ZM357.6,304.6H370.4M364.0,298.20000000000005V311.0"/><circle cx="364.0" cy="304.6" r="4.6"/><path d="M359.4,304.6H368.6M364.0,300.0V309.20000000000005"/><circle cx="357.0" cy="321.0" r="4.6"/><path d="M352.1,316.1L361.9,325.9M361.9,316.1L352.1,325.9"/><circle cx="361.7" cy="327.6" r="4.6"/><path d="M356.8,322.70000000000005L366.59999999999997,332.5M366.59999999999997,322.70000000000005L356.8,332.5"/><circle cx="354.1" cy="330.2" r="4.6"/><path d="M349.20000000000005,325.3L359.0,335.09999999999997M359.0,325.3L349.20000000000005,335.09999999999997"/><circle cx="342.5" cy="327.6" r="4.6"/><path d="M337.6,322.70000000000005L347.4,332.5M347.4,322.70000000000005L337.6,332.5"/><circle cx="346.6" cy="314.0" r="4.6"/><path d="M342.0,314.0H351.20000000000005M346.6,309.4V318.6"/><circle cx="345.6" cy="283.8" r="4.6"/><path d="M340.70000000000005,278.90000000000003L350.5,288.7M350.5,278.90000000000003L340.70000000000005,288.7"/><circle cx="382.8" cy="309.4" r="4.6"/><path d="M377.90000000000003,304.5L387.7,314.29999999999995M387.7,304.5L377.90000000000003,314.29999999999995"/><circle cx="296.3" cy="278.4" r="4.6"/><path d="M291.40000000000003,273.5L301.2,283.29999999999995M301.2,273.5L291.40000000000003,283.29999999999995"/><circle cx="297.0" cy="283.5" r="4.6"/><path d="M292.1,278.6L301.9,288.4M301.9,278.6L292.1,288.4"/><circle cx="297.0" cy="287.8" r="4.6"/><path d="M292.1,282.90000000000003L301.9,292.7M301.9,282.90000000000003L292.1,292.7"/><circle cx="297.0" cy="292.2" r="4.6"/><path d="M292.1,287.3L301.9,297.09999999999997M301.9,287.3L292.1,297.09999999999997"/><circle cx="310.9" cy="281.0" r="4.6"/><path d="M306.0,276.1L315.79999999999995,285.9M315.79999999999995,276.1L306.0,285.9"/><circle cx="318.9" cy="290.0" r="4.6"/><path d="M314.0,285.1L323.79999999999995,294.9M323.79999999999995,285.1L314.0,294.9"/><circle cx="330.6" cy="293.7" r="4.6"/><path d="M325.70000000000005,288.8L335.5,298.59999999999997M335.5,288.8L325.70000000000005,298.59999999999997"/><circle cx="330.7" cy="291.9" r="4.6"/><path d="M325.8,287.0L335.59999999999997,296.79999999999995M335.59999999999997,287.0L325.8,296.79999999999995"/><circle cx="335.5" cy="290.6" r="4.6"/><path d="M330.6,285.70000000000005L340.4,295.5M340.4,285.70000000000005L330.6,295.5"/><circle cx="340.0" cy="292.0" r="4.6"/><path d="M335.1,287.1L344.9,296.9M344.9,287.1L335.1,296.9"/><circle cx="344.0" cy="296.0" r="4.6"/><path d="M339.1,291.1L348.9,300.9M348.9,291.1L339.1,300.9"/><circle cx="348.0" cy="290.0" r="4.6"/><path d="M343.1,285.1L352.9,294.9M352.9,285.1L343.1,294.9"/><circle cx="352.0" cy="293.0" r="4.6"/><path d="M347.1,288.1L356.9,297.9M356.9,288.1L347.1,297.9"/><circle cx="346.0" cy="300.0" r="4.6"/><path d="M341.1,295.1L350.9,304.9M350.9,295.1L341.1,304.9"/><circle cx="341.0" cy="299.0" r="4.6"/><path d="M336.1,294.1L345.9,303.9M345.9,294.1L336.1,303.9"/><circle cx="350.0" cy="297.0" r="4.6"/><path d="M345.1,292.1L354.9,301.9M354.9,292.1L345.1,301.9"/><circle cx="354.0" cy="300.0" r="4.6"/><path d="M349.1,295.1L358.9,304.9M358.9,295.1L349.1,304.9"/><circle cx="343.0" cy="288.0" r="4.6"/><path d="M338.1,283.1L347.9,292.9M347.9,283.1L338.1,292.9"/><circle cx="328.5" cy="305.0" r="4.6"/><path d="M323.6,300.1L333.4,309.9M333.4,300.1L323.6,309.9"/><circle cx="316.7" cy="302.4" r="4.6"/><path d="M311.8,297.5L321.59999999999997,307.29999999999995M321.59999999999997,297.5L311.8,307.29999999999995"/><circle cx="308.7" cy="305.4" r="4.6"/><path d="M303.8,300.5L313.59999999999997,310.29999999999995M313.59999999999997,300.5L303.8,310.29999999999995"/><circle cx="305.8" cy="306.5" r="4.6"/><path d="M300.90000000000003,301.6L310.7,311.4M310.7,301.6L300.90000000000003,311.4"/><circle cx="327.7" cy="304.6" r="4.6"/><path d="M322.8,299.70000000000005L332.59999999999997,309.5M332.59999999999997,299.70000000000005L322.8,309.5"/><circle cx="329.9" cy="313.4" r="4.6"/><path d="M325.0,308.5L334.79999999999995,318.29999999999995M334.79999999999995,308.5L325.0,318.29999999999995"/><circle cx="311.6" cy="316.3" r="4.6"/><path d="M306.70000000000005,311.40000000000003L316.5,321.2M316.5,311.40000000000003L306.70000000000005,321.2"/><circle cx="321.1" cy="317.0" r="4.6"/><path d="M316.20000000000005,312.1L326.0,321.9M326.0,312.1L316.20000000000005,321.9"/><circle cx="325.5" cy="320.7" r="4.6"/><path d="M320.6,315.8L330.4,325.59999999999997M330.4,315.8L320.6,325.59999999999997"/><circle cx="341.5" cy="309.7" r="4.6"/><path d="M336.6,304.8L346.4,314.59999999999997M346.4,304.8L336.6,314.59999999999997"/><circle cx="357.6" cy="320.7" r="4.6"/><path d="M352.70000000000005,315.8L362.5,325.59999999999997M362.5,315.8L352.70000000000005,325.59999999999997"/><circle cx="297.0" cy="313.6" r="4.6"/><path d="M292.1,308.70000000000005L301.9,318.5M301.9,308.70000000000005L292.1,318.5"/><circle cx="277.3" cy="311.3" r="4.6"/><path d="M272.40000000000003,306.40000000000003L282.2,316.2M282.2,306.40000000000003L272.40000000000003,316.2"/><circle cx="273.6" cy="317.8" r="4.6"/><path d="M268.70000000000005,312.90000000000003L278.5,322.7M278.5,312.90000000000003L268.70000000000005,322.7"/><circle cx="338.6" cy="323.6" r="4.6"/><path d="M333.70000000000005,318.70000000000005L343.5,328.5M343.5,318.70000000000005L333.70000000000005,328.5"/><circle cx="258.2" cy="320.4" r="4.6"/><path d="M253.29999999999998,315.5L263.09999999999997,325.29999999999995M263.09999999999997,315.5L253.29999999999998,325.29999999999995"/><circle cx="264.8" cy="319.0" r="4.6"/><path d="M259.90000000000003,314.1L269.7,323.9M269.7,314.1L259.90000000000003,323.9"/><circle cx="271.4" cy="319.0" r="4.6"/><path d="M266.5,314.1L276.29999999999995,323.9M276.29999999999995,314.1L266.5,323.9"/><circle cx="274.3" cy="316.8" r="4.6"/><path d="M269.40000000000003,311.90000000000003L279.2,321.7M279.2,311.90000000000003L269.40000000000003,321.7"/><circle cx="266.3" cy="332.8" r="4.6"/><path d="M261.40000000000003,327.90000000000003L271.2,337.7M271.2,327.90000000000003L261.40000000000003,337.7"/><circle cx="246.5" cy="336.5" r="4.6"/><path d="M241.6,331.6L251.4,341.4M251.4,331.6L241.6,341.4"/><circle cx="264.2" cy="343.1" r="4.6"/><path d="M259.3,338.20000000000005L269.09999999999997,348.0M269.09999999999997,338.20000000000005L259.3,348.0"/><circle cx="281.0" cy="330.0" r="4.6"/><path d="M276.1,325.1L285.9,334.9M285.9,325.1L276.1,334.9"/><circle cx="285.0" cy="334.0" r="4.6"/><path d="M280.1,329.1L289.9,338.9M289.9,329.1L280.1,338.9"/><circle cx="289.0" cy="330.0" r="4.6"/><path d="M284.1,325.1L293.9,334.9M293.9,325.1L284.1,334.9"/><circle cx="292.0" cy="336.0" r="4.6"/><path d="M287.1,331.1L296.9,340.9M296.9,331.1L287.1,340.9"/><circle cx="283.0" cy="337.0" r="4.6"/><path d="M278.1,332.1L287.9,341.9M287.9,332.1L278.1,341.9"/><circle cx="298.4" cy="335.8" r="4.6"/><path d="M293.5,330.90000000000003L303.29999999999995,340.7M303.29999999999995,330.90000000000003L293.5,340.7"/><circle cx="307.2" cy="335.0" r="4.6"/><path d="M302.3,330.1L312.09999999999997,339.9M312.09999999999997,330.1L302.3,339.9"/><circle cx="313.0" cy="332.8" r="4.6"/><path d="M308.1,327.90000000000003L317.9,337.7M317.9,327.90000000000003L308.1,337.7"/><circle cx="297.7" cy="313.9" r="4.6"/><path d="M292.8,309.0L302.59999999999997,318.79999999999995M302.59999999999997,309.0L292.8,318.79999999999995"/><circle cx="310.8" cy="316.0" r="4.6"/><path d="M305.90000000000003,311.1L315.7,320.9M315.7,311.1L305.90000000000003,320.9"/><circle cx="321.8" cy="317.5" r="4.6"/><path d="M316.90000000000003,312.6L326.7,322.4M326.7,312.6L316.90000000000003,322.4"/><circle cx="329.0" cy="320.4" r="4.6"/><path d="M324.1,315.5L333.9,325.29999999999995M333.9,315.5L324.1,325.29999999999995"/><circle cx="327.6" cy="305.0" r="4.6"/><path d="M322.70000000000005,300.1L332.5,309.9M332.5,300.1L322.70000000000005,309.9"/><circle cx="336.4" cy="326.3" r="4.6"/><path d="M331.5,321.40000000000003L341.29999999999995,331.2M341.29999999999995,321.40000000000003L331.5,331.2"/><circle cx="310.0" cy="305.8" r="4.6"/><path d="M305.1,300.90000000000003L314.9,310.7M314.9,300.90000000000003L305.1,310.7"/></g><rect x="45.4" y="180.8" width="588.2" height="279.09999999999997" fill="none" stroke="#262626" stroke-width="1.4"/><path d="M45.40,459.9V453.59999999999997M104.22,459.9V456.4M163.04,459.9V453.59999999999997M221.86,459.9V456.4M280.68,459.9V453.59999999999997M339.50,459.9V456.4M398.32,459.9V453.59999999999997M457.14,459.9V456.4M515.96,459.9V453.59999999999997M574.78,459.9V456.4M633.60,459.9V453.59999999999997M45.4,431.40H51.699999999999996M45.4,403.60H48.9M45.4,375.80H51.699999999999996M45.4,348.00H48.9M45.4,320.20H51.699999999999996M45.4,292.40H48.9M45.4,264.60H51.699999999999996M45.4,236.80H48.9M45.4,209.00H51.699999999999996M45.4,459.20H48.9" stroke="#262626" stroke-width="1.3"/><text x="46.70" y="473.9" font-size="12.4" letter-spacing="0.8" text-anchor="middle" fill="#2a2a2a">0.2</text><text x="164.34" y="473.9" font-size="12.4" letter-spacing="0.8" text-anchor="middle" fill="#2a2a2a">0.4</text><text x="281.98" y="473.9" font-size="12.4" letter-spacing="0.8" text-anchor="middle" fill="#2a2a2a">0.6</text><text x="399.62" y="473.9" font-size="12.4" letter-spacing="0.8" text-anchor="middle" fill="#2a2a2a">0.8</text><text x="517.26" y="473.9" font-size="12.4" letter-spacing="0.8" text-anchor="middle" fill="#2a2a2a">1.0</text><text x="634.90" y="473.9" font-size="12.4" letter-spacing="0.8" text-anchor="middle" fill="#2a2a2a">1.2</text><text x="45.5" y="435.80" font-size="12.4" letter-spacing="0.8" text-anchor="end" fill="#2a2a2a">1.6</text><text x="45.5" y="380.20" font-size="12.4" letter-spacing="0.8" text-anchor="end" fill="#2a2a2a">1.7</text><text x="45.5" y="324.60" font-size="12.4" letter-spacing="0.8" text-anchor="end" fill="#2a2a2a">1.8</text><text x="45.5" y="269.00" font-size="12.4" letter-spacing="0.8" text-anchor="end" fill="#2a2a2a">1.9</text><text x="45.5" y="213.40" font-size="12.4" letter-spacing="0.8" text-anchor="end" fill="#2a2a2a">2.0</text><text transform="translate(11.6 337) rotate(-90)" font-size="14.5" fill="#222">Δ<tspan font-style="italic">χ</tspan><tspan font-size="9.5" dy="6.6">TM</tspan></text><text x="332.3" y="484.3" font-size="17" font-style="italic" fill="#222">W<tspan font-style="normal" font-size="10" dx="-1.8" dy="4.4">x</tspan></text><text x="22.6" y="190.8" font-size="15" font-weight="bold" fill="#000">d</text><rect x="509.2" y="372.3" width="11.2" height="8.6" fill="#c4262e"/><rect x="554.1" y="372.3" width="11" height="8.6" fill="#2b3a8c"/><text x="525" y="381" font-size="13" fill="#333">O3</text><text x="570.4" y="381" font-size="13" fill="#333">P2</text><g fill="none" stroke="#222" stroke-width="1"><circle cx="515.2" cy="396.6" r="5.2"/><path d="M510.6,396.6H519.8000000000001M515.2,392.0V401.20000000000005"/><circle cx="515.2" cy="418.8" r="5.2"/><path d="M510.30000000000007,413.90000000000003L520.1,423.7M520.1,413.90000000000003L510.30000000000007,423.7"/></g><g fill="none" stroke="#222" stroke-width="1"><path d="M515.2,430.8L522.2,437.8L515.2,444.8L508.2,437.8ZM508.2,437.8H522.2M515.2,430.8V444.8"/></g><text x="524.5" y="400.8" font-size="13" fill="#333">Low entropy</text><text x="524.5" y="423" font-size="13" fill="#333">High entropy</text><text x="524.5" y="442.6" font-size="13" fill="#333">Medium entropy</text><text x="22.4" y="496.2" font-size="16" font-weight="bold" fill="#000">e</text><rect x="45.80" y="498.8" width="56.62" height="55.7" fill="#ebb7a3"/><rect x="102.42" y="498.8" width="56.62" height="55.7" fill="#f0a089"/><rect x="159.04" y="498.8" width="56.62" height="55.7" fill="#e07a69"/><rect x="215.66" y="498.8" width="56.62" height="55.7" fill="#ee9480"/><rect x="272.28" y="498.8" width="56.62" height="55.7" fill="#d35f55"/><rect x="328.90" y="498.8" width="56.62" height="55.7" fill="#a72832"/><line x1="102.42" y1="498.8" x2="102.42" y2="554.5" stroke="#ffffff" stroke-width="1.3"/><line x1="159.04" y1="498.8" x2="159.04" y2="554.5" stroke="#ffffff" stroke-width="1.3"/><line x1="215.66" y1="498.8" x2="215.66" y2="554.5" stroke="#ffffff" stroke-width="1.3"/><line x1="272.28" y1="498.8" x2="272.28" y2="554.5" stroke="#ffffff" stroke-width="1.3"/><line x1="328.90" y1="498.8" x2="328.90" y2="554.5" stroke="#ffffff" stroke-width="1.3"/><text x="73.11" y="530" font-size="11" text-anchor="middle" fill="#fbeee8">0.22</text><text x="129.73" y="530" font-size="11" text-anchor="middle" fill="#fbeee8">0.69</text><text x="186.35" y="530" font-size="11" text-anchor="middle" fill="#fbeee8">0.67</text><text x="242.97" y="530" font-size="11" text-anchor="middle" fill="#fbeee8">0.72</text><text x="299.59" y="530" font-size="11" text-anchor="middle" fill="#fbeee8">0.82</text><text x="356.21" y="530" font-size="11" text-anchor="middle" fill="#fbeee8">1.00</text><text x="10" y="534.5" font-size="12.5" fill="#222">O3 %</text><text x="53.2" y="571.9" font-size="14" fill="#222">|<tspan font-style="italic">S</tspan><tspan font-size="7.8" dy="2.9">config</tspan><tspan dy="-2.9" dx="2.5">|</tspan></text><text x="124.5" y="568.3" font-size="13" font-style="italic" fill="#222">n<tspan font-style="normal" font-size="8" dy="3">A</tspan></text><line x1="118.2" y1="572.9" x2="148.9" y2="572.9" stroke="#333" stroke-width="0.8"/><text x="118" y="581.6" font-size="13" font-style="italic" fill="#222">n<tspan font-style="normal" font-size="7.8" dy="3.4">Cation</tspan></text><text x="176.8" y="572.6" font-size="14" fill="#222">Δ<tspan font-style="italic">χ</tspan><tspan font-size="7.2" dy="2.2">TM</tspan></text><line x1="239.5" y1="560.6" x2="254.8" y2="560.6" stroke="#333" stroke-width="0.8"/><text x="239.6" y="571.4" font-size="14" font-style="italic" fill="#222">r<tspan font-style="normal" font-size="7.2" dy="3">TM</tspan></text><text x="295.8" y="571.2" font-size="14" font-style="italic" fill="#222">W<tspan font-style="normal" font-size="8.5" dy="4.4">x</tspan></text><text x="343.8" y="571.2" font-size="12.6" fill="#222">O3 %</text><rect x="44.1" y="593.4" width="341.4" height="12.5" fill="url(#spc)"/><path d="M44.6,607.5V613.9M385,607.5V613.9" stroke="#555" stroke-width="0.7"/><text x="33.6" y="621.5" font-size="9.5" fill="#444">-1.00</text><text x="375" y="621.5" font-size="9.5" fill="#444">1.00</text><text x="92.6" y="618.8" font-size="13" fill="#222">Spearman's rank correlation coefficient</text><text x="385.4" y="496" font-size="15.5" font-weight="bold" fill="#000">f</text><line x1="394.3" y1="498.9" x2="635.4" y2="498.9" stroke="#d9777e" stroke-width="1.6" stroke-dasharray="4.8,4" stroke-dashoffset="2.5"/><path d="M405,617.6L409.5,611.3L414.7,604.1L419.9,597.9L425.1,587.5L430.3,579.2L434.4,571.9L439.6,561.6L444.8,553.3L449.3,543.9L453.1,532.5L457.2,527.3L462.4,520.7L466.6,516.6L471.7,513.9L478,512.3L488.3,512.3L498.7,512.3L502.9,510.7L510.1,508.0L512.6,504L514.3,497.3L515.6,504L517.4,507.6L523.6,510.3L529.8,512.2L535,512.5L541.6,512.5L554,512.5L559.2,513.8L564.4,517.4L568.5,522.1L574.7,532.5L578.9,540.8L584.1,552.2L589.2,561.5L595.5,572.9L600.6,582.2L605.8,591.5L612,600.9L618.2,610.2L624,618.1" fill="none" stroke="#1e1311" stroke-width="3.1" stroke-linejoin="round" stroke-linecap="round"/><rect x="394.3" y="490.8" width="241.09999999999997" height="133.2" fill="none" stroke="#1a1a1a" stroke-width="1.4"/><path d="M404.90,624.0V621.5M444.85,624.0V621.5M484.80,624.0V621.5M524.75,624.0V621.5M564.70,624.0V621.5M604.65,624.0V621.5M635.4,618.10H632.4M635.4,588.95H632.4M635.4,559.80H632.4M635.4,530.65H632.4M635.4,501.50H632.4" stroke="#1a1a1a" stroke-width="1.1"/><text x="404.90" y="635.4" font-size="9" text-anchor="middle" fill="#333">0</text><text x="444.85" y="635.4" font-size="9" text-anchor="middle" fill="#333">1000</text><text x="484.80" y="635.4" font-size="9" text-anchor="middle" fill="#333">2000</text><text x="524.75" y="635.4" font-size="9" text-anchor="middle" fill="#333">3000</text><text x="564.70" y="635.4" font-size="9" text-anchor="middle" fill="#333">4000</text><text x="604.65" y="635.4" font-size="9" text-anchor="middle" fill="#333">5000</text><text x="637.6" y="621.40" font-size="9" fill="#333">0.0</text><text x="637.6" y="592.25" font-size="9" fill="#333">0.2</text><text x="637.6" y="563.10" font-size="9" fill="#333">0.4</text><text x="637.6" y="533.95" font-size="9" fill="#333">0.6</text><text x="637.6" y="504.80" font-size="9" fill="#333">0.8</text><text x="489.4" y="647.6" font-size="13" fill="#222">Index (n)</text><text transform="translate(664 559.5) rotate(-90)" font-size="13" text-anchor="middle" fill="#222">Absolute Spearman</text><text x="568.4" y="511" font-size="11" fill="#444">This Work</text><circle cx="422.1" cy="615.7" r="2.3" fill="none" stroke="#222" stroke-width="1.1"/><text x="426.8" y="619" font-size="11" fill="#333">Values</text>
</svg></body></html>
